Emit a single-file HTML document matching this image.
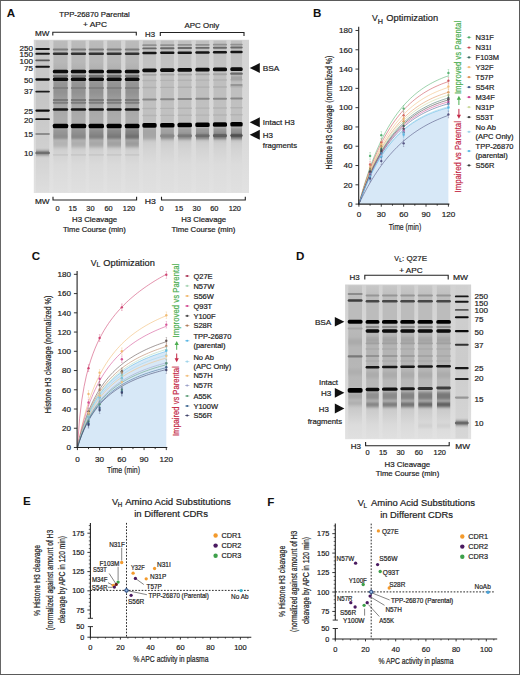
<!DOCTYPE html><html><head><meta charset="utf-8"><style>html,body{margin:0;padding:0;background:#fff;overflow:hidden}svg{display:block}text{font-family:"Liberation Sans",sans-serif}</style></head><body>
<svg width="520" height="675" viewBox="0 0 520 675">
<defs><filter id="bl" x="-20%" y="-200%" width="140%" height="500%"><feGaussianBlur stdDeviation="0.45 0.55"/></filter><filter id="bl2" x="-20%" y="-50%" width="140%" height="200%"><feGaussianBlur stdDeviation="0.6 1.2"/></filter><filter id="gblur" x="-5%" y="-5%" width="110%" height="110%"><feGaussianBlur stdDeviation="0.6 0.6"/></filter><filter id="smear" x="-10%" y="-60%" width="120%" height="220%"><feGaussianBlur stdDeviation="0.4 1.6"/></filter><filter id="bl3" x="-10%" y="-10%" width="120%" height="120%"><feGaussianBlur stdDeviation="0.5"/></filter></defs>
<rect x="0.00" y="0.00" width="520.00" height="675.00" fill="#fff"/>
<text x="6.80" y="16.80" font-size="11.6" text-anchor="start" fill="#111" font-weight="bold">A</text>
<text x="312.90" y="16.80" font-size="11.6" text-anchor="start" fill="#111" font-weight="bold">B</text>
<text x="31.70" y="260.30" font-size="11.6" text-anchor="start" fill="#111" font-weight="bold">C</text>
<text x="296.10" y="260.10" font-size="11.6" text-anchor="start" fill="#111" font-weight="bold">D</text>
<text x="22.90" y="504.90" font-size="11.6" text-anchor="start" fill="#111" font-weight="bold">E</text>
<text x="267.20" y="505.90" font-size="11.6" text-anchor="start" fill="#111" font-weight="bold">F</text>
<text x="59.20" y="16.90" font-size="7.8" text-anchor="start" fill="#222" stroke="#222" stroke-width="0.2" textLength="70.60" lengthAdjust="spacingAndGlyphs">TPP-26870 Parental</text>
<text x="83.00" y="26.90" font-size="7.8" text-anchor="start" fill="#222" stroke="#222" stroke-width="0.2" textLength="24.00" lengthAdjust="spacingAndGlyphs">+ APC</text>
<text x="184.50" y="28.00" font-size="7.8" text-anchor="start" fill="#222" stroke="#222" stroke-width="0.2" textLength="34.80" lengthAdjust="spacingAndGlyphs">APC Only</text>
<text x="35.00" y="36.30" font-size="7.4" text-anchor="start" fill="#222" stroke="#222" stroke-width="0.2" textLength="14.40" lengthAdjust="spacingAndGlyphs">MW</text>
<text x="145.00" y="37.00" font-size="7.4" text-anchor="start" fill="#222" stroke="#222" stroke-width="0.2" textLength="10.00" lengthAdjust="spacingAndGlyphs">H3</text>
<path d="M52.80,35.60 L52.80,32.30 L136.30,32.30 L136.30,35.60" fill="none" stroke="#222" stroke-width="1.1"/>
<path d="M160.30,36.00 L160.30,32.50 L244.00,32.50 L244.00,36.00" fill="none" stroke="#222" stroke-width="1.1"/>
<linearGradient id="gbg1" gradientUnits="userSpaceOnUse" x1="0" y1="39.8" x2="0" y2="193.0"><stop offset="0.000" stop-color="rgb(212,212,212)"/><stop offset="0.262" stop-color="rgb(214,214,214)"/><stop offset="0.654" stop-color="rgb(218,218,218)"/><stop offset="1.000" stop-color="rgb(226,226,226)"/></linearGradient>
<rect x="33.80" y="39.80" width="215.20" height="153.20" fill="url(#gbg1)"/>
<g filter="url(#gblur)">
<linearGradient id="lg1_0" gradientUnits="userSpaceOnUse" x1="0" y1="39.8" x2="0" y2="193.0"><stop offset="0.001" stop-color="rgb(200,200,200)"/><stop offset="0.393" stop-color="rgb(198,198,198)"/><stop offset="0.719" stop-color="rgb(208,208,208)"/><stop offset="1.000" stop-color="rgb(222,222,222)"/></linearGradient>
<rect x="35.90" y="40.60" width="13.40" height="151.60" fill="url(#lg1_0)"/>
<rect x="35.30" y="48.05" width="14.60" height="1.90" rx="0.95" fill="rgb(25,25,25)"/>
<rect x="35.30" y="52.85" width="14.60" height="1.90" rx="0.95" fill="rgb(25,25,25)"/>
<rect x="35.30" y="59.45" width="14.60" height="1.70" rx="0.85" fill="rgb(90,90,90)"/>
<rect x="35.30" y="65.75" width="14.60" height="1.90" rx="0.95" fill="rgb(20,20,20)"/>
<rect x="35.30" y="78.35" width="14.60" height="2.30" rx="1.15" fill="rgb(15,15,15)"/>
<rect x="35.30" y="90.65" width="14.60" height="1.90" rx="0.95" fill="rgb(30,30,30)"/>
<rect x="35.30" y="109.50" width="14.60" height="2.20" rx="1.10" fill="rgb(15,15,15)"/>
<rect x="35.30" y="118.30" width="14.60" height="1.80" rx="0.90" fill="rgb(25,25,25)"/>
<rect x="35.30" y="132.90" width="14.60" height="2.20" rx="1.10" fill="rgb(140,140,140)"/>
<rect x="36.00" y="150.80" width="13.20" height="4.20" fill="rgb(125,125,125)" filter="url(#smear)"/>
<rect x="35.30" y="151.70" width="14.60" height="2.40" rx="1.20" fill="rgb(110,110,110)"/>
<linearGradient id="lg1_1" gradientUnits="userSpaceOnUse" x1="0" y1="39.8" x2="0" y2="193.0"><stop offset="0.001" stop-color="rgb(188,188,188)"/><stop offset="0.067" stop-color="rgb(184,184,184)"/><stop offset="0.145" stop-color="rgb(184,184,184)"/><stop offset="0.197" stop-color="rgb(176,176,176)"/><stop offset="0.289" stop-color="rgb(148,148,148)"/><stop offset="0.341" stop-color="rgb(145,145,145)"/><stop offset="0.380" stop-color="rgb(155,155,155)"/><stop offset="0.432" stop-color="rgb(166,166,166)"/><stop offset="0.510" stop-color="rgb(172,172,172)"/><stop offset="0.550" stop-color="rgb(172,172,172)"/><stop offset="0.667" stop-color="rgb(196,196,196)"/><stop offset="0.732" stop-color="rgb(210,210,210)"/><stop offset="0.817" stop-color="rgb(218,218,218)"/><stop offset="1.000" stop-color="rgb(224,224,224)"/></linearGradient>
<rect x="53.40" y="40.60" width="14.20" height="151.60" fill="url(#lg1_1)"/>
<rect x="52.80" y="48.60" width="15.40" height="2.00" rx="1.00" fill="rgb(125,125,125)"/>
<rect x="52.80" y="52.50" width="15.40" height="2.60" rx="1.30" fill="rgb(50,50,50)"/>
<rect x="52.80" y="69.65" width="15.40" height="3.70" rx="1.60" fill="rgb(10,10,10)"/>
<rect x="52.80" y="74.90" width="15.40" height="2.20" rx="1.10" fill="rgb(115,115,115)"/>
<rect x="52.80" y="77.55" width="15.40" height="3.50" rx="1.60" fill="rgb(10,10,10)"/>
<rect x="52.80" y="86.90" width="15.40" height="2.20" rx="1.10" fill="rgb(128,128,128)"/>
<rect x="52.80" y="98.90" width="15.40" height="2.00" rx="1.00" fill="rgb(120,120,120)"/>
<rect x="52.80" y="101.80" width="15.40" height="2.00" rx="1.00" fill="rgb(125,125,125)"/>
<rect x="52.80" y="108.20" width="15.40" height="2.60" rx="1.30" fill="rgb(22,22,22)"/>
<rect x="53.50" y="128.50" width="14.00" height="11.00" fill="rgb(150,150,150)" filter="url(#smear)"/>
<rect x="53.50" y="134.75" width="14.00" height="3.50" fill="rgb(140,140,140)" filter="url(#smear)"/>
<rect x="53.50" y="140.00" width="14.00" height="7.00" fill="rgb(180,180,180)" filter="url(#smear)"/>
<rect x="52.80" y="123.70" width="15.40" height="4.60" rx="1.60" fill="rgb(6,6,6)"/>
<rect x="52.80" y="153.90" width="15.40" height="1.80" rx="0.90" fill="rgb(200,200,200)"/>
<linearGradient id="lg1_2" gradientUnits="userSpaceOnUse" x1="0" y1="39.8" x2="0" y2="193.0"><stop offset="0.001" stop-color="rgb(188,188,188)"/><stop offset="0.067" stop-color="rgb(184,184,184)"/><stop offset="0.145" stop-color="rgb(184,184,184)"/><stop offset="0.197" stop-color="rgb(176,176,176)"/><stop offset="0.289" stop-color="rgb(148,148,148)"/><stop offset="0.341" stop-color="rgb(145,145,145)"/><stop offset="0.380" stop-color="rgb(155,155,155)"/><stop offset="0.432" stop-color="rgb(166,166,166)"/><stop offset="0.510" stop-color="rgb(172,172,172)"/><stop offset="0.550" stop-color="rgb(172,172,172)"/><stop offset="0.667" stop-color="rgb(196,196,196)"/><stop offset="0.732" stop-color="rgb(210,210,210)"/><stop offset="0.817" stop-color="rgb(218,218,218)"/><stop offset="1.000" stop-color="rgb(224,224,224)"/></linearGradient>
<rect x="71.40" y="40.60" width="14.20" height="151.60" fill="url(#lg1_2)"/>
<rect x="70.80" y="48.60" width="15.40" height="2.00" rx="1.00" fill="rgb(125,125,125)"/>
<rect x="70.80" y="52.50" width="15.40" height="2.60" rx="1.30" fill="rgb(50,50,50)"/>
<rect x="70.80" y="69.65" width="15.40" height="3.70" rx="1.60" fill="rgb(10,10,10)"/>
<rect x="70.80" y="74.90" width="15.40" height="2.20" rx="1.10" fill="rgb(115,115,115)"/>
<rect x="70.80" y="77.55" width="15.40" height="3.50" rx="1.60" fill="rgb(10,10,10)"/>
<rect x="70.80" y="86.90" width="15.40" height="2.20" rx="1.10" fill="rgb(128,128,128)"/>
<rect x="70.80" y="98.90" width="15.40" height="2.00" rx="1.00" fill="rgb(120,120,120)"/>
<rect x="70.80" y="101.80" width="15.40" height="2.00" rx="1.00" fill="rgb(125,125,125)"/>
<rect x="70.80" y="108.20" width="15.40" height="2.60" rx="1.30" fill="rgb(22,22,22)"/>
<rect x="71.50" y="128.50" width="14.00" height="11.00" fill="rgb(145,145,145)" filter="url(#smear)"/>
<rect x="71.50" y="134.75" width="14.00" height="3.50" fill="rgb(132,132,132)" filter="url(#smear)"/>
<rect x="71.50" y="140.00" width="14.00" height="7.00" fill="rgb(174,174,174)" filter="url(#smear)"/>
<rect x="70.80" y="123.70" width="15.40" height="4.60" rx="1.60" fill="rgb(6,6,6)"/>
<rect x="70.80" y="153.90" width="15.40" height="1.80" rx="0.90" fill="rgb(200,200,200)"/>
<linearGradient id="lg1_3" gradientUnits="userSpaceOnUse" x1="0" y1="39.8" x2="0" y2="193.0"><stop offset="0.001" stop-color="rgb(188,188,188)"/><stop offset="0.067" stop-color="rgb(184,184,184)"/><stop offset="0.145" stop-color="rgb(184,184,184)"/><stop offset="0.197" stop-color="rgb(176,176,176)"/><stop offset="0.289" stop-color="rgb(148,148,148)"/><stop offset="0.341" stop-color="rgb(145,145,145)"/><stop offset="0.380" stop-color="rgb(155,155,155)"/><stop offset="0.432" stop-color="rgb(166,166,166)"/><stop offset="0.510" stop-color="rgb(172,172,172)"/><stop offset="0.550" stop-color="rgb(172,172,172)"/><stop offset="0.667" stop-color="rgb(196,196,196)"/><stop offset="0.732" stop-color="rgb(210,210,210)"/><stop offset="0.817" stop-color="rgb(218,218,218)"/><stop offset="1.000" stop-color="rgb(224,224,224)"/></linearGradient>
<rect x="89.20" y="40.60" width="14.20" height="151.60" fill="url(#lg1_3)"/>
<rect x="88.60" y="48.60" width="15.40" height="2.00" rx="1.00" fill="rgb(125,125,125)"/>
<rect x="88.60" y="52.50" width="15.40" height="2.60" rx="1.30" fill="rgb(50,50,50)"/>
<rect x="88.60" y="69.65" width="15.40" height="3.70" rx="1.60" fill="rgb(10,10,10)"/>
<rect x="88.60" y="74.90" width="15.40" height="2.20" rx="1.10" fill="rgb(115,115,115)"/>
<rect x="88.60" y="77.55" width="15.40" height="3.50" rx="1.60" fill="rgb(10,10,10)"/>
<rect x="88.60" y="86.90" width="15.40" height="2.20" rx="1.10" fill="rgb(128,128,128)"/>
<rect x="88.60" y="98.90" width="15.40" height="2.00" rx="1.00" fill="rgb(120,120,120)"/>
<rect x="88.60" y="101.80" width="15.40" height="2.00" rx="1.00" fill="rgb(125,125,125)"/>
<rect x="88.60" y="108.20" width="15.40" height="2.60" rx="1.30" fill="rgb(22,22,22)"/>
<rect x="89.30" y="128.50" width="14.00" height="11.00" fill="rgb(140,140,140)" filter="url(#smear)"/>
<rect x="89.30" y="134.75" width="14.00" height="3.50" fill="rgb(124,124,124)" filter="url(#smear)"/>
<rect x="89.30" y="140.00" width="14.00" height="7.00" fill="rgb(168,168,168)" filter="url(#smear)"/>
<rect x="88.60" y="123.70" width="15.40" height="4.60" rx="1.60" fill="rgb(6,6,6)"/>
<rect x="88.60" y="153.90" width="15.40" height="1.80" rx="0.90" fill="rgb(200,200,200)"/>
<linearGradient id="lg1_4" gradientUnits="userSpaceOnUse" x1="0" y1="39.8" x2="0" y2="193.0"><stop offset="0.001" stop-color="rgb(188,188,188)"/><stop offset="0.067" stop-color="rgb(184,184,184)"/><stop offset="0.145" stop-color="rgb(184,184,184)"/><stop offset="0.197" stop-color="rgb(176,176,176)"/><stop offset="0.289" stop-color="rgb(148,148,148)"/><stop offset="0.341" stop-color="rgb(145,145,145)"/><stop offset="0.380" stop-color="rgb(155,155,155)"/><stop offset="0.432" stop-color="rgb(166,166,166)"/><stop offset="0.510" stop-color="rgb(172,172,172)"/><stop offset="0.550" stop-color="rgb(172,172,172)"/><stop offset="0.667" stop-color="rgb(196,196,196)"/><stop offset="0.732" stop-color="rgb(210,210,210)"/><stop offset="0.817" stop-color="rgb(218,218,218)"/><stop offset="1.000" stop-color="rgb(224,224,224)"/></linearGradient>
<rect x="107.20" y="40.60" width="13.90" height="151.60" fill="url(#lg1_4)"/>
<rect x="106.60" y="48.60" width="15.10" height="2.00" rx="1.00" fill="rgb(125,125,125)"/>
<rect x="106.60" y="52.50" width="15.10" height="2.60" rx="1.30" fill="rgb(50,50,50)"/>
<rect x="106.60" y="69.65" width="15.10" height="3.70" rx="1.60" fill="rgb(10,10,10)"/>
<rect x="106.60" y="74.90" width="15.10" height="2.20" rx="1.10" fill="rgb(115,115,115)"/>
<rect x="106.60" y="77.55" width="15.10" height="3.50" rx="1.60" fill="rgb(10,10,10)"/>
<rect x="106.60" y="86.90" width="15.10" height="2.20" rx="1.10" fill="rgb(128,128,128)"/>
<rect x="106.60" y="98.90" width="15.10" height="2.00" rx="1.00" fill="rgb(120,120,120)"/>
<rect x="106.60" y="101.80" width="15.10" height="2.00" rx="1.00" fill="rgb(125,125,125)"/>
<rect x="106.60" y="108.20" width="15.10" height="2.60" rx="1.30" fill="rgb(22,22,22)"/>
<rect x="107.30" y="128.50" width="13.70" height="11.00" fill="rgb(135,135,135)" filter="url(#smear)"/>
<rect x="107.30" y="134.75" width="13.70" height="3.50" fill="rgb(116,116,116)" filter="url(#smear)"/>
<rect x="107.30" y="140.00" width="13.70" height="7.00" fill="rgb(162,162,162)" filter="url(#smear)"/>
<rect x="106.60" y="123.70" width="15.10" height="4.60" rx="1.60" fill="rgb(6,6,6)"/>
<rect x="106.60" y="153.90" width="15.10" height="1.80" rx="0.90" fill="rgb(200,200,200)"/>
<linearGradient id="lg1_5" gradientUnits="userSpaceOnUse" x1="0" y1="39.8" x2="0" y2="193.0"><stop offset="0.001" stop-color="rgb(188,188,188)"/><stop offset="0.067" stop-color="rgb(184,184,184)"/><stop offset="0.145" stop-color="rgb(184,184,184)"/><stop offset="0.197" stop-color="rgb(176,176,176)"/><stop offset="0.289" stop-color="rgb(148,148,148)"/><stop offset="0.341" stop-color="rgb(145,145,145)"/><stop offset="0.380" stop-color="rgb(155,155,155)"/><stop offset="0.432" stop-color="rgb(166,166,166)"/><stop offset="0.510" stop-color="rgb(172,172,172)"/><stop offset="0.550" stop-color="rgb(172,172,172)"/><stop offset="0.667" stop-color="rgb(196,196,196)"/><stop offset="0.732" stop-color="rgb(210,210,210)"/><stop offset="0.817" stop-color="rgb(218,218,218)"/><stop offset="1.000" stop-color="rgb(224,224,224)"/></linearGradient>
<rect x="125.40" y="40.60" width="13.50" height="151.60" fill="url(#lg1_5)"/>
<rect x="124.80" y="48.60" width="14.70" height="2.00" rx="1.00" fill="rgb(125,125,125)"/>
<rect x="124.80" y="52.50" width="14.70" height="2.60" rx="1.30" fill="rgb(50,50,50)"/>
<rect x="124.80" y="69.65" width="14.70" height="3.70" rx="1.60" fill="rgb(10,10,10)"/>
<rect x="124.80" y="74.90" width="14.70" height="2.20" rx="1.10" fill="rgb(115,115,115)"/>
<rect x="124.80" y="77.55" width="14.70" height="3.50" rx="1.60" fill="rgb(10,10,10)"/>
<rect x="124.80" y="86.90" width="14.70" height="2.20" rx="1.10" fill="rgb(128,128,128)"/>
<rect x="124.80" y="98.90" width="14.70" height="2.00" rx="1.00" fill="rgb(120,120,120)"/>
<rect x="124.80" y="101.80" width="14.70" height="2.00" rx="1.00" fill="rgb(125,125,125)"/>
<rect x="124.80" y="108.20" width="14.70" height="2.60" rx="1.30" fill="rgb(22,22,22)"/>
<rect x="125.50" y="128.50" width="13.30" height="11.00" fill="rgb(130,130,130)" filter="url(#smear)"/>
<rect x="125.50" y="134.75" width="13.30" height="3.50" fill="rgb(108,108,108)" filter="url(#smear)"/>
<rect x="125.50" y="140.00" width="13.30" height="7.00" fill="rgb(156,156,156)" filter="url(#smear)"/>
<rect x="124.80" y="123.70" width="14.70" height="4.60" rx="1.60" fill="rgb(6,6,6)"/>
<rect x="124.80" y="153.90" width="14.70" height="1.80" rx="0.90" fill="rgb(200,200,200)"/>
<linearGradient id="lg1_6" gradientUnits="userSpaceOnUse" x1="0" y1="39.8" x2="0" y2="193.0"><stop offset="0.001" stop-color="rgb(192,192,192)"/><stop offset="0.067" stop-color="rgb(192,192,192)"/><stop offset="0.164" stop-color="rgb(195,195,195)"/><stop offset="0.262" stop-color="rgb(191,191,191)"/><stop offset="0.360" stop-color="rgb(191,191,191)"/><stop offset="0.458" stop-color="rgb(193,193,193)"/><stop offset="0.523" stop-color="rgb(192,192,192)"/><stop offset="0.667" stop-color="rgb(205,205,205)"/><stop offset="0.719" stop-color="rgb(212,212,212)"/><stop offset="0.817" stop-color="rgb(220,220,220)"/><stop offset="1.000" stop-color="rgb(224,224,224)"/></linearGradient>
<rect x="142.90" y="40.60" width="13.20" height="151.60" fill="url(#lg1_6)"/>
<rect x="142.30" y="44.35" width="14.40" height="1.70" rx="0.85" fill="rgb(145,145,145)"/>
<rect x="142.30" y="47.45" width="14.40" height="1.90" rx="0.95" fill="rgb(105,105,105)"/>
<rect x="142.30" y="51.85" width="14.40" height="2.50" rx="1.25" fill="rgb(20,20,20)"/>
<rect x="142.30" y="68.40" width="14.40" height="3.80" rx="1.60" fill="rgb(8,8,8)"/>
<rect x="142.30" y="73.90" width="14.40" height="1.80" rx="0.90" fill="rgb(165,165,165)"/>
<rect x="142.30" y="98.40" width="14.40" height="2.00" rx="1.00" fill="rgb(135,135,135)"/>
<rect x="143.00" y="127.50" width="13.00" height="12.00" fill="rgb(165,165,165)" filter="url(#smear)"/>
<rect x="142.30" y="123.10" width="14.40" height="4.60" rx="1.60" fill="rgb(6,6,6)"/>
<rect x="142.30" y="79.80" width="14.40" height="1.40" rx="0.70" fill="rgb(178,178,178)"/>
<rect x="142.30" y="86.80" width="14.40" height="1.40" rx="0.70" fill="rgb(176,176,176)"/>
<rect x="142.30" y="107.80" width="14.40" height="1.40" rx="0.70" fill="rgb(178,178,178)"/>
<rect x="142.30" y="114.80" width="14.40" height="1.40" rx="0.70" fill="rgb(180,180,180)"/>
<linearGradient id="lg1_7" gradientUnits="userSpaceOnUse" x1="0" y1="39.8" x2="0" y2="193.0"><stop offset="0.001" stop-color="rgb(192,192,192)"/><stop offset="0.067" stop-color="rgb(192,192,192)"/><stop offset="0.164" stop-color="rgb(195,195,195)"/><stop offset="0.262" stop-color="rgb(191,191,191)"/><stop offset="0.360" stop-color="rgb(191,191,191)"/><stop offset="0.458" stop-color="rgb(193,193,193)"/><stop offset="0.523" stop-color="rgb(192,192,192)"/><stop offset="0.667" stop-color="rgb(205,205,205)"/><stop offset="0.719" stop-color="rgb(212,212,212)"/><stop offset="0.817" stop-color="rgb(220,220,220)"/><stop offset="1.000" stop-color="rgb(224,224,224)"/></linearGradient>
<rect x="160.70" y="40.60" width="13.20" height="151.60" fill="url(#lg1_7)"/>
<rect x="160.10" y="44.22" width="14.40" height="1.70" rx="0.85" fill="rgb(145,145,145)"/>
<rect x="160.10" y="47.27" width="14.40" height="1.90" rx="0.95" fill="rgb(105,105,105)"/>
<rect x="160.10" y="51.62" width="14.40" height="2.50" rx="1.25" fill="rgb(20,20,20)"/>
<rect x="160.10" y="68.17" width="14.40" height="3.80" rx="1.60" fill="rgb(8,8,8)"/>
<rect x="160.10" y="73.76" width="14.40" height="1.80" rx="0.90" fill="rgb(165,165,165)"/>
<rect x="160.10" y="98.22" width="14.40" height="2.00" rx="1.00" fill="rgb(135,135,135)"/>
<rect x="160.80" y="127.50" width="13.00" height="12.00" fill="rgb(161,161,161)" filter="url(#smear)"/>
<rect x="160.80" y="134.41" width="13.00" height="3.60" fill="rgb(138,138,138)" filter="url(#smear)"/>
<rect x="160.10" y="134.61" width="14.40" height="2.60" rx="1.30" fill="rgb(136,136,136)"/>
<rect x="160.10" y="122.88" width="14.40" height="4.60" rx="1.60" fill="rgb(6,6,6)"/>
<rect x="160.10" y="79.66" width="14.40" height="1.40" rx="0.70" fill="rgb(178,178,178)"/>
<rect x="160.10" y="86.66" width="14.40" height="1.40" rx="0.70" fill="rgb(176,176,176)"/>
<rect x="160.10" y="107.66" width="14.40" height="1.40" rx="0.70" fill="rgb(178,178,178)"/>
<rect x="160.10" y="114.66" width="14.40" height="1.40" rx="0.70" fill="rgb(180,180,180)"/>
<linearGradient id="lg1_8" gradientUnits="userSpaceOnUse" x1="0" y1="39.8" x2="0" y2="193.0"><stop offset="0.001" stop-color="rgb(192,192,192)"/><stop offset="0.067" stop-color="rgb(192,192,192)"/><stop offset="0.164" stop-color="rgb(195,195,195)"/><stop offset="0.262" stop-color="rgb(191,191,191)"/><stop offset="0.360" stop-color="rgb(191,191,191)"/><stop offset="0.458" stop-color="rgb(193,193,193)"/><stop offset="0.523" stop-color="rgb(192,192,192)"/><stop offset="0.667" stop-color="rgb(205,205,205)"/><stop offset="0.719" stop-color="rgb(212,212,212)"/><stop offset="0.817" stop-color="rgb(220,220,220)"/><stop offset="1.000" stop-color="rgb(224,224,224)"/></linearGradient>
<rect x="178.10" y="40.60" width="13.30" height="151.60" fill="url(#lg1_8)"/>
<rect x="177.50" y="44.08" width="14.50" height="1.70" rx="0.85" fill="rgb(145,145,145)"/>
<rect x="177.50" y="47.09" width="14.50" height="1.90" rx="0.95" fill="rgb(105,105,105)"/>
<rect x="177.50" y="51.40" width="14.50" height="2.50" rx="1.25" fill="rgb(20,20,20)"/>
<rect x="177.50" y="67.95" width="14.50" height="3.80" rx="1.60" fill="rgb(8,8,8)"/>
<rect x="177.50" y="73.63" width="14.50" height="1.80" rx="0.90" fill="rgb(165,165,165)"/>
<rect x="177.50" y="98.04" width="14.50" height="2.00" rx="1.00" fill="rgb(135,135,135)"/>
<rect x="178.20" y="127.50" width="13.10" height="12.00" fill="rgb(157,157,157)" filter="url(#smear)"/>
<rect x="178.20" y="134.32" width="13.10" height="3.60" fill="rgb(126,126,126)" filter="url(#smear)"/>
<rect x="177.50" y="134.52" width="14.50" height="2.60" rx="1.30" fill="rgb(122,122,122)"/>
<rect x="177.50" y="122.65" width="14.50" height="4.60" rx="1.60" fill="rgb(6,6,6)"/>
<rect x="177.50" y="79.53" width="14.50" height="1.40" rx="0.70" fill="rgb(178,178,178)"/>
<rect x="177.50" y="86.53" width="14.50" height="1.40" rx="0.70" fill="rgb(176,176,176)"/>
<rect x="177.50" y="107.53" width="14.50" height="1.40" rx="0.70" fill="rgb(178,178,178)"/>
<rect x="177.50" y="114.53" width="14.50" height="1.40" rx="0.70" fill="rgb(180,180,180)"/>
<linearGradient id="lg1_9" gradientUnits="userSpaceOnUse" x1="0" y1="39.8" x2="0" y2="193.0"><stop offset="0.001" stop-color="rgb(192,192,192)"/><stop offset="0.067" stop-color="rgb(192,192,192)"/><stop offset="0.164" stop-color="rgb(195,195,195)"/><stop offset="0.262" stop-color="rgb(191,191,191)"/><stop offset="0.360" stop-color="rgb(191,191,191)"/><stop offset="0.458" stop-color="rgb(193,193,193)"/><stop offset="0.523" stop-color="rgb(192,192,192)"/><stop offset="0.667" stop-color="rgb(205,205,205)"/><stop offset="0.719" stop-color="rgb(212,212,212)"/><stop offset="0.817" stop-color="rgb(220,220,220)"/><stop offset="1.000" stop-color="rgb(224,224,224)"/></linearGradient>
<rect x="195.90" y="40.60" width="13.20" height="151.60" fill="url(#lg1_9)"/>
<rect x="195.30" y="43.95" width="14.40" height="1.70" rx="0.85" fill="rgb(145,145,145)"/>
<rect x="195.30" y="46.91" width="14.40" height="1.90" rx="0.95" fill="rgb(105,105,105)"/>
<rect x="195.30" y="51.18" width="14.40" height="2.50" rx="1.25" fill="rgb(20,20,20)"/>
<rect x="195.30" y="67.72" width="14.40" height="3.80" rx="1.60" fill="rgb(8,8,8)"/>
<rect x="195.30" y="73.49" width="14.40" height="1.80" rx="0.90" fill="rgb(165,165,165)"/>
<rect x="195.30" y="97.86" width="14.40" height="2.00" rx="1.00" fill="rgb(135,135,135)"/>
<rect x="196.00" y="127.50" width="13.00" height="12.00" fill="rgb(153,153,153)" filter="url(#smear)"/>
<rect x="196.00" y="134.23" width="13.00" height="3.60" fill="rgb(114,114,114)" filter="url(#smear)"/>
<rect x="195.30" y="134.43" width="14.40" height="2.60" rx="1.30" fill="rgb(108,108,108)"/>
<rect x="195.30" y="122.43" width="14.40" height="4.60" rx="1.60" fill="rgb(6,6,6)"/>
<rect x="195.30" y="79.39" width="14.40" height="1.40" rx="0.70" fill="rgb(178,178,178)"/>
<rect x="195.30" y="86.39" width="14.40" height="1.40" rx="0.70" fill="rgb(176,176,176)"/>
<rect x="195.30" y="107.39" width="14.40" height="1.40" rx="0.70" fill="rgb(178,178,178)"/>
<rect x="195.30" y="114.39" width="14.40" height="1.40" rx="0.70" fill="rgb(180,180,180)"/>
<linearGradient id="lg1_10" gradientUnits="userSpaceOnUse" x1="0" y1="39.8" x2="0" y2="193.0"><stop offset="0.001" stop-color="rgb(192,192,192)"/><stop offset="0.067" stop-color="rgb(192,192,192)"/><stop offset="0.164" stop-color="rgb(195,195,195)"/><stop offset="0.262" stop-color="rgb(191,191,191)"/><stop offset="0.360" stop-color="rgb(191,191,191)"/><stop offset="0.458" stop-color="rgb(193,193,193)"/><stop offset="0.523" stop-color="rgb(192,192,192)"/><stop offset="0.667" stop-color="rgb(205,205,205)"/><stop offset="0.719" stop-color="rgb(212,212,212)"/><stop offset="0.817" stop-color="rgb(220,220,220)"/><stop offset="1.000" stop-color="rgb(224,224,224)"/></linearGradient>
<rect x="213.50" y="40.60" width="12.90" height="151.60" fill="url(#lg1_10)"/>
<rect x="212.90" y="43.81" width="14.10" height="1.70" rx="0.85" fill="rgb(145,145,145)"/>
<rect x="212.90" y="46.73" width="14.10" height="1.90" rx="0.95" fill="rgb(105,105,105)"/>
<rect x="212.90" y="50.95" width="14.10" height="2.50" rx="1.25" fill="rgb(20,20,20)"/>
<rect x="212.90" y="67.50" width="14.10" height="3.80" rx="1.60" fill="rgb(8,8,8)"/>
<rect x="212.90" y="73.36" width="14.10" height="1.80" rx="0.90" fill="rgb(165,165,165)"/>
<rect x="212.90" y="97.68" width="14.10" height="2.00" rx="1.00" fill="rgb(135,135,135)"/>
<rect x="213.60" y="127.50" width="12.70" height="12.00" fill="rgb(149,149,149)" filter="url(#smear)"/>
<rect x="213.60" y="134.14" width="12.70" height="3.60" fill="rgb(102,102,102)" filter="url(#smear)"/>
<rect x="212.90" y="134.34" width="14.10" height="2.60" rx="1.30" fill="rgb(94,94,94)"/>
<rect x="212.90" y="122.20" width="14.10" height="4.60" rx="1.60" fill="rgb(6,6,6)"/>
<rect x="212.90" y="79.26" width="14.10" height="1.40" rx="0.70" fill="rgb(178,178,178)"/>
<rect x="212.90" y="86.26" width="14.10" height="1.40" rx="0.70" fill="rgb(176,176,176)"/>
<rect x="212.90" y="107.26" width="14.10" height="1.40" rx="0.70" fill="rgb(178,178,178)"/>
<rect x="212.90" y="114.26" width="14.10" height="1.40" rx="0.70" fill="rgb(180,180,180)"/>
<linearGradient id="lg1_11" gradientUnits="userSpaceOnUse" x1="0" y1="39.8" x2="0" y2="193.0"><stop offset="0.001" stop-color="rgb(192,192,192)"/><stop offset="0.067" stop-color="rgb(192,192,192)"/><stop offset="0.164" stop-color="rgb(195,195,195)"/><stop offset="0.262" stop-color="rgb(191,191,191)"/><stop offset="0.360" stop-color="rgb(191,191,191)"/><stop offset="0.458" stop-color="rgb(193,193,193)"/><stop offset="0.523" stop-color="rgb(192,192,192)"/><stop offset="0.667" stop-color="rgb(205,205,205)"/><stop offset="0.719" stop-color="rgb(212,212,212)"/><stop offset="0.817" stop-color="rgb(220,220,220)"/><stop offset="1.000" stop-color="rgb(224,224,224)"/></linearGradient>
<rect x="230.90" y="40.60" width="11.20" height="151.60" fill="url(#lg1_11)"/>
<rect x="230.30" y="43.68" width="12.40" height="1.70" rx="0.85" fill="rgb(145,145,145)"/>
<rect x="230.30" y="46.55" width="12.40" height="1.90" rx="0.95" fill="rgb(105,105,105)"/>
<rect x="230.30" y="50.73" width="12.40" height="2.50" rx="1.25" fill="rgb(20,20,20)"/>
<rect x="230.30" y="67.27" width="12.40" height="3.80" rx="1.60" fill="rgb(8,8,8)"/>
<rect x="230.30" y="73.22" width="12.40" height="1.80" rx="0.90" fill="rgb(165,165,165)"/>
<rect x="230.30" y="97.50" width="12.40" height="2.00" rx="1.00" fill="rgb(135,135,135)"/>
<rect x="231.00" y="127.50" width="11.00" height="12.00" fill="rgb(145,145,145)" filter="url(#smear)"/>
<rect x="231.00" y="134.05" width="11.00" height="3.60" fill="rgb(90,90,90)" filter="url(#smear)"/>
<rect x="230.30" y="134.25" width="12.40" height="2.60" rx="1.30" fill="rgb(80,80,80)"/>
<rect x="230.30" y="121.98" width="12.40" height="4.60" rx="1.60" fill="rgb(6,6,6)"/>
<rect x="230.30" y="79.12" width="12.40" height="1.40" rx="0.70" fill="rgb(178,178,178)"/>
<rect x="230.30" y="86.12" width="12.40" height="1.40" rx="0.70" fill="rgb(176,176,176)"/>
<rect x="230.30" y="107.12" width="12.40" height="1.40" rx="0.70" fill="rgb(178,178,178)"/>
<rect x="230.30" y="114.12" width="12.40" height="1.40" rx="0.70" fill="rgb(180,180,180)"/>
<rect x="230.30" y="72.40" width="12.40" height="2.40" rx="1.20" fill="rgb(105,105,105)"/>
<rect x="230.30" y="83.90" width="12.40" height="2.00" rx="1.00" fill="rgb(150,150,150)"/>
<rect x="231.00" y="76.50" width="11.00" height="3.00" fill="rgb(150,150,150)" filter="url(#smear)"/>
</g>
<text x="33.00" y="51.10" font-size="8.1" text-anchor="end" fill="#222" stroke="#222" stroke-width="0.2">250</text>
<text x="33.00" y="56.90" font-size="8.1" text-anchor="end" fill="#222" stroke="#222" stroke-width="0.2">150</text>
<text x="33.00" y="63.80" font-size="8.1" text-anchor="end" fill="#222" stroke="#222" stroke-width="0.2">100</text>
<text x="33.00" y="70.90" font-size="8.1" text-anchor="end" fill="#222" stroke="#222" stroke-width="0.2">75</text>
<text x="33.00" y="82.90" font-size="8.1" text-anchor="end" fill="#222" stroke="#222" stroke-width="0.2">50</text>
<text x="33.00" y="94.20" font-size="8.1" text-anchor="end" fill="#222" stroke="#222" stroke-width="0.2">37</text>
<text x="33.00" y="113.50" font-size="8.1" text-anchor="end" fill="#222" stroke="#222" stroke-width="0.2">25</text>
<text x="33.00" y="123.10" font-size="8.1" text-anchor="end" fill="#222" stroke="#222" stroke-width="0.2">20</text>
<text x="33.00" y="136.70" font-size="8.1" text-anchor="end" fill="#222" stroke="#222" stroke-width="0.2">15</text>
<text x="33.00" y="155.90" font-size="8.1" text-anchor="end" fill="#222" stroke="#222" stroke-width="0.2">10</text>
<path d="M249.70,68.00 L259.80,63.10 L259.80,72.90 Z" fill="#111"/>
<path d="M249.70,122.30 L259.80,117.30 L259.80,127.30 Z" fill="#111"/>
<path d="M249.70,134.80 L259.80,129.80 L259.80,139.80 Z" fill="#111"/>
<text x="262.80" y="70.60" font-size="7.6" text-anchor="start" fill="#222" stroke="#222" stroke-width="0.2" textLength="16.60" lengthAdjust="spacingAndGlyphs">BSA</text>
<text x="262.80" y="124.60" font-size="7.6" text-anchor="start" fill="#222" stroke="#222" stroke-width="0.2" textLength="31.80" lengthAdjust="spacingAndGlyphs">Intact H3</text>
<text x="262.80" y="137.70" font-size="7.6" text-anchor="start" fill="#222" stroke="#222" stroke-width="0.2" textLength="10.20" lengthAdjust="spacingAndGlyphs">H3</text>
<text x="262.80" y="148.20" font-size="7.6" text-anchor="start" fill="#222" stroke="#222" stroke-width="0.2" textLength="34.30" lengthAdjust="spacingAndGlyphs">fragments</text>
<text x="35.00" y="204.20" font-size="7.4" text-anchor="start" fill="#222" stroke="#222" stroke-width="0.2" textLength="14.60" lengthAdjust="spacingAndGlyphs">MW</text>
<path d="M53.00,196.80 L53.00,200.00 L136.60,200.00 L136.60,196.80" fill="none" stroke="#222" stroke-width="1.1"/>
<text x="57.50" y="211.10" font-size="7.4" text-anchor="middle" fill="#222" stroke="#222" stroke-width="0.2">0</text>
<text x="72.70" y="211.10" font-size="7.4" text-anchor="middle" fill="#222" stroke="#222" stroke-width="0.2">15</text>
<text x="90.40" y="211.10" font-size="7.4" text-anchor="middle" fill="#222" stroke="#222" stroke-width="0.2">30</text>
<text x="108.50" y="211.10" font-size="7.4" text-anchor="middle" fill="#222" stroke="#222" stroke-width="0.2">60</text>
<text x="129.00" y="211.10" font-size="7.4" text-anchor="middle" fill="#222" stroke="#222" stroke-width="0.2">120</text>
<text x="72.00" y="222.00" font-size="7.6" text-anchor="start" fill="#222" stroke="#222" stroke-width="0.2" textLength="45.20" lengthAdjust="spacingAndGlyphs">H3 Cleavage</text>
<text x="63.00" y="232.40" font-size="7.6" text-anchor="start" fill="#222" stroke="#222" stroke-width="0.2" textLength="62.80" lengthAdjust="spacingAndGlyphs">Time Course (min)</text>
<text x="144.70" y="204.20" font-size="7.4" text-anchor="start" fill="#222" stroke="#222" stroke-width="0.2" textLength="11.10" lengthAdjust="spacingAndGlyphs">H3</text>
<path d="M161.50,196.80 L161.50,200.00 L245.30,200.00 L245.30,196.80" fill="none" stroke="#222" stroke-width="1.1"/>
<text x="161.50" y="211.10" font-size="7.4" text-anchor="middle" fill="#222" stroke="#222" stroke-width="0.2">0</text>
<text x="178.90" y="211.10" font-size="7.4" text-anchor="middle" fill="#222" stroke="#222" stroke-width="0.2">15</text>
<text x="196.70" y="211.10" font-size="7.4" text-anchor="middle" fill="#222" stroke="#222" stroke-width="0.2">30</text>
<text x="214.30" y="211.10" font-size="7.4" text-anchor="middle" fill="#222" stroke="#222" stroke-width="0.2">60</text>
<text x="234.80" y="211.10" font-size="7.4" text-anchor="middle" fill="#222" stroke="#222" stroke-width="0.2">120</text>
<text x="181.20" y="222.00" font-size="7.6" text-anchor="start" fill="#222" stroke="#222" stroke-width="0.2" textLength="45.00" lengthAdjust="spacingAndGlyphs">H3 Cleavage</text>
<text x="171.50" y="232.40" font-size="7.6" text-anchor="start" fill="#222" stroke="#222" stroke-width="0.2" textLength="63.90" lengthAdjust="spacingAndGlyphs">Time Course (min)</text>
<path d="M358.90,204.10 L361.14,197.92 L363.37,192.11 L365.61,186.63 L367.85,181.47 L370.09,176.61 L372.32,172.03 L374.56,167.72 L376.80,163.66 L379.04,159.84 L381.27,156.24 L383.51,152.85 L385.75,149.66 L387.99,146.65 L390.22,143.82 L392.46,141.15 L394.70,138.64 L396.94,136.28 L399.17,134.05 L401.41,131.95 L403.65,129.98 L405.89,128.12 L408.12,126.36 L410.36,124.71 L412.60,123.16 L414.83,121.70 L417.07,120.32 L419.31,119.02 L421.55,117.80 L423.78,116.65 L426.02,115.56 L428.26,114.54 L430.50,113.58 L432.73,112.67 L434.97,111.82 L437.21,111.02 L439.45,110.26 L441.68,109.55 L443.92,108.88 L446.16,108.25 L448.40,107.65 L448.40,204.10 L358.90,204.10 Z" fill="#d7e8f7"/>
<path d="M358.90,204.10 L361.14,195.88 L363.37,188.15 L365.61,180.86 L367.85,174.00 L370.09,167.54 L372.32,161.45 L374.56,155.72 L376.80,150.32 L379.04,145.24 L381.27,140.45 L383.51,135.94 L385.75,131.69 L387.99,127.69 L390.22,123.93 L392.46,120.38 L394.70,117.04 L396.94,113.89 L399.17,110.93 L401.41,108.14 L403.65,105.51 L405.89,103.04 L408.12,100.71 L410.36,98.52 L412.60,96.45 L414.83,94.50 L417.07,92.67 L419.31,90.94 L421.55,89.32 L423.78,87.79 L426.02,86.34 L428.26,84.99 L430.50,83.71 L432.73,82.50 L434.97,81.37 L437.21,80.30 L439.45,79.29 L441.68,78.35 L443.92,77.45 L446.16,76.61 L448.40,75.82" fill="none" stroke="#4fae6a" stroke-width="0.65" opacity="0.85"/>
<path d="M358.90,204.10 L361.14,196.25 L363.37,188.87 L365.61,181.91 L367.85,175.36 L370.09,169.19 L372.32,163.37 L374.56,157.90 L376.80,152.75 L379.04,147.89 L381.27,143.32 L383.51,139.01 L385.75,134.96 L387.99,131.14 L390.22,127.54 L392.46,124.16 L394.70,120.97 L396.94,117.96 L399.17,115.14 L401.41,112.47 L403.65,109.96 L405.89,107.60 L408.12,105.37 L410.36,103.28 L412.60,101.30 L414.83,99.45 L417.07,97.70 L419.31,96.05 L421.55,94.49 L423.78,93.03 L426.02,91.66 L428.26,90.36 L430.50,89.14 L432.73,87.99 L434.97,86.90 L437.21,85.88 L439.45,84.92 L441.68,84.02 L443.92,83.17 L446.16,82.36 L448.40,81.61" fill="none" stroke="#c8464e" stroke-width="0.65" opacity="0.85"/>
<path d="M358.90,204.10 L361.14,196.63 L363.37,189.59 L365.61,182.96 L367.85,176.71 L370.09,170.83 L372.32,165.30 L374.56,160.08 L376.80,155.17 L379.04,150.55 L381.27,146.19 L383.51,142.09 L385.75,138.23 L387.99,134.59 L390.22,131.16 L392.46,127.93 L394.70,124.90 L396.94,122.03 L399.17,119.34 L401.41,116.80 L403.65,114.41 L405.89,112.16 L408.12,110.04 L410.36,108.04 L412.60,106.16 L414.83,104.39 L417.07,102.72 L419.31,101.15 L421.55,99.67 L423.78,98.28 L426.02,96.97 L428.26,95.73 L430.50,94.57 L432.73,93.47 L434.97,92.44 L437.21,91.47 L439.45,90.55 L441.68,89.69 L443.92,88.88 L446.16,88.12 L448.40,87.40" fill="none" stroke="#f2bb78" stroke-width="0.65" opacity="0.85"/>
<path d="M358.90,204.10 L361.14,196.93 L363.37,190.19 L365.61,183.83 L367.85,177.85 L370.09,172.21 L372.32,166.90 L374.56,161.90 L376.80,157.19 L379.04,152.76 L381.27,148.58 L383.51,144.65 L385.75,140.95 L387.99,137.46 L390.22,134.18 L392.46,131.08 L394.70,128.17 L396.94,125.42 L399.17,122.84 L401.41,120.41 L403.65,118.12 L405.89,115.96 L408.12,113.93 L410.36,112.01 L412.60,110.21 L414.83,108.51 L417.07,106.91 L419.31,105.41 L421.55,103.99 L423.78,102.65 L426.02,101.39 L428.26,100.21 L430.50,99.09 L432.73,98.04 L434.97,97.05 L437.21,96.12 L439.45,95.25 L441.68,94.42 L443.92,93.64 L446.16,92.91 L448.40,92.22" fill="none" stroke="#de8f55" stroke-width="0.65" opacity="0.85"/>
<path d="M358.90,204.10 L361.14,197.12 L363.37,190.55 L365.61,184.36 L367.85,178.52 L370.09,173.03 L372.32,167.86 L374.56,162.99 L376.80,158.41 L379.04,154.09 L381.27,150.02 L383.51,146.19 L385.75,142.58 L387.99,139.18 L390.22,135.98 L392.46,132.97 L394.70,130.13 L396.94,127.46 L399.17,124.94 L401.41,122.57 L403.65,120.34 L405.89,118.24 L408.12,116.26 L410.36,114.39 L412.60,112.64 L414.83,110.98 L417.07,109.43 L419.31,107.96 L421.55,106.58 L423.78,105.28 L426.02,104.05 L428.26,102.90 L430.50,101.81 L432.73,100.79 L434.97,99.82 L437.21,98.92 L439.45,98.06 L441.68,97.26 L443.92,96.50 L446.16,95.78 L448.40,95.11" fill="none" stroke="#cbd79a" stroke-width="0.65" opacity="0.85"/>
<path d="M358.90,204.10 L361.14,197.31 L363.37,190.91 L365.61,184.88 L367.85,179.20 L370.09,173.86 L372.32,168.82 L374.56,164.08 L376.80,159.62 L379.04,155.42 L381.27,151.46 L383.51,147.73 L385.75,144.21 L387.99,140.91 L390.22,137.79 L392.46,134.86 L394.70,132.10 L396.94,129.49 L399.17,127.04 L401.41,124.74 L403.65,122.56 L405.89,120.52 L408.12,118.59 L410.36,116.77 L412.60,115.06 L414.83,113.45 L417.07,111.94 L419.31,110.51 L421.55,109.17 L423.78,107.90 L426.02,106.71 L428.26,105.58 L430.50,104.53 L432.73,103.53 L434.97,102.59 L437.21,101.71 L439.45,100.88 L441.68,100.09 L443.92,99.35 L446.16,98.66 L448.40,98.00" fill="none" stroke="#3f6f64" stroke-width="0.65" opacity="0.85"/>
<path d="M358.90,204.10 L361.14,197.43 L363.37,191.15 L365.61,185.23 L367.85,179.66 L370.09,174.41 L372.32,169.47 L374.56,164.81 L376.80,160.43 L379.04,156.30 L381.27,152.41 L383.51,148.75 L385.75,145.30 L387.99,142.06 L390.22,139.00 L392.46,136.12 L394.70,133.41 L396.94,130.85 L399.17,128.45 L401.41,126.18 L403.65,124.05 L405.89,122.04 L408.12,120.14 L410.36,118.36 L412.60,116.68 L414.83,115.10 L417.07,113.61 L419.31,112.21 L421.55,110.89 L423.78,109.65 L426.02,108.48 L428.26,107.38 L430.50,106.34 L432.73,105.36 L434.97,104.44 L437.21,103.57 L439.45,102.75 L441.68,101.98 L443.92,101.26 L446.16,100.58 L448.40,99.93" fill="none" stroke="#3d3d3d" stroke-width="0.65" opacity="0.85"/>
<path d="M358.90,204.10 L361.14,197.55 L363.37,191.39 L365.61,185.58 L367.85,180.11 L370.09,174.96 L372.32,170.11 L374.56,165.54 L376.80,161.24 L379.04,157.19 L381.27,153.37 L383.51,149.78 L385.75,146.39 L387.99,143.20 L390.22,140.20 L392.46,137.38 L394.70,134.71 L396.94,132.21 L399.17,129.85 L401.41,127.62 L403.65,125.53 L405.89,123.56 L408.12,121.70 L410.36,119.95 L412.60,118.30 L414.83,116.75 L417.07,115.29 L419.31,113.91 L421.55,112.62 L423.78,111.40 L426.02,110.25 L428.26,109.17 L430.50,108.15 L432.73,107.19 L434.97,106.28 L437.21,105.43 L439.45,104.63 L441.68,103.87 L443.92,103.16 L446.16,102.49 L448.40,101.86" fill="none" stroke="#cc3f8c" stroke-width="0.65" opacity="0.85"/>
<path d="M358.90,204.10 L361.14,197.68 L363.37,191.63 L365.61,185.93 L367.85,180.56 L370.09,175.51 L372.32,170.75 L374.56,166.27 L376.80,162.05 L379.04,158.07 L381.27,154.33 L383.51,150.80 L385.75,147.48 L387.99,144.35 L390.22,141.41 L392.46,138.64 L394.70,136.02 L396.94,133.56 L399.17,131.25 L401.41,129.07 L403.65,127.01 L405.89,125.08 L408.12,123.25 L410.36,121.54 L412.60,119.92 L414.83,118.40 L417.07,116.97 L419.31,115.62 L421.55,114.34 L423.78,113.15 L426.02,112.02 L428.26,110.96 L430.50,109.96 L432.73,109.02 L434.97,108.13 L437.21,107.29 L439.45,106.51 L441.68,105.77 L443.92,105.07 L446.16,104.41 L448.40,103.79" fill="none" stroke="#3f5b8c" stroke-width="0.65" opacity="0.85"/>
<path d="M358.90,204.10 L361.14,197.86 L363.37,191.99 L365.61,186.45 L367.85,181.24 L370.09,176.33 L372.32,171.71 L374.56,167.36 L376.80,163.26 L379.04,159.40 L381.27,155.76 L383.51,152.34 L385.75,149.11 L387.99,146.08 L390.22,143.22 L392.46,140.52 L394.70,137.99 L396.94,135.60 L399.17,133.35 L401.41,131.23 L403.65,129.23 L405.89,127.36 L408.12,125.59 L410.36,123.92 L412.60,122.35 L414.83,120.87 L417.07,119.48 L419.31,118.17 L421.55,116.93 L423.78,115.77 L426.02,114.68 L428.26,113.64 L430.50,112.67 L432.73,111.76 L434.97,110.90 L437.21,110.09 L439.45,109.32 L441.68,108.60 L443.92,107.92 L446.16,107.29 L448.40,106.69" fill="none" stroke="#9fd4ea" stroke-width="0.65" opacity="0.85"/>
<path d="M358.90,204.10 L361.14,197.92 L363.37,192.11 L365.61,186.63 L367.85,181.47 L370.09,176.61 L372.32,172.03 L374.56,167.72 L376.80,163.66 L379.04,159.84 L381.27,156.24 L383.51,152.85 L385.75,149.66 L387.99,146.65 L390.22,143.82 L392.46,141.15 L394.70,138.64 L396.94,136.28 L399.17,134.05 L401.41,131.95 L403.65,129.98 L405.89,128.12 L408.12,126.36 L410.36,124.71 L412.60,123.16 L414.83,121.70 L417.07,120.32 L419.31,119.02 L421.55,117.80 L423.78,116.65 L426.02,115.56 L428.26,114.54 L430.50,113.58 L432.73,112.67 L434.97,111.82 L437.21,111.02 L439.45,110.26 L441.68,109.55 L443.92,108.88 L446.16,108.25 L448.40,107.65" fill="none" stroke="#58b7e4" stroke-width="0.65" opacity="0.85"/>
<path d="M358.90,204.10 L361.14,199.42 L363.37,194.95 L365.61,190.68 L367.85,186.59 L370.09,182.68 L372.32,178.95 L374.56,175.37 L376.80,171.96 L379.04,168.70 L381.27,165.58 L383.51,162.59 L385.75,159.74 L387.99,157.02 L390.22,154.41 L392.46,151.92 L394.70,149.54 L396.94,147.26 L399.17,145.08 L401.41,143.00 L403.65,141.01 L405.89,139.11 L408.12,137.29 L410.36,135.56 L412.60,133.89 L414.83,132.31 L417.07,130.79 L419.31,129.34 L421.55,127.95 L423.78,126.62 L426.02,125.35 L428.26,124.14 L430.50,122.98 L432.73,121.87 L434.97,120.81 L437.21,119.80 L439.45,118.83 L441.68,117.91 L443.92,117.02 L446.16,116.17 L448.40,115.37" fill="none" stroke="#4b4a7a" stroke-width="0.65" opacity="0.85"/>
<line x1="370.09" y1="152.47" x2="370.09" y2="159.28" stroke="#4fae6a" stroke-width="0.45" opacity="0.7"/>
<line x1="369.29" y1="152.47" x2="370.89" y2="152.47" stroke="#4fae6a" stroke-width="0.4" opacity="0.7"/>
<line x1="369.29" y1="159.28" x2="370.89" y2="159.28" stroke="#4fae6a" stroke-width="0.4" opacity="0.7"/>
<circle cx="370.09" cy="155.88" r="1.2" fill="#4fae6a" opacity="0.9"/>
<line x1="381.27" y1="131.74" x2="381.27" y2="138.54" stroke="#4fae6a" stroke-width="0.45" opacity="0.7"/>
<line x1="380.47" y1="131.74" x2="382.07" y2="131.74" stroke="#4fae6a" stroke-width="0.4" opacity="0.7"/>
<line x1="380.47" y1="138.54" x2="382.07" y2="138.54" stroke="#4fae6a" stroke-width="0.4" opacity="0.7"/>
<circle cx="381.27" cy="135.14" r="1.2" fill="#4fae6a" opacity="0.9"/>
<line x1="403.65" y1="105.21" x2="403.65" y2="112.01" stroke="#4fae6a" stroke-width="0.45" opacity="0.7"/>
<line x1="402.85" y1="105.21" x2="404.45" y2="105.21" stroke="#4fae6a" stroke-width="0.4" opacity="0.7"/>
<line x1="402.85" y1="112.01" x2="404.45" y2="112.01" stroke="#4fae6a" stroke-width="0.4" opacity="0.7"/>
<circle cx="403.65" cy="108.61" r="1.2" fill="#4fae6a" opacity="0.9"/>
<line x1="448.40" y1="69.53" x2="448.40" y2="76.33" stroke="#4fae6a" stroke-width="0.45" opacity="0.7"/>
<line x1="447.60" y1="69.53" x2="449.20" y2="69.53" stroke="#4fae6a" stroke-width="0.4" opacity="0.7"/>
<line x1="447.60" y1="76.33" x2="449.20" y2="76.33" stroke="#4fae6a" stroke-width="0.4" opacity="0.7"/>
<circle cx="448.40" cy="72.93" r="1.2" fill="#4fae6a" opacity="0.9"/>
<line x1="370.09" y1="161.16" x2="370.09" y2="167.96" stroke="#c8464e" stroke-width="0.45" opacity="0.7"/>
<line x1="369.29" y1="161.16" x2="370.89" y2="161.16" stroke="#c8464e" stroke-width="0.4" opacity="0.7"/>
<line x1="369.29" y1="167.96" x2="370.89" y2="167.96" stroke="#c8464e" stroke-width="0.4" opacity="0.7"/>
<circle cx="370.09" cy="164.56" r="1.2" fill="#c8464e" opacity="0.9"/>
<line x1="381.27" y1="138.97" x2="381.27" y2="145.77" stroke="#c8464e" stroke-width="0.45" opacity="0.7"/>
<line x1="380.47" y1="138.97" x2="382.07" y2="138.97" stroke="#c8464e" stroke-width="0.4" opacity="0.7"/>
<line x1="380.47" y1="145.77" x2="382.07" y2="145.77" stroke="#c8464e" stroke-width="0.4" opacity="0.7"/>
<circle cx="381.27" cy="142.37" r="1.2" fill="#c8464e" opacity="0.9"/>
<line x1="403.65" y1="111.97" x2="403.65" y2="118.77" stroke="#c8464e" stroke-width="0.45" opacity="0.7"/>
<line x1="402.85" y1="111.97" x2="404.45" y2="111.97" stroke="#c8464e" stroke-width="0.4" opacity="0.7"/>
<line x1="402.85" y1="118.77" x2="404.45" y2="118.77" stroke="#c8464e" stroke-width="0.4" opacity="0.7"/>
<circle cx="403.65" cy="115.37" r="1.2" fill="#c8464e" opacity="0.9"/>
<line x1="448.40" y1="77.24" x2="448.40" y2="84.04" stroke="#c8464e" stroke-width="0.45" opacity="0.7"/>
<line x1="447.60" y1="77.24" x2="449.20" y2="77.24" stroke="#c8464e" stroke-width="0.4" opacity="0.7"/>
<line x1="447.60" y1="84.04" x2="449.20" y2="84.04" stroke="#c8464e" stroke-width="0.4" opacity="0.7"/>
<circle cx="448.40" cy="80.64" r="1.2" fill="#c8464e" opacity="0.9"/>
<line x1="370.09" y1="164.05" x2="370.09" y2="170.85" stroke="#f2bb78" stroke-width="0.45" opacity="0.7"/>
<line x1="369.29" y1="164.05" x2="370.89" y2="164.05" stroke="#f2bb78" stroke-width="0.4" opacity="0.7"/>
<line x1="369.29" y1="170.85" x2="370.89" y2="170.85" stroke="#f2bb78" stroke-width="0.4" opacity="0.7"/>
<circle cx="370.09" cy="167.45" r="1.2" fill="#f2bb78" opacity="0.9"/>
<line x1="381.27" y1="140.90" x2="381.27" y2="147.70" stroke="#f2bb78" stroke-width="0.45" opacity="0.7"/>
<line x1="380.47" y1="140.90" x2="382.07" y2="140.90" stroke="#f2bb78" stroke-width="0.4" opacity="0.7"/>
<line x1="380.47" y1="147.70" x2="382.07" y2="147.70" stroke="#f2bb78" stroke-width="0.4" opacity="0.7"/>
<circle cx="381.27" cy="144.30" r="1.2" fill="#f2bb78" opacity="0.9"/>
<line x1="403.65" y1="115.34" x2="403.65" y2="122.14" stroke="#f2bb78" stroke-width="0.45" opacity="0.7"/>
<line x1="402.85" y1="115.34" x2="404.45" y2="115.34" stroke="#f2bb78" stroke-width="0.4" opacity="0.7"/>
<line x1="402.85" y1="122.14" x2="404.45" y2="122.14" stroke="#f2bb78" stroke-width="0.4" opacity="0.7"/>
<circle cx="403.65" cy="118.74" r="1.2" fill="#f2bb78" opacity="0.9"/>
<line x1="448.40" y1="83.03" x2="448.40" y2="89.83" stroke="#f2bb78" stroke-width="0.45" opacity="0.7"/>
<line x1="447.60" y1="83.03" x2="449.20" y2="83.03" stroke="#f2bb78" stroke-width="0.4" opacity="0.7"/>
<line x1="447.60" y1="89.83" x2="449.20" y2="89.83" stroke="#f2bb78" stroke-width="0.4" opacity="0.7"/>
<circle cx="448.40" cy="86.43" r="1.2" fill="#f2bb78" opacity="0.9"/>
<line x1="370.09" y1="165.98" x2="370.09" y2="172.78" stroke="#de8f55" stroke-width="0.45" opacity="0.7"/>
<line x1="369.29" y1="165.98" x2="370.89" y2="165.98" stroke="#de8f55" stroke-width="0.4" opacity="0.7"/>
<line x1="369.29" y1="172.78" x2="370.89" y2="172.78" stroke="#de8f55" stroke-width="0.4" opacity="0.7"/>
<circle cx="370.09" cy="169.38" r="1.2" fill="#de8f55" opacity="0.9"/>
<line x1="381.27" y1="142.83" x2="381.27" y2="149.63" stroke="#de8f55" stroke-width="0.45" opacity="0.7"/>
<line x1="380.47" y1="142.83" x2="382.07" y2="142.83" stroke="#de8f55" stroke-width="0.4" opacity="0.7"/>
<line x1="380.47" y1="149.63" x2="382.07" y2="149.63" stroke="#de8f55" stroke-width="0.4" opacity="0.7"/>
<circle cx="381.27" cy="146.23" r="1.2" fill="#de8f55" opacity="0.9"/>
<line x1="403.65" y1="117.75" x2="403.65" y2="124.55" stroke="#de8f55" stroke-width="0.45" opacity="0.7"/>
<line x1="402.85" y1="117.75" x2="404.45" y2="117.75" stroke="#de8f55" stroke-width="0.4" opacity="0.7"/>
<line x1="402.85" y1="124.55" x2="404.45" y2="124.55" stroke="#de8f55" stroke-width="0.4" opacity="0.7"/>
<circle cx="403.65" cy="121.15" r="1.2" fill="#de8f55" opacity="0.9"/>
<line x1="448.40" y1="88.82" x2="448.40" y2="95.62" stroke="#de8f55" stroke-width="0.45" opacity="0.7"/>
<line x1="447.60" y1="88.82" x2="449.20" y2="88.82" stroke="#de8f55" stroke-width="0.4" opacity="0.7"/>
<line x1="447.60" y1="95.62" x2="449.20" y2="95.62" stroke="#de8f55" stroke-width="0.4" opacity="0.7"/>
<circle cx="448.40" cy="92.22" r="1.2" fill="#de8f55" opacity="0.9"/>
<line x1="370.09" y1="166.94" x2="370.09" y2="173.74" stroke="#cbd79a" stroke-width="0.45" opacity="0.7"/>
<line x1="369.29" y1="166.94" x2="370.89" y2="166.94" stroke="#cbd79a" stroke-width="0.4" opacity="0.7"/>
<line x1="369.29" y1="173.74" x2="370.89" y2="173.74" stroke="#cbd79a" stroke-width="0.4" opacity="0.7"/>
<circle cx="370.09" cy="170.34" r="1.2" fill="#cbd79a" opacity="0.9"/>
<line x1="381.27" y1="144.76" x2="381.27" y2="151.56" stroke="#cbd79a" stroke-width="0.45" opacity="0.7"/>
<line x1="380.47" y1="144.76" x2="382.07" y2="144.76" stroke="#cbd79a" stroke-width="0.4" opacity="0.7"/>
<line x1="380.47" y1="151.56" x2="382.07" y2="151.56" stroke="#cbd79a" stroke-width="0.4" opacity="0.7"/>
<circle cx="381.27" cy="148.16" r="1.2" fill="#cbd79a" opacity="0.9"/>
<line x1="403.65" y1="119.68" x2="403.65" y2="126.48" stroke="#cbd79a" stroke-width="0.45" opacity="0.7"/>
<line x1="402.85" y1="119.68" x2="404.45" y2="119.68" stroke="#cbd79a" stroke-width="0.4" opacity="0.7"/>
<line x1="402.85" y1="126.48" x2="404.45" y2="126.48" stroke="#cbd79a" stroke-width="0.4" opacity="0.7"/>
<circle cx="403.65" cy="123.08" r="1.2" fill="#cbd79a" opacity="0.9"/>
<line x1="448.40" y1="91.71" x2="448.40" y2="98.51" stroke="#cbd79a" stroke-width="0.45" opacity="0.7"/>
<line x1="447.60" y1="91.71" x2="449.20" y2="91.71" stroke="#cbd79a" stroke-width="0.4" opacity="0.7"/>
<line x1="447.60" y1="98.51" x2="449.20" y2="98.51" stroke="#cbd79a" stroke-width="0.4" opacity="0.7"/>
<circle cx="448.40" cy="95.11" r="1.2" fill="#cbd79a" opacity="0.9"/>
<line x1="370.09" y1="167.91" x2="370.09" y2="174.71" stroke="#3f6f64" stroke-width="0.45" opacity="0.7"/>
<line x1="369.29" y1="167.91" x2="370.89" y2="167.91" stroke="#3f6f64" stroke-width="0.4" opacity="0.7"/>
<line x1="369.29" y1="174.71" x2="370.89" y2="174.71" stroke="#3f6f64" stroke-width="0.4" opacity="0.7"/>
<circle cx="370.09" cy="171.31" r="1.2" fill="#3f6f64" opacity="0.9"/>
<line x1="381.27" y1="145.72" x2="381.27" y2="152.52" stroke="#3f6f64" stroke-width="0.45" opacity="0.7"/>
<line x1="380.47" y1="145.72" x2="382.07" y2="145.72" stroke="#3f6f64" stroke-width="0.4" opacity="0.7"/>
<line x1="380.47" y1="152.52" x2="382.07" y2="152.52" stroke="#3f6f64" stroke-width="0.4" opacity="0.7"/>
<circle cx="381.27" cy="149.12" r="1.2" fill="#3f6f64" opacity="0.9"/>
<line x1="403.65" y1="122.58" x2="403.65" y2="129.38" stroke="#3f6f64" stroke-width="0.45" opacity="0.7"/>
<line x1="402.85" y1="122.58" x2="404.45" y2="122.58" stroke="#3f6f64" stroke-width="0.4" opacity="0.7"/>
<line x1="402.85" y1="129.38" x2="404.45" y2="129.38" stroke="#3f6f64" stroke-width="0.4" opacity="0.7"/>
<circle cx="403.65" cy="125.98" r="1.2" fill="#3f6f64" opacity="0.9"/>
<line x1="448.40" y1="94.60" x2="448.40" y2="101.41" stroke="#3f6f64" stroke-width="0.45" opacity="0.7"/>
<line x1="447.60" y1="94.60" x2="449.20" y2="94.60" stroke="#3f6f64" stroke-width="0.4" opacity="0.7"/>
<line x1="447.60" y1="101.41" x2="449.20" y2="101.41" stroke="#3f6f64" stroke-width="0.4" opacity="0.7"/>
<circle cx="448.40" cy="98.00" r="1.2" fill="#3f6f64" opacity="0.9"/>
<line x1="370.09" y1="168.87" x2="370.09" y2="175.67" stroke="#3d3d3d" stroke-width="0.45" opacity="0.7"/>
<line x1="369.29" y1="168.87" x2="370.89" y2="168.87" stroke="#3d3d3d" stroke-width="0.4" opacity="0.7"/>
<line x1="369.29" y1="175.67" x2="370.89" y2="175.67" stroke="#3d3d3d" stroke-width="0.4" opacity="0.7"/>
<circle cx="370.09" cy="172.27" r="1.2" fill="#3d3d3d" opacity="0.9"/>
<line x1="381.27" y1="147.65" x2="381.27" y2="154.45" stroke="#3d3d3d" stroke-width="0.45" opacity="0.7"/>
<line x1="380.47" y1="147.65" x2="382.07" y2="147.65" stroke="#3d3d3d" stroke-width="0.4" opacity="0.7"/>
<line x1="380.47" y1="154.45" x2="382.07" y2="154.45" stroke="#3d3d3d" stroke-width="0.4" opacity="0.7"/>
<circle cx="381.27" cy="151.05" r="1.2" fill="#3d3d3d" opacity="0.9"/>
<line x1="403.65" y1="125.47" x2="403.65" y2="132.27" stroke="#3d3d3d" stroke-width="0.45" opacity="0.7"/>
<line x1="402.85" y1="125.47" x2="404.45" y2="125.47" stroke="#3d3d3d" stroke-width="0.4" opacity="0.7"/>
<line x1="402.85" y1="132.27" x2="404.45" y2="132.27" stroke="#3d3d3d" stroke-width="0.4" opacity="0.7"/>
<circle cx="403.65" cy="128.87" r="1.2" fill="#3d3d3d" opacity="0.9"/>
<line x1="448.40" y1="96.05" x2="448.40" y2="102.85" stroke="#3d3d3d" stroke-width="0.45" opacity="0.7"/>
<line x1="447.60" y1="96.05" x2="449.20" y2="96.05" stroke="#3d3d3d" stroke-width="0.4" opacity="0.7"/>
<line x1="447.60" y1="102.85" x2="449.20" y2="102.85" stroke="#3d3d3d" stroke-width="0.4" opacity="0.7"/>
<circle cx="448.40" cy="99.45" r="1.2" fill="#3d3d3d" opacity="0.9"/>
<line x1="370.09" y1="170.80" x2="370.09" y2="177.60" stroke="#cc3f8c" stroke-width="0.45" opacity="0.7"/>
<line x1="369.29" y1="170.80" x2="370.89" y2="170.80" stroke="#cc3f8c" stroke-width="0.4" opacity="0.7"/>
<line x1="369.29" y1="177.60" x2="370.89" y2="177.60" stroke="#cc3f8c" stroke-width="0.4" opacity="0.7"/>
<circle cx="370.09" cy="174.20" r="1.2" fill="#cc3f8c" opacity="0.9"/>
<line x1="381.27" y1="152.47" x2="381.27" y2="159.28" stroke="#cc3f8c" stroke-width="0.45" opacity="0.7"/>
<line x1="380.47" y1="152.47" x2="382.07" y2="152.47" stroke="#cc3f8c" stroke-width="0.4" opacity="0.7"/>
<line x1="380.47" y1="159.28" x2="382.07" y2="159.28" stroke="#cc3f8c" stroke-width="0.4" opacity="0.7"/>
<circle cx="381.27" cy="155.88" r="1.2" fill="#cc3f8c" opacity="0.9"/>
<line x1="403.65" y1="127.40" x2="403.65" y2="134.20" stroke="#cc3f8c" stroke-width="0.45" opacity="0.7"/>
<line x1="402.85" y1="127.40" x2="404.45" y2="127.40" stroke="#cc3f8c" stroke-width="0.4" opacity="0.7"/>
<line x1="402.85" y1="134.20" x2="404.45" y2="134.20" stroke="#cc3f8c" stroke-width="0.4" opacity="0.7"/>
<circle cx="403.65" cy="130.80" r="1.2" fill="#cc3f8c" opacity="0.9"/>
<line x1="448.40" y1="98.46" x2="448.40" y2="105.26" stroke="#cc3f8c" stroke-width="0.45" opacity="0.7"/>
<line x1="447.60" y1="98.46" x2="449.20" y2="98.46" stroke="#cc3f8c" stroke-width="0.4" opacity="0.7"/>
<line x1="447.60" y1="105.26" x2="449.20" y2="105.26" stroke="#cc3f8c" stroke-width="0.4" opacity="0.7"/>
<circle cx="448.40" cy="101.86" r="1.2" fill="#cc3f8c" opacity="0.9"/>
<line x1="370.09" y1="171.76" x2="370.09" y2="178.56" stroke="#3f5b8c" stroke-width="0.45" opacity="0.7"/>
<line x1="369.29" y1="171.76" x2="370.89" y2="171.76" stroke="#3f5b8c" stroke-width="0.4" opacity="0.7"/>
<line x1="369.29" y1="178.56" x2="370.89" y2="178.56" stroke="#3f5b8c" stroke-width="0.4" opacity="0.7"/>
<circle cx="370.09" cy="175.16" r="1.2" fill="#3f5b8c" opacity="0.9"/>
<line x1="381.27" y1="149.58" x2="381.27" y2="156.38" stroke="#3f5b8c" stroke-width="0.45" opacity="0.7"/>
<line x1="380.47" y1="149.58" x2="382.07" y2="149.58" stroke="#3f5b8c" stroke-width="0.4" opacity="0.7"/>
<line x1="380.47" y1="156.38" x2="382.07" y2="156.38" stroke="#3f5b8c" stroke-width="0.4" opacity="0.7"/>
<circle cx="381.27" cy="152.98" r="1.2" fill="#3f5b8c" opacity="0.9"/>
<line x1="403.65" y1="129.33" x2="403.65" y2="136.13" stroke="#3f5b8c" stroke-width="0.45" opacity="0.7"/>
<line x1="402.85" y1="129.33" x2="404.45" y2="129.33" stroke="#3f5b8c" stroke-width="0.4" opacity="0.7"/>
<line x1="402.85" y1="136.13" x2="404.45" y2="136.13" stroke="#3f5b8c" stroke-width="0.4" opacity="0.7"/>
<circle cx="403.65" cy="132.73" r="1.2" fill="#3f5b8c" opacity="0.9"/>
<line x1="448.40" y1="100.39" x2="448.40" y2="107.19" stroke="#3f5b8c" stroke-width="0.45" opacity="0.7"/>
<line x1="447.60" y1="100.39" x2="449.20" y2="100.39" stroke="#3f5b8c" stroke-width="0.4" opacity="0.7"/>
<line x1="447.60" y1="107.19" x2="449.20" y2="107.19" stroke="#3f5b8c" stroke-width="0.4" opacity="0.7"/>
<circle cx="448.40" cy="103.79" r="1.2" fill="#3f5b8c" opacity="0.9"/>
<line x1="370.09" y1="172.73" x2="370.09" y2="179.53" stroke="#9fd4ea" stroke-width="0.45" opacity="0.7"/>
<line x1="369.29" y1="172.73" x2="370.89" y2="172.73" stroke="#9fd4ea" stroke-width="0.4" opacity="0.7"/>
<line x1="369.29" y1="179.53" x2="370.89" y2="179.53" stroke="#9fd4ea" stroke-width="0.4" opacity="0.7"/>
<circle cx="370.09" cy="176.13" r="1.2" fill="#9fd4ea" opacity="0.9"/>
<line x1="381.27" y1="152.47" x2="381.27" y2="159.28" stroke="#9fd4ea" stroke-width="0.45" opacity="0.7"/>
<line x1="380.47" y1="152.47" x2="382.07" y2="152.47" stroke="#9fd4ea" stroke-width="0.4" opacity="0.7"/>
<line x1="380.47" y1="159.28" x2="382.07" y2="159.28" stroke="#9fd4ea" stroke-width="0.4" opacity="0.7"/>
<circle cx="381.27" cy="155.88" r="1.2" fill="#9fd4ea" opacity="0.9"/>
<line x1="403.65" y1="130.29" x2="403.65" y2="137.09" stroke="#9fd4ea" stroke-width="0.45" opacity="0.7"/>
<line x1="402.85" y1="130.29" x2="404.45" y2="130.29" stroke="#9fd4ea" stroke-width="0.4" opacity="0.7"/>
<line x1="402.85" y1="137.09" x2="404.45" y2="137.09" stroke="#9fd4ea" stroke-width="0.4" opacity="0.7"/>
<circle cx="403.65" cy="133.69" r="1.2" fill="#9fd4ea" opacity="0.9"/>
<line x1="448.40" y1="103.29" x2="448.40" y2="110.09" stroke="#9fd4ea" stroke-width="0.45" opacity="0.7"/>
<line x1="447.60" y1="103.29" x2="449.20" y2="103.29" stroke="#9fd4ea" stroke-width="0.4" opacity="0.7"/>
<line x1="447.60" y1="110.09" x2="449.20" y2="110.09" stroke="#9fd4ea" stroke-width="0.4" opacity="0.7"/>
<circle cx="448.40" cy="106.69" r="1.2" fill="#9fd4ea" opacity="0.9"/>
<line x1="370.09" y1="173.69" x2="370.09" y2="180.49" stroke="#58b7e4" stroke-width="0.45" opacity="0.7"/>
<line x1="369.29" y1="173.69" x2="370.89" y2="173.69" stroke="#58b7e4" stroke-width="0.4" opacity="0.7"/>
<line x1="369.29" y1="180.49" x2="370.89" y2="180.49" stroke="#58b7e4" stroke-width="0.4" opacity="0.7"/>
<circle cx="370.09" cy="177.09" r="1.2" fill="#58b7e4" opacity="0.9"/>
<line x1="381.27" y1="153.44" x2="381.27" y2="160.24" stroke="#58b7e4" stroke-width="0.45" opacity="0.7"/>
<line x1="380.47" y1="153.44" x2="382.07" y2="153.44" stroke="#58b7e4" stroke-width="0.4" opacity="0.7"/>
<line x1="380.47" y1="160.24" x2="382.07" y2="160.24" stroke="#58b7e4" stroke-width="0.4" opacity="0.7"/>
<circle cx="381.27" cy="156.84" r="1.2" fill="#58b7e4" opacity="0.9"/>
<line x1="403.65" y1="131.26" x2="403.65" y2="138.06" stroke="#58b7e4" stroke-width="0.45" opacity="0.7"/>
<line x1="402.85" y1="131.26" x2="404.45" y2="131.26" stroke="#58b7e4" stroke-width="0.4" opacity="0.7"/>
<line x1="402.85" y1="138.06" x2="404.45" y2="138.06" stroke="#58b7e4" stroke-width="0.4" opacity="0.7"/>
<circle cx="403.65" cy="134.66" r="1.2" fill="#58b7e4" opacity="0.9"/>
<line x1="448.40" y1="104.25" x2="448.40" y2="111.05" stroke="#58b7e4" stroke-width="0.45" opacity="0.7"/>
<line x1="447.60" y1="104.25" x2="449.20" y2="104.25" stroke="#58b7e4" stroke-width="0.4" opacity="0.7"/>
<line x1="447.60" y1="111.05" x2="449.20" y2="111.05" stroke="#58b7e4" stroke-width="0.4" opacity="0.7"/>
<circle cx="448.40" cy="107.65" r="1.2" fill="#58b7e4" opacity="0.9"/>
<line x1="370.09" y1="175.14" x2="370.09" y2="181.94" stroke="#4b4a7a" stroke-width="0.45" opacity="0.7"/>
<line x1="369.29" y1="175.14" x2="370.89" y2="175.14" stroke="#4b4a7a" stroke-width="0.4" opacity="0.7"/>
<line x1="369.29" y1="181.94" x2="370.89" y2="181.94" stroke="#4b4a7a" stroke-width="0.4" opacity="0.7"/>
<circle cx="370.09" cy="178.54" r="1.2" fill="#4b4a7a" opacity="0.9"/>
<line x1="381.27" y1="157.68" x2="381.27" y2="164.48" stroke="#4b4a7a" stroke-width="0.45" opacity="0.7"/>
<line x1="380.47" y1="157.68" x2="382.07" y2="157.68" stroke="#4b4a7a" stroke-width="0.4" opacity="0.7"/>
<line x1="380.47" y1="164.48" x2="382.07" y2="164.48" stroke="#4b4a7a" stroke-width="0.4" opacity="0.7"/>
<circle cx="381.27" cy="161.08" r="1.2" fill="#4b4a7a" opacity="0.9"/>
<line x1="403.65" y1="139.94" x2="403.65" y2="146.74" stroke="#4b4a7a" stroke-width="0.45" opacity="0.7"/>
<line x1="402.85" y1="139.94" x2="404.45" y2="139.94" stroke="#4b4a7a" stroke-width="0.4" opacity="0.7"/>
<line x1="402.85" y1="146.74" x2="404.45" y2="146.74" stroke="#4b4a7a" stroke-width="0.4" opacity="0.7"/>
<circle cx="403.65" cy="143.34" r="1.2" fill="#4b4a7a" opacity="0.9"/>
<line x1="448.40" y1="111.00" x2="448.40" y2="117.80" stroke="#4b4a7a" stroke-width="0.45" opacity="0.7"/>
<line x1="447.60" y1="111.00" x2="449.20" y2="111.00" stroke="#4b4a7a" stroke-width="0.4" opacity="0.7"/>
<line x1="447.60" y1="117.80" x2="449.20" y2="117.80" stroke="#4b4a7a" stroke-width="0.4" opacity="0.7"/>
<circle cx="448.40" cy="114.40" r="1.2" fill="#4b4a7a" opacity="0.9"/>
<line x1="358.70" y1="26.70" x2="358.70" y2="204.60" stroke="#222" stroke-width="1.1"/>
<line x1="358.20" y1="204.10" x2="449.40" y2="204.10" stroke="#222" stroke-width="1.1"/>
<line x1="355.50" y1="204.10" x2="358.70" y2="204.10" stroke="#222" stroke-width="0.9"/>
<text x="352.60" y="206.90" font-size="8.1" text-anchor="end" fill="#222" stroke="#222" stroke-width="0.2">0</text>
<line x1="355.50" y1="184.81" x2="358.70" y2="184.81" stroke="#222" stroke-width="0.9"/>
<text x="352.60" y="187.61" font-size="8.1" text-anchor="end" fill="#222" stroke="#222" stroke-width="0.2">20</text>
<line x1="355.50" y1="165.52" x2="358.70" y2="165.52" stroke="#222" stroke-width="0.9"/>
<text x="352.60" y="168.32" font-size="8.1" text-anchor="end" fill="#222" stroke="#222" stroke-width="0.2">40</text>
<line x1="355.50" y1="146.23" x2="358.70" y2="146.23" stroke="#222" stroke-width="0.9"/>
<text x="352.60" y="149.03" font-size="8.1" text-anchor="end" fill="#222" stroke="#222" stroke-width="0.2">60</text>
<line x1="355.50" y1="126.94" x2="358.70" y2="126.94" stroke="#222" stroke-width="0.9"/>
<text x="352.60" y="129.74" font-size="8.1" text-anchor="end" fill="#222" stroke="#222" stroke-width="0.2">80</text>
<line x1="355.50" y1="107.65" x2="358.70" y2="107.65" stroke="#222" stroke-width="0.9"/>
<text x="352.60" y="110.45" font-size="8.1" text-anchor="end" fill="#222" stroke="#222" stroke-width="0.2">100</text>
<line x1="355.50" y1="88.36" x2="358.70" y2="88.36" stroke="#222" stroke-width="0.9"/>
<text x="352.60" y="91.16" font-size="8.1" text-anchor="end" fill="#222" stroke="#222" stroke-width="0.2">120</text>
<line x1="355.50" y1="69.07" x2="358.70" y2="69.07" stroke="#222" stroke-width="0.9"/>
<text x="352.60" y="71.87" font-size="8.1" text-anchor="end" fill="#222" stroke="#222" stroke-width="0.2">140</text>
<line x1="355.50" y1="49.78" x2="358.70" y2="49.78" stroke="#222" stroke-width="0.9"/>
<text x="352.60" y="52.58" font-size="8.1" text-anchor="end" fill="#222" stroke="#222" stroke-width="0.2">160</text>
<line x1="355.50" y1="30.49" x2="358.70" y2="30.49" stroke="#222" stroke-width="0.9"/>
<text x="352.60" y="33.29" font-size="8.1" text-anchor="end" fill="#222" stroke="#222" stroke-width="0.2">180</text>
<line x1="358.90" y1="204.10" x2="358.90" y2="206.70" stroke="#222" stroke-width="0.9"/>
<line x1="370.09" y1="204.10" x2="370.09" y2="205.70" stroke="#222" stroke-width="0.9"/>
<line x1="381.27" y1="204.10" x2="381.27" y2="206.70" stroke="#222" stroke-width="0.9"/>
<line x1="392.46" y1="204.10" x2="392.46" y2="205.70" stroke="#222" stroke-width="0.9"/>
<line x1="403.65" y1="204.10" x2="403.65" y2="206.70" stroke="#222" stroke-width="0.9"/>
<line x1="414.83" y1="204.10" x2="414.83" y2="205.70" stroke="#222" stroke-width="0.9"/>
<line x1="426.02" y1="204.10" x2="426.02" y2="206.70" stroke="#222" stroke-width="0.9"/>
<line x1="437.21" y1="204.10" x2="437.21" y2="205.70" stroke="#222" stroke-width="0.9"/>
<line x1="448.40" y1="204.10" x2="448.40" y2="206.70" stroke="#222" stroke-width="0.9"/>
<text x="358.90" y="217.40" font-size="8.1" text-anchor="middle" fill="#222" stroke="#222" stroke-width="0.2">0</text>
<text x="381.27" y="217.40" font-size="8.1" text-anchor="middle" fill="#222" stroke="#222" stroke-width="0.2">30</text>
<text x="403.65" y="217.40" font-size="8.1" text-anchor="middle" fill="#222" stroke="#222" stroke-width="0.2">60</text>
<text x="426.02" y="217.40" font-size="8.1" text-anchor="middle" fill="#222" stroke="#222" stroke-width="0.2">90</text>
<text x="448.40" y="217.40" font-size="8.1" text-anchor="middle" fill="#222" stroke="#222" stroke-width="0.2">120</text>
<text x="475.60" y="40.00" font-size="7.5" text-anchor="start" fill="#222" stroke="#222" stroke-width="0.2">N31F</text>
<line x1="466.80" y1="37.40" x2="471.20" y2="37.40" stroke="#4fae6a" stroke-width="0.6"/>
<circle cx="469.00" cy="37.40" r="1.1" fill="#4fae6a"/>
<text x="475.60" y="50.20" font-size="7.5" text-anchor="start" fill="#222" stroke="#222" stroke-width="0.2">N31I</text>
<line x1="466.80" y1="47.60" x2="471.20" y2="47.60" stroke="#c8464e" stroke-width="0.6"/>
<circle cx="469.00" cy="47.60" r="1.1" fill="#c8464e"/>
<text x="475.60" y="60.00" font-size="7.5" text-anchor="start" fill="#222" stroke="#222" stroke-width="0.2">F103M</text>
<line x1="466.80" y1="57.40" x2="471.20" y2="57.40" stroke="#3f6f64" stroke-width="0.6"/>
<circle cx="469.00" cy="57.40" r="1.1" fill="#3f6f64"/>
<text x="475.60" y="69.80" font-size="7.5" text-anchor="start" fill="#222" stroke="#222" stroke-width="0.2">Y32F</text>
<line x1="466.80" y1="67.20" x2="471.20" y2="67.20" stroke="#f2bb78" stroke-width="0.6"/>
<circle cx="469.00" cy="67.20" r="1.1" fill="#f2bb78"/>
<text x="475.60" y="79.80" font-size="7.5" text-anchor="start" fill="#222" stroke="#222" stroke-width="0.2">T57P</text>
<line x1="466.80" y1="77.20" x2="471.20" y2="77.20" stroke="#de8f55" stroke-width="0.6"/>
<circle cx="469.00" cy="77.20" r="1.1" fill="#de8f55"/>
<text x="475.60" y="89.80" font-size="7.5" text-anchor="start" fill="#222" stroke="#222" stroke-width="0.2">S54R</text>
<line x1="466.80" y1="87.20" x2="471.20" y2="87.20" stroke="#3f5b8c" stroke-width="0.6"/>
<circle cx="469.00" cy="87.20" r="1.1" fill="#3f5b8c"/>
<text x="475.60" y="99.80" font-size="7.5" text-anchor="start" fill="#222" stroke="#222" stroke-width="0.2">M34F</text>
<line x1="466.80" y1="97.20" x2="471.20" y2="97.20" stroke="#cc3f8c" stroke-width="0.6"/>
<circle cx="469.00" cy="97.20" r="1.1" fill="#cc3f8c"/>
<text x="475.60" y="109.80" font-size="7.5" text-anchor="start" fill="#222" stroke="#222" stroke-width="0.2">N31P</text>
<line x1="466.80" y1="107.20" x2="471.20" y2="107.20" stroke="#cbd79a" stroke-width="0.6"/>
<circle cx="469.00" cy="107.20" r="1.1" fill="#cbd79a"/>
<text x="475.60" y="119.80" font-size="7.5" text-anchor="start" fill="#222" stroke="#222" stroke-width="0.2">S53T</text>
<line x1="466.80" y1="117.20" x2="471.20" y2="117.20" stroke="#3d3d3d" stroke-width="0.6"/>
<circle cx="469.00" cy="117.20" r="1.1" fill="#3d3d3d"/>
<text x="475.60" y="129.80" font-size="7.5" text-anchor="start" fill="#222" stroke="#222" stroke-width="0.2">No Ab</text>
<text x="475.60" y="139.00" font-size="7.5" text-anchor="start" fill="#222" stroke="#222" stroke-width="0.2">(APC Only)</text>
<line x1="466.80" y1="131.80" x2="471.20" y2="131.80" stroke="#9fd4ea" stroke-width="0.6"/>
<circle cx="469.00" cy="131.80" r="1.1" fill="#9fd4ea"/>
<text x="475.60" y="148.90" font-size="7.5" text-anchor="start" fill="#222" stroke="#222" stroke-width="0.2">TPP-26870</text>
<text x="475.60" y="158.40" font-size="7.5" text-anchor="start" fill="#222" stroke="#222" stroke-width="0.2">(parental)</text>
<line x1="466.80" y1="151.05" x2="471.20" y2="151.05" stroke="#58b7e4" stroke-width="0.6"/>
<circle cx="469.00" cy="151.05" r="1.1" fill="#58b7e4"/>
<text x="475.60" y="168.00" font-size="7.5" text-anchor="start" fill="#222" stroke="#222" stroke-width="0.2">S56R</text>
<line x1="466.80" y1="165.40" x2="471.20" y2="165.40" stroke="#3d3d3d" stroke-width="0.6"/>
<circle cx="469.00" cy="165.40" r="1.1" fill="#3d3d3d"/>
<text x="371.90" y="21.30" font-size="9.8" text-anchor="start" fill="#222" stroke="#222" stroke-width="0.2" textLength="5.80" lengthAdjust="spacingAndGlyphs">V</text>
<text x="377.80" y="23.50" font-size="7.4" text-anchor="start" fill="#222" stroke="#222" stroke-width="0.2" textLength="5.20" lengthAdjust="spacingAndGlyphs">H</text>
<text x="386.30" y="21.30" font-size="9.8" text-anchor="start" fill="#222" stroke="#222" stroke-width="0.2" textLength="51.80" lengthAdjust="spacingAndGlyphs">Optimization</text>
<text transform="translate(332.34,112.60) rotate(-90)" x="0" y="0" font-size="8.6" text-anchor="middle" fill="#222" textLength="114.00" lengthAdjust="spacingAndGlyphs" stroke="#222" stroke-width="0.2">Histone H3 cleavage (normalized %)</text>
<text x="388.70" y="229.60" font-size="9.6" text-anchor="start" fill="#222" stroke="#222" stroke-width="0.2" textLength="32.50" lengthAdjust="spacingAndGlyphs">Time (min)</text>
<line x1="458.90" y1="105.00" x2="458.90" y2="98.80" stroke="#4cae50" stroke-width="1.0"/>
<path d="M458.90,95.80 L456.80,99.80 L461.00,99.80 Z" fill="#4cae50"/>
<line x1="458.90" y1="108.90" x2="458.90" y2="115.80" stroke="#c42a48" stroke-width="1.0"/>
<path d="M458.90,118.80 L456.80,114.80 L461.00,114.80 Z" fill="#c42a48"/>
<text transform="translate(461.08,57.50) rotate(-90)" x="0" y="0" font-size="8.4" text-anchor="middle" fill="#4cae50" textLength="73.20" lengthAdjust="spacingAndGlyphs" stroke="#4cae50" stroke-width="0.2">Improved vs Parental</text>
<text transform="translate(461.08,156.80) rotate(-90)" x="0" y="0" font-size="8.4" text-anchor="middle" fill="#c42a48" textLength="71.30" lengthAdjust="spacingAndGlyphs" stroke="#c42a48" stroke-width="0.2">Impaired vs Parental</text>
<path d="M77.40,447.50 L79.62,439.23 L81.84,431.94 L84.07,425.45 L86.29,419.65 L88.51,414.43 L90.73,409.71 L92.96,405.41 L95.18,401.49 L97.40,397.90 L99.62,394.59 L101.85,391.54 L104.07,388.71 L106.29,386.09 L108.51,383.64 L110.74,381.36 L112.96,379.23 L115.18,377.23 L117.40,375.35 L119.63,373.58 L121.85,371.91 L124.07,370.34 L126.29,368.85 L128.52,367.44 L130.74,366.10 L132.96,364.83 L135.18,363.62 L137.40,362.47 L139.63,361.37 L141.85,360.32 L144.07,359.32 L146.29,358.36 L148.52,357.44 L150.74,356.56 L152.96,355.72 L155.18,354.91 L157.41,354.13 L159.63,353.38 L161.85,352.66 L164.07,351.97 L166.30,351.30 L166.30,447.50 L77.40,447.50 Z" fill="#d7e8f7"/>
<path d="M77.40,447.50 L79.62,418.20 L81.84,399.94 L84.07,386.64 L86.29,376.17 L88.51,367.54 L90.73,360.20 L92.96,353.81 L95.18,348.15 L97.40,343.08 L99.62,338.48 L101.85,334.27 L104.07,330.39 L106.29,326.80 L108.51,323.44 L110.74,320.31 L112.96,317.36 L115.18,314.57 L117.40,311.94 L119.63,309.44 L121.85,307.06 L124.07,304.78 L126.29,302.61 L128.52,300.53 L130.74,298.54 L132.96,296.62 L135.18,294.77 L137.40,292.99 L139.63,291.28 L141.85,289.62 L144.07,288.01 L146.29,286.46 L148.52,284.95 L150.74,283.48 L152.96,282.06 L155.18,280.68 L157.41,279.34 L159.63,278.03 L161.85,276.76 L164.07,275.51 L166.30,274.30" fill="none" stroke="#cc3a6a" stroke-width="0.65" opacity="0.85"/>
<path d="M77.40,447.50 L79.62,436.17 L81.84,426.18 L84.07,417.30 L86.29,409.35 L88.51,402.20 L90.73,395.72 L92.96,389.84 L95.18,384.47 L97.40,379.54 L99.62,375.01 L101.85,370.83 L104.07,366.96 L106.29,363.36 L108.51,360.02 L110.74,356.89 L112.96,353.97 L115.18,351.23 L117.40,348.65 L119.63,346.23 L121.85,343.95 L124.07,341.79 L126.29,339.75 L128.52,337.82 L130.74,335.98 L132.96,334.24 L135.18,332.58 L137.40,331.00 L139.63,329.50 L141.85,328.06 L144.07,326.69 L146.29,325.38 L148.52,324.12 L150.74,322.91 L152.96,321.76 L155.18,320.65 L157.41,319.58 L159.63,318.56 L161.85,317.57 L164.07,316.62 L166.30,315.71" fill="none" stroke="#f0b76a" stroke-width="0.65" opacity="0.85"/>
<path d="M77.40,447.50 L79.62,437.08 L81.84,427.89 L84.07,419.72 L86.29,412.41 L88.51,405.83 L90.73,399.88 L92.96,394.47 L95.18,389.53 L97.40,385.00 L99.62,380.83 L101.85,376.99 L104.07,373.43 L106.29,370.12 L108.51,367.04 L110.74,364.17 L112.96,361.48 L115.18,358.96 L117.40,356.59 L119.63,354.36 L121.85,352.26 L124.07,350.28 L126.29,348.40 L128.52,346.62 L130.74,344.94 L132.96,343.33 L135.18,341.81 L137.40,340.36 L139.63,338.97 L141.85,337.65 L144.07,336.39 L146.29,335.18 L148.52,334.02 L150.74,332.92 L152.96,331.85 L155.18,330.83 L157.41,329.85 L159.63,328.91 L161.85,328.00 L164.07,327.13 L166.30,326.29" fill="none" stroke="#d2478f" stroke-width="0.65" opacity="0.85"/>
<path d="M77.40,447.50 L79.62,438.41 L81.84,430.38 L84.07,423.25 L86.29,416.87 L88.51,411.12 L90.73,405.93 L92.96,401.20 L95.18,396.89 L97.40,392.94 L99.62,389.30 L101.85,385.94 L104.07,382.83 L106.29,379.95 L108.51,377.26 L110.74,374.75 L112.96,372.40 L115.18,370.20 L117.40,368.13 L119.63,366.19 L121.85,364.36 L124.07,362.62 L126.29,360.99 L128.52,359.43 L130.74,357.96 L132.96,356.56 L135.18,355.23 L137.40,353.96 L139.63,352.75 L141.85,351.60 L144.07,350.50 L146.29,349.44 L148.52,348.43 L150.74,347.47 L152.96,346.54 L155.18,345.65 L157.41,344.79 L159.63,343.97 L161.85,343.18 L164.07,342.41 L166.30,341.68" fill="none" stroke="#5a4a48" stroke-width="0.65" opacity="0.85"/>
<path d="M77.40,447.50 L79.62,438.82 L81.84,431.16 L84.07,424.35 L86.29,418.26 L88.51,412.78 L90.73,407.82 L92.96,403.31 L95.18,399.19 L97.40,395.42 L99.62,391.94 L101.85,388.74 L104.07,385.77 L106.29,383.02 L108.51,380.45 L110.74,378.06 L112.96,375.82 L115.18,373.72 L117.40,371.74 L119.63,369.89 L121.85,368.13 L124.07,366.48 L126.29,364.92 L128.52,363.44 L130.74,362.03 L132.96,360.69 L135.18,359.42 L137.40,358.21 L139.63,357.06 L141.85,355.96 L144.07,354.91 L146.29,353.90 L148.52,352.94 L150.74,352.01 L152.96,351.13 L155.18,350.28 L157.41,349.46 L159.63,348.68 L161.85,347.92 L164.07,347.19 L166.30,346.49" fill="none" stroke="#b07a58" stroke-width="0.65" opacity="0.85"/>
<path d="M77.40,447.50 L79.62,439.07 L81.84,431.63 L84.07,425.01 L86.29,419.10 L88.51,413.77 L90.73,408.95 L92.96,404.57 L95.18,400.57 L97.40,396.90 L99.62,393.53 L101.85,390.42 L104.07,387.54 L106.29,384.86 L108.51,382.37 L110.74,380.04 L112.96,377.86 L115.18,375.82 L117.40,373.91 L119.63,372.10 L121.85,370.40 L124.07,368.80 L126.29,367.28 L128.52,365.84 L130.74,364.47 L132.96,363.17 L135.18,361.94 L137.40,360.77 L139.63,359.64 L141.85,358.58 L144.07,357.55 L146.29,356.58 L148.52,355.64 L150.74,354.74 L152.96,353.88 L155.18,353.06 L157.41,352.26 L159.63,351.50 L161.85,350.76 L164.07,350.06 L166.30,349.38" fill="none" stroke="#a9d5b6" stroke-width="0.65" opacity="0.85"/>
<path d="M77.40,447.50 L79.62,439.23 L81.84,431.94 L84.07,425.45 L86.29,419.65 L88.51,414.43 L90.73,409.71 L92.96,405.41 L95.18,401.49 L97.40,397.90 L99.62,394.59 L101.85,391.54 L104.07,388.71 L106.29,386.09 L108.51,383.64 L110.74,381.36 L112.96,379.23 L115.18,377.23 L117.40,375.35 L119.63,373.58 L121.85,371.91 L124.07,370.34 L126.29,368.85 L128.52,367.44 L130.74,366.10 L132.96,364.83 L135.18,363.62 L137.40,362.47 L139.63,361.37 L141.85,360.32 L144.07,359.32 L146.29,358.36 L148.52,357.44 L150.74,356.56 L152.96,355.72 L155.18,354.91 L157.41,354.13 L159.63,353.38 L161.85,352.66 L164.07,351.97 L166.30,351.30" fill="none" stroke="#58b7e4" stroke-width="0.65" opacity="0.85"/>
<path d="M77.40,447.50 L79.62,439.56 L81.84,432.56 L84.07,426.34 L86.29,420.77 L88.51,415.75 L90.73,411.22 L92.96,407.10 L95.18,403.33 L97.40,399.88 L99.62,396.71 L101.85,393.78 L104.07,391.06 L106.29,388.54 L108.51,386.20 L110.74,384.01 L112.96,381.96 L115.18,380.04 L117.40,378.24 L119.63,376.54 L121.85,374.94 L124.07,373.43 L126.29,372.00 L128.52,370.64 L130.74,369.36 L132.96,368.13 L135.18,366.97 L137.40,365.87 L139.63,364.81 L141.85,363.81 L144.07,362.84 L146.29,361.92 L148.52,361.04 L150.74,360.20 L152.96,359.39 L155.18,358.61 L157.41,357.86 L159.63,357.15 L161.85,356.45 L164.07,355.79 L166.30,355.15" fill="none" stroke="#9fd4ea" stroke-width="0.65" opacity="0.85"/>
<path d="M77.40,447.50 L79.62,439.81 L81.84,433.03 L84.07,427.00 L86.29,421.60 L88.51,416.75 L90.73,412.35 L92.96,408.36 L95.18,404.71 L97.40,401.37 L99.62,398.29 L101.85,395.45 L104.07,392.83 L106.29,390.39 L108.51,388.11 L110.74,385.99 L112.96,384.01 L115.18,382.15 L117.40,380.40 L119.63,378.76 L121.85,377.21 L124.07,375.74 L126.29,374.36 L128.52,373.04 L130.74,371.80 L132.96,370.62 L135.18,369.49 L137.40,368.42 L139.63,367.40 L141.85,366.42 L144.07,365.49 L146.29,364.60 L148.52,363.74 L150.74,362.93 L152.96,362.14 L155.18,361.39 L157.41,360.67 L159.63,359.97 L161.85,359.30 L164.07,358.66 L166.30,358.03" fill="none" stroke="#f2c080" stroke-width="0.65" opacity="0.85"/>
<path d="M77.40,447.50 L79.62,440.22 L81.84,433.81 L84.07,428.10 L86.29,422.99 L88.51,418.40 L90.73,414.24 L92.96,410.46 L95.18,407.01 L97.40,403.85 L99.62,400.94 L101.85,398.25 L104.07,395.77 L106.29,393.46 L108.51,391.31 L110.74,389.30 L112.96,387.42 L115.18,385.66 L117.40,384.01 L119.63,382.45 L121.85,380.98 L124.07,379.60 L126.29,378.29 L128.52,377.05 L130.74,375.87 L132.96,374.75 L135.18,373.68 L137.40,372.67 L139.63,371.70 L141.85,370.78 L144.07,369.90 L146.29,369.06 L148.52,368.25 L150.74,367.47 L152.96,366.73 L155.18,366.02 L157.41,365.33 L159.63,364.68 L161.85,364.04 L164.07,363.43 L166.30,362.84" fill="none" stroke="#9aa0c8" stroke-width="0.65" opacity="0.85"/>
<path d="M77.40,447.50 L79.62,440.39 L81.84,434.12 L84.07,428.54 L86.29,423.55 L88.51,419.06 L90.73,415.00 L92.96,411.30 L95.18,407.93 L97.40,404.84 L99.62,402.00 L101.85,399.37 L104.07,396.94 L106.29,394.68 L108.51,392.58 L110.74,390.62 L112.96,388.79 L115.18,387.07 L117.40,385.45 L119.63,383.93 L121.85,382.50 L124.07,381.14 L126.29,379.86 L128.52,378.65 L130.74,377.50 L132.96,376.40 L135.18,375.36 L137.40,374.37 L139.63,373.43 L141.85,372.52 L144.07,371.66 L146.29,370.84 L148.52,370.05 L150.74,369.29 L152.96,368.57 L155.18,367.87 L157.41,367.20 L159.63,366.56 L161.85,365.94 L164.07,365.34 L166.30,364.77" fill="none" stroke="#5e9e78" stroke-width="0.65" opacity="0.85"/>
<path d="M77.40,447.50 L79.62,440.64 L81.84,434.58 L84.07,429.20 L86.29,424.39 L88.51,420.05 L90.73,416.13 L92.96,412.57 L95.18,409.31 L97.40,406.33 L99.62,403.58 L101.85,401.05 L104.07,398.71 L106.29,396.53 L108.51,394.50 L110.74,392.61 L112.96,390.84 L115.18,389.17 L117.40,387.62 L119.63,386.15 L121.85,384.76 L124.07,383.46 L126.29,382.22 L128.52,381.05 L130.74,379.94 L132.96,378.88 L135.18,377.88 L137.40,376.92 L139.63,376.01 L141.85,375.14 L144.07,374.31 L146.29,373.51 L148.52,372.75 L150.74,372.02 L152.96,371.32 L155.18,370.65 L157.41,370.00 L159.63,369.38 L161.85,368.78 L164.07,368.21 L166.30,367.65" fill="none" stroke="#3c6690" stroke-width="0.65" opacity="0.85"/>
<path d="M77.40,447.50 L79.62,440.80 L81.84,434.89 L84.07,429.64 L86.29,424.94 L88.51,420.71 L90.73,416.89 L92.96,413.41 L95.18,410.23 L97.40,407.32 L99.62,404.64 L101.85,402.17 L104.07,399.88 L106.29,397.76 L108.51,395.78 L110.74,393.93 L112.96,392.20 L115.18,390.58 L117.40,389.06 L119.63,387.63 L121.85,386.28 L124.07,385.00 L126.29,383.79 L128.52,382.65 L130.74,381.57 L132.96,380.54 L135.18,379.56 L137.40,378.62 L139.63,377.73 L141.85,376.88 L144.07,376.07 L146.29,375.30 L148.52,374.55 L150.74,373.84 L152.96,373.16 L155.18,372.50 L157.41,371.87 L159.63,371.26 L161.85,370.68 L164.07,370.12 L166.30,369.58" fill="none" stroke="#3d4068" stroke-width="0.65" opacity="0.85"/>
<line x1="88.51" y1="364.74" x2="88.51" y2="371.53" stroke="#cc3a6a" stroke-width="0.45" opacity="0.7"/>
<line x1="87.71" y1="364.74" x2="89.31" y2="364.74" stroke="#cc3a6a" stroke-width="0.4" opacity="0.7"/>
<line x1="87.71" y1="371.53" x2="89.31" y2="371.53" stroke="#cc3a6a" stroke-width="0.4" opacity="0.7"/>
<circle cx="88.51" cy="368.13" r="1.2" fill="#cc3a6a" opacity="0.9"/>
<line x1="99.62" y1="334.62" x2="99.62" y2="341.42" stroke="#cc3a6a" stroke-width="0.45" opacity="0.7"/>
<line x1="98.82" y1="334.62" x2="100.42" y2="334.62" stroke="#cc3a6a" stroke-width="0.4" opacity="0.7"/>
<line x1="98.82" y1="341.42" x2="100.42" y2="341.42" stroke="#cc3a6a" stroke-width="0.4" opacity="0.7"/>
<circle cx="99.62" cy="338.02" r="1.2" fill="#cc3a6a" opacity="0.9"/>
<line x1="121.85" y1="303.94" x2="121.85" y2="310.74" stroke="#cc3a6a" stroke-width="0.45" opacity="0.7"/>
<line x1="121.05" y1="303.94" x2="122.65" y2="303.94" stroke="#cc3a6a" stroke-width="0.4" opacity="0.7"/>
<line x1="121.05" y1="310.74" x2="122.65" y2="310.74" stroke="#cc3a6a" stroke-width="0.4" opacity="0.7"/>
<circle cx="121.85" cy="307.34" r="1.2" fill="#cc3a6a" opacity="0.9"/>
<line x1="166.30" y1="271.42" x2="166.30" y2="278.22" stroke="#cc3a6a" stroke-width="0.45" opacity="0.7"/>
<line x1="165.50" y1="271.42" x2="167.10" y2="271.42" stroke="#cc3a6a" stroke-width="0.4" opacity="0.7"/>
<line x1="165.50" y1="278.22" x2="167.10" y2="278.22" stroke="#cc3a6a" stroke-width="0.4" opacity="0.7"/>
<circle cx="166.30" cy="274.82" r="1.2" fill="#cc3a6a" opacity="0.9"/>
<line x1="88.51" y1="390.61" x2="88.51" y2="397.41" stroke="#f0b76a" stroke-width="0.45" opacity="0.7"/>
<line x1="87.71" y1="390.61" x2="89.31" y2="390.61" stroke="#f0b76a" stroke-width="0.4" opacity="0.7"/>
<line x1="87.71" y1="397.41" x2="89.31" y2="397.41" stroke="#f0b76a" stroke-width="0.4" opacity="0.7"/>
<circle cx="88.51" cy="394.01" r="1.2" fill="#f0b76a" opacity="0.9"/>
<line x1="99.62" y1="369.26" x2="99.62" y2="376.06" stroke="#f0b76a" stroke-width="0.45" opacity="0.7"/>
<line x1="98.82" y1="369.26" x2="100.42" y2="369.26" stroke="#f0b76a" stroke-width="0.4" opacity="0.7"/>
<line x1="98.82" y1="376.06" x2="100.42" y2="376.06" stroke="#f0b76a" stroke-width="0.4" opacity="0.7"/>
<circle cx="99.62" cy="372.66" r="1.2" fill="#f0b76a" opacity="0.9"/>
<line x1="121.85" y1="347.90" x2="121.85" y2="354.70" stroke="#f0b76a" stroke-width="0.45" opacity="0.7"/>
<line x1="121.05" y1="347.90" x2="122.65" y2="347.90" stroke="#f0b76a" stroke-width="0.4" opacity="0.7"/>
<line x1="121.05" y1="354.70" x2="122.65" y2="354.70" stroke="#f0b76a" stroke-width="0.4" opacity="0.7"/>
<circle cx="121.85" cy="351.30" r="1.2" fill="#f0b76a" opacity="0.9"/>
<line x1="166.30" y1="311.92" x2="166.30" y2="318.72" stroke="#f0b76a" stroke-width="0.45" opacity="0.7"/>
<line x1="165.50" y1="311.92" x2="167.10" y2="311.92" stroke="#f0b76a" stroke-width="0.4" opacity="0.7"/>
<line x1="165.50" y1="318.72" x2="167.10" y2="318.72" stroke="#f0b76a" stroke-width="0.4" opacity="0.7"/>
<circle cx="166.30" cy="315.32" r="1.2" fill="#f0b76a" opacity="0.9"/>
<line x1="88.51" y1="399.08" x2="88.51" y2="405.88" stroke="#d2478f" stroke-width="0.45" opacity="0.7"/>
<line x1="87.71" y1="399.08" x2="89.31" y2="399.08" stroke="#d2478f" stroke-width="0.4" opacity="0.7"/>
<line x1="87.71" y1="405.88" x2="89.31" y2="405.88" stroke="#d2478f" stroke-width="0.4" opacity="0.7"/>
<circle cx="88.51" cy="402.48" r="1.2" fill="#d2478f" opacity="0.9"/>
<line x1="99.62" y1="375.41" x2="99.62" y2="382.21" stroke="#d2478f" stroke-width="0.45" opacity="0.7"/>
<line x1="98.82" y1="375.41" x2="100.42" y2="375.41" stroke="#d2478f" stroke-width="0.4" opacity="0.7"/>
<line x1="98.82" y1="382.21" x2="100.42" y2="382.21" stroke="#d2478f" stroke-width="0.4" opacity="0.7"/>
<circle cx="99.62" cy="378.81" r="1.2" fill="#d2478f" opacity="0.9"/>
<line x1="121.85" y1="355.88" x2="121.85" y2="362.68" stroke="#d2478f" stroke-width="0.45" opacity="0.7"/>
<line x1="121.05" y1="355.88" x2="122.65" y2="355.88" stroke="#d2478f" stroke-width="0.4" opacity="0.7"/>
<line x1="121.05" y1="362.68" x2="122.65" y2="362.68" stroke="#d2478f" stroke-width="0.4" opacity="0.7"/>
<circle cx="121.85" cy="359.28" r="1.2" fill="#d2478f" opacity="0.9"/>
<line x1="166.30" y1="321.25" x2="166.30" y2="328.05" stroke="#d2478f" stroke-width="0.45" opacity="0.7"/>
<line x1="165.50" y1="321.25" x2="167.10" y2="321.25" stroke="#d2478f" stroke-width="0.4" opacity="0.7"/>
<line x1="165.50" y1="328.05" x2="167.10" y2="328.05" stroke="#d2478f" stroke-width="0.4" opacity="0.7"/>
<circle cx="166.30" cy="324.65" r="1.2" fill="#d2478f" opacity="0.9"/>
<line x1="88.51" y1="407.93" x2="88.51" y2="414.73" stroke="#5a4a48" stroke-width="0.45" opacity="0.7"/>
<line x1="87.71" y1="407.93" x2="89.31" y2="407.93" stroke="#5a4a48" stroke-width="0.4" opacity="0.7"/>
<line x1="87.71" y1="414.73" x2="89.31" y2="414.73" stroke="#5a4a48" stroke-width="0.4" opacity="0.7"/>
<circle cx="88.51" cy="411.33" r="1.2" fill="#5a4a48" opacity="0.9"/>
<line x1="99.62" y1="381.57" x2="99.62" y2="388.37" stroke="#5a4a48" stroke-width="0.45" opacity="0.7"/>
<line x1="98.82" y1="381.57" x2="100.42" y2="381.57" stroke="#5a4a48" stroke-width="0.4" opacity="0.7"/>
<line x1="98.82" y1="388.37" x2="100.42" y2="388.37" stroke="#5a4a48" stroke-width="0.4" opacity="0.7"/>
<circle cx="99.62" cy="384.97" r="1.2" fill="#5a4a48" opacity="0.9"/>
<line x1="121.85" y1="367.91" x2="121.85" y2="374.71" stroke="#5a4a48" stroke-width="0.45" opacity="0.7"/>
<line x1="121.05" y1="367.91" x2="122.65" y2="367.91" stroke="#5a4a48" stroke-width="0.4" opacity="0.7"/>
<line x1="121.05" y1="374.71" x2="122.65" y2="374.71" stroke="#5a4a48" stroke-width="0.4" opacity="0.7"/>
<circle cx="121.85" cy="371.31" r="1.2" fill="#5a4a48" opacity="0.9"/>
<line x1="166.30" y1="337.32" x2="166.30" y2="344.12" stroke="#5a4a48" stroke-width="0.45" opacity="0.7"/>
<line x1="165.50" y1="337.32" x2="167.10" y2="337.32" stroke="#5a4a48" stroke-width="0.4" opacity="0.7"/>
<line x1="165.50" y1="344.12" x2="167.10" y2="344.12" stroke="#5a4a48" stroke-width="0.4" opacity="0.7"/>
<circle cx="166.30" cy="340.72" r="1.2" fill="#5a4a48" opacity="0.9"/>
<line x1="88.51" y1="410.43" x2="88.51" y2="417.23" stroke="#b07a58" stroke-width="0.45" opacity="0.7"/>
<line x1="87.71" y1="410.43" x2="89.31" y2="410.43" stroke="#b07a58" stroke-width="0.4" opacity="0.7"/>
<line x1="87.71" y1="417.23" x2="89.31" y2="417.23" stroke="#b07a58" stroke-width="0.4" opacity="0.7"/>
<circle cx="88.51" cy="413.83" r="1.2" fill="#b07a58" opacity="0.9"/>
<line x1="99.62" y1="386.38" x2="99.62" y2="393.18" stroke="#b07a58" stroke-width="0.45" opacity="0.7"/>
<line x1="98.82" y1="386.38" x2="100.42" y2="386.38" stroke="#b07a58" stroke-width="0.4" opacity="0.7"/>
<line x1="98.82" y1="393.18" x2="100.42" y2="393.18" stroke="#b07a58" stroke-width="0.4" opacity="0.7"/>
<circle cx="99.62" cy="389.78" r="1.2" fill="#b07a58" opacity="0.9"/>
<line x1="121.85" y1="369.06" x2="121.85" y2="375.86" stroke="#b07a58" stroke-width="0.45" opacity="0.7"/>
<line x1="121.05" y1="369.06" x2="122.65" y2="369.06" stroke="#b07a58" stroke-width="0.4" opacity="0.7"/>
<line x1="121.05" y1="375.86" x2="122.65" y2="375.86" stroke="#b07a58" stroke-width="0.4" opacity="0.7"/>
<circle cx="121.85" cy="372.46" r="1.2" fill="#b07a58" opacity="0.9"/>
<line x1="166.30" y1="342.61" x2="166.30" y2="349.41" stroke="#b07a58" stroke-width="0.45" opacity="0.7"/>
<line x1="165.50" y1="342.61" x2="167.10" y2="342.61" stroke="#b07a58" stroke-width="0.4" opacity="0.7"/>
<line x1="165.50" y1="349.41" x2="167.10" y2="349.41" stroke="#b07a58" stroke-width="0.4" opacity="0.7"/>
<circle cx="166.30" cy="346.01" r="1.2" fill="#b07a58" opacity="0.9"/>
<line x1="88.51" y1="412.35" x2="88.51" y2="419.15" stroke="#a9d5b6" stroke-width="0.45" opacity="0.7"/>
<line x1="87.71" y1="412.35" x2="89.31" y2="412.35" stroke="#a9d5b6" stroke-width="0.4" opacity="0.7"/>
<line x1="87.71" y1="419.15" x2="89.31" y2="419.15" stroke="#a9d5b6" stroke-width="0.4" opacity="0.7"/>
<circle cx="88.51" cy="415.75" r="1.2" fill="#a9d5b6" opacity="0.9"/>
<line x1="99.62" y1="392.15" x2="99.62" y2="398.95" stroke="#a9d5b6" stroke-width="0.45" opacity="0.7"/>
<line x1="98.82" y1="392.15" x2="100.42" y2="392.15" stroke="#a9d5b6" stroke-width="0.4" opacity="0.7"/>
<line x1="98.82" y1="398.95" x2="100.42" y2="398.95" stroke="#a9d5b6" stroke-width="0.4" opacity="0.7"/>
<circle cx="99.62" cy="395.55" r="1.2" fill="#a9d5b6" opacity="0.9"/>
<line x1="121.85" y1="371.95" x2="121.85" y2="378.75" stroke="#a9d5b6" stroke-width="0.45" opacity="0.7"/>
<line x1="121.05" y1="371.95" x2="122.65" y2="371.95" stroke="#a9d5b6" stroke-width="0.4" opacity="0.7"/>
<line x1="121.05" y1="378.75" x2="122.65" y2="378.75" stroke="#a9d5b6" stroke-width="0.4" opacity="0.7"/>
<circle cx="121.85" cy="375.35" r="1.2" fill="#a9d5b6" opacity="0.9"/>
<line x1="166.30" y1="346.46" x2="166.30" y2="353.26" stroke="#a9d5b6" stroke-width="0.45" opacity="0.7"/>
<line x1="165.50" y1="346.46" x2="167.10" y2="346.46" stroke="#a9d5b6" stroke-width="0.4" opacity="0.7"/>
<line x1="165.50" y1="353.26" x2="167.10" y2="353.26" stroke="#a9d5b6" stroke-width="0.4" opacity="0.7"/>
<circle cx="166.30" cy="349.86" r="1.2" fill="#a9d5b6" opacity="0.9"/>
<line x1="88.51" y1="413.32" x2="88.51" y2="420.12" stroke="#58b7e4" stroke-width="0.45" opacity="0.7"/>
<line x1="87.71" y1="413.32" x2="89.31" y2="413.32" stroke="#58b7e4" stroke-width="0.4" opacity="0.7"/>
<line x1="87.71" y1="420.12" x2="89.31" y2="420.12" stroke="#58b7e4" stroke-width="0.4" opacity="0.7"/>
<circle cx="88.51" cy="416.72" r="1.2" fill="#58b7e4" opacity="0.9"/>
<line x1="99.62" y1="394.08" x2="99.62" y2="400.88" stroke="#58b7e4" stroke-width="0.45" opacity="0.7"/>
<line x1="98.82" y1="394.08" x2="100.42" y2="394.08" stroke="#58b7e4" stroke-width="0.4" opacity="0.7"/>
<line x1="98.82" y1="400.88" x2="100.42" y2="400.88" stroke="#58b7e4" stroke-width="0.4" opacity="0.7"/>
<circle cx="99.62" cy="397.48" r="1.2" fill="#58b7e4" opacity="0.9"/>
<line x1="121.85" y1="374.84" x2="121.85" y2="381.64" stroke="#58b7e4" stroke-width="0.45" opacity="0.7"/>
<line x1="121.05" y1="374.84" x2="122.65" y2="374.84" stroke="#58b7e4" stroke-width="0.4" opacity="0.7"/>
<line x1="121.05" y1="381.64" x2="122.65" y2="381.64" stroke="#58b7e4" stroke-width="0.4" opacity="0.7"/>
<circle cx="121.85" cy="378.24" r="1.2" fill="#58b7e4" opacity="0.9"/>
<line x1="166.30" y1="347.42" x2="166.30" y2="354.22" stroke="#58b7e4" stroke-width="0.45" opacity="0.7"/>
<line x1="165.50" y1="347.42" x2="167.10" y2="347.42" stroke="#58b7e4" stroke-width="0.4" opacity="0.7"/>
<line x1="165.50" y1="354.22" x2="167.10" y2="354.22" stroke="#58b7e4" stroke-width="0.4" opacity="0.7"/>
<circle cx="166.30" cy="350.82" r="1.2" fill="#58b7e4" opacity="0.9"/>
<line x1="88.51" y1="415.24" x2="88.51" y2="422.04" stroke="#9fd4ea" stroke-width="0.45" opacity="0.7"/>
<line x1="87.71" y1="415.24" x2="89.31" y2="415.24" stroke="#9fd4ea" stroke-width="0.4" opacity="0.7"/>
<line x1="87.71" y1="422.04" x2="89.31" y2="422.04" stroke="#9fd4ea" stroke-width="0.4" opacity="0.7"/>
<circle cx="88.51" cy="418.64" r="1.2" fill="#9fd4ea" opacity="0.9"/>
<line x1="99.62" y1="396.00" x2="99.62" y2="402.80" stroke="#9fd4ea" stroke-width="0.45" opacity="0.7"/>
<line x1="98.82" y1="396.00" x2="100.42" y2="396.00" stroke="#9fd4ea" stroke-width="0.4" opacity="0.7"/>
<line x1="98.82" y1="402.80" x2="100.42" y2="402.80" stroke="#9fd4ea" stroke-width="0.4" opacity="0.7"/>
<circle cx="99.62" cy="399.40" r="1.2" fill="#9fd4ea" opacity="0.9"/>
<line x1="121.85" y1="376.76" x2="121.85" y2="383.56" stroke="#9fd4ea" stroke-width="0.45" opacity="0.7"/>
<line x1="121.05" y1="376.76" x2="122.65" y2="376.76" stroke="#9fd4ea" stroke-width="0.4" opacity="0.7"/>
<line x1="121.05" y1="383.56" x2="122.65" y2="383.56" stroke="#9fd4ea" stroke-width="0.4" opacity="0.7"/>
<circle cx="121.85" cy="380.16" r="1.2" fill="#9fd4ea" opacity="0.9"/>
<line x1="166.30" y1="351.75" x2="166.30" y2="358.55" stroke="#9fd4ea" stroke-width="0.45" opacity="0.7"/>
<line x1="165.50" y1="351.75" x2="167.10" y2="351.75" stroke="#9fd4ea" stroke-width="0.4" opacity="0.7"/>
<line x1="165.50" y1="358.55" x2="167.10" y2="358.55" stroke="#9fd4ea" stroke-width="0.4" opacity="0.7"/>
<circle cx="166.30" cy="355.15" r="1.2" fill="#9fd4ea" opacity="0.9"/>
<line x1="88.51" y1="409.47" x2="88.51" y2="416.27" stroke="#f2c080" stroke-width="0.45" opacity="0.7"/>
<line x1="87.71" y1="409.47" x2="89.31" y2="409.47" stroke="#f2c080" stroke-width="0.4" opacity="0.7"/>
<line x1="87.71" y1="416.27" x2="89.31" y2="416.27" stroke="#f2c080" stroke-width="0.4" opacity="0.7"/>
<circle cx="88.51" cy="412.87" r="1.2" fill="#f2c080" opacity="0.9"/>
<line x1="99.62" y1="392.15" x2="99.62" y2="398.95" stroke="#f2c080" stroke-width="0.45" opacity="0.7"/>
<line x1="98.82" y1="392.15" x2="100.42" y2="392.15" stroke="#f2c080" stroke-width="0.4" opacity="0.7"/>
<line x1="98.82" y1="398.95" x2="100.42" y2="398.95" stroke="#f2c080" stroke-width="0.4" opacity="0.7"/>
<circle cx="99.62" cy="395.55" r="1.2" fill="#f2c080" opacity="0.9"/>
<line x1="121.85" y1="378.68" x2="121.85" y2="385.48" stroke="#f2c080" stroke-width="0.45" opacity="0.7"/>
<line x1="121.05" y1="378.68" x2="122.65" y2="378.68" stroke="#f2c080" stroke-width="0.4" opacity="0.7"/>
<line x1="121.05" y1="385.48" x2="122.65" y2="385.48" stroke="#f2c080" stroke-width="0.4" opacity="0.7"/>
<circle cx="121.85" cy="382.08" r="1.2" fill="#f2c080" opacity="0.9"/>
<line x1="166.30" y1="352.71" x2="166.30" y2="359.51" stroke="#f2c080" stroke-width="0.45" opacity="0.7"/>
<line x1="165.50" y1="352.71" x2="167.10" y2="352.71" stroke="#f2c080" stroke-width="0.4" opacity="0.7"/>
<line x1="165.50" y1="359.51" x2="167.10" y2="359.51" stroke="#f2c080" stroke-width="0.4" opacity="0.7"/>
<circle cx="166.30" cy="356.11" r="1.2" fill="#f2c080" opacity="0.9"/>
<line x1="88.51" y1="417.16" x2="88.51" y2="423.96" stroke="#9aa0c8" stroke-width="0.45" opacity="0.7"/>
<line x1="87.71" y1="417.16" x2="89.31" y2="417.16" stroke="#9aa0c8" stroke-width="0.4" opacity="0.7"/>
<line x1="87.71" y1="423.96" x2="89.31" y2="423.96" stroke="#9aa0c8" stroke-width="0.4" opacity="0.7"/>
<circle cx="88.51" cy="420.56" r="1.2" fill="#9aa0c8" opacity="0.9"/>
<line x1="99.62" y1="398.60" x2="99.62" y2="405.40" stroke="#9aa0c8" stroke-width="0.45" opacity="0.7"/>
<line x1="98.82" y1="398.60" x2="100.42" y2="398.60" stroke="#9aa0c8" stroke-width="0.4" opacity="0.7"/>
<line x1="98.82" y1="405.40" x2="100.42" y2="405.40" stroke="#9aa0c8" stroke-width="0.4" opacity="0.7"/>
<circle cx="99.62" cy="402.00" r="1.2" fill="#9aa0c8" opacity="0.9"/>
<line x1="121.85" y1="384.46" x2="121.85" y2="391.26" stroke="#9aa0c8" stroke-width="0.45" opacity="0.7"/>
<line x1="121.05" y1="384.46" x2="122.65" y2="384.46" stroke="#9aa0c8" stroke-width="0.4" opacity="0.7"/>
<line x1="121.05" y1="391.26" x2="122.65" y2="391.26" stroke="#9aa0c8" stroke-width="0.4" opacity="0.7"/>
<circle cx="121.85" cy="387.86" r="1.2" fill="#9aa0c8" opacity="0.9"/>
<line x1="166.30" y1="359.44" x2="166.30" y2="366.24" stroke="#9aa0c8" stroke-width="0.45" opacity="0.7"/>
<line x1="165.50" y1="359.44" x2="167.10" y2="359.44" stroke="#9aa0c8" stroke-width="0.4" opacity="0.7"/>
<line x1="165.50" y1="366.24" x2="167.10" y2="366.24" stroke="#9aa0c8" stroke-width="0.4" opacity="0.7"/>
<circle cx="166.30" cy="362.84" r="1.2" fill="#9aa0c8" opacity="0.9"/>
<line x1="88.51" y1="418.13" x2="88.51" y2="424.93" stroke="#5e9e78" stroke-width="0.45" opacity="0.7"/>
<line x1="87.71" y1="418.13" x2="89.31" y2="418.13" stroke="#5e9e78" stroke-width="0.4" opacity="0.7"/>
<line x1="87.71" y1="424.93" x2="89.31" y2="424.93" stroke="#5e9e78" stroke-width="0.4" opacity="0.7"/>
<circle cx="88.51" cy="421.53" r="1.2" fill="#5e9e78" opacity="0.9"/>
<line x1="99.62" y1="400.81" x2="99.62" y2="407.61" stroke="#5e9e78" stroke-width="0.45" opacity="0.7"/>
<line x1="98.82" y1="400.81" x2="100.42" y2="400.81" stroke="#5e9e78" stroke-width="0.4" opacity="0.7"/>
<line x1="98.82" y1="407.61" x2="100.42" y2="407.61" stroke="#5e9e78" stroke-width="0.4" opacity="0.7"/>
<circle cx="99.62" cy="404.21" r="1.2" fill="#5e9e78" opacity="0.9"/>
<line x1="121.85" y1="386.38" x2="121.85" y2="393.18" stroke="#5e9e78" stroke-width="0.45" opacity="0.7"/>
<line x1="121.05" y1="386.38" x2="122.65" y2="386.38" stroke="#5e9e78" stroke-width="0.4" opacity="0.7"/>
<line x1="121.05" y1="393.18" x2="122.65" y2="393.18" stroke="#5e9e78" stroke-width="0.4" opacity="0.7"/>
<circle cx="121.85" cy="389.78" r="1.2" fill="#5e9e78" opacity="0.9"/>
<line x1="166.30" y1="359.93" x2="166.30" y2="366.72" stroke="#5e9e78" stroke-width="0.45" opacity="0.7"/>
<line x1="165.50" y1="359.93" x2="167.10" y2="359.93" stroke="#5e9e78" stroke-width="0.4" opacity="0.7"/>
<line x1="165.50" y1="366.72" x2="167.10" y2="366.72" stroke="#5e9e78" stroke-width="0.4" opacity="0.7"/>
<circle cx="166.30" cy="363.32" r="1.2" fill="#5e9e78" opacity="0.9"/>
<line x1="88.51" y1="420.05" x2="88.51" y2="426.85" stroke="#3c6690" stroke-width="0.45" opacity="0.7"/>
<line x1="87.71" y1="420.05" x2="89.31" y2="420.05" stroke="#3c6690" stroke-width="0.4" opacity="0.7"/>
<line x1="87.71" y1="426.85" x2="89.31" y2="426.85" stroke="#3c6690" stroke-width="0.4" opacity="0.7"/>
<circle cx="88.51" cy="423.45" r="1.2" fill="#3c6690" opacity="0.9"/>
<line x1="99.62" y1="404.66" x2="99.62" y2="411.46" stroke="#3c6690" stroke-width="0.45" opacity="0.7"/>
<line x1="98.82" y1="404.66" x2="100.42" y2="404.66" stroke="#3c6690" stroke-width="0.4" opacity="0.7"/>
<line x1="98.82" y1="411.46" x2="100.42" y2="411.46" stroke="#3c6690" stroke-width="0.4" opacity="0.7"/>
<circle cx="99.62" cy="408.06" r="1.2" fill="#3c6690" opacity="0.9"/>
<line x1="121.85" y1="388.30" x2="121.85" y2="395.10" stroke="#3c6690" stroke-width="0.45" opacity="0.7"/>
<line x1="121.05" y1="388.30" x2="122.65" y2="388.30" stroke="#3c6690" stroke-width="0.4" opacity="0.7"/>
<line x1="121.05" y1="395.10" x2="122.65" y2="395.10" stroke="#3c6690" stroke-width="0.4" opacity="0.7"/>
<circle cx="121.85" cy="391.70" r="1.2" fill="#3c6690" opacity="0.9"/>
<line x1="166.30" y1="363.87" x2="166.30" y2="370.67" stroke="#3c6690" stroke-width="0.45" opacity="0.7"/>
<line x1="165.50" y1="363.87" x2="167.10" y2="363.87" stroke="#3c6690" stroke-width="0.4" opacity="0.7"/>
<line x1="165.50" y1="370.67" x2="167.10" y2="370.67" stroke="#3c6690" stroke-width="0.4" opacity="0.7"/>
<circle cx="166.30" cy="367.27" r="1.2" fill="#3c6690" opacity="0.9"/>
<line x1="88.51" y1="421.30" x2="88.51" y2="428.10" stroke="#3d4068" stroke-width="0.45" opacity="0.7"/>
<line x1="87.71" y1="421.30" x2="89.31" y2="421.30" stroke="#3d4068" stroke-width="0.4" opacity="0.7"/>
<line x1="87.71" y1="428.10" x2="89.31" y2="428.10" stroke="#3d4068" stroke-width="0.4" opacity="0.7"/>
<circle cx="88.51" cy="424.70" r="1.2" fill="#3d4068" opacity="0.9"/>
<line x1="99.62" y1="406.58" x2="99.62" y2="413.38" stroke="#3d4068" stroke-width="0.45" opacity="0.7"/>
<line x1="98.82" y1="406.58" x2="100.42" y2="406.58" stroke="#3d4068" stroke-width="0.4" opacity="0.7"/>
<line x1="98.82" y1="413.38" x2="100.42" y2="413.38" stroke="#3d4068" stroke-width="0.4" opacity="0.7"/>
<circle cx="99.62" cy="409.98" r="1.2" fill="#3d4068" opacity="0.9"/>
<line x1="121.85" y1="389.27" x2="121.85" y2="396.07" stroke="#3d4068" stroke-width="0.45" opacity="0.7"/>
<line x1="121.05" y1="389.27" x2="122.65" y2="389.27" stroke="#3d4068" stroke-width="0.4" opacity="0.7"/>
<line x1="121.05" y1="396.07" x2="122.65" y2="396.07" stroke="#3d4068" stroke-width="0.4" opacity="0.7"/>
<circle cx="121.85" cy="392.67" r="1.2" fill="#3d4068" opacity="0.9"/>
<line x1="166.30" y1="366.56" x2="166.30" y2="373.36" stroke="#3d4068" stroke-width="0.45" opacity="0.7"/>
<line x1="165.50" y1="366.56" x2="167.10" y2="366.56" stroke="#3d4068" stroke-width="0.4" opacity="0.7"/>
<line x1="165.50" y1="373.36" x2="167.10" y2="373.36" stroke="#3d4068" stroke-width="0.4" opacity="0.7"/>
<circle cx="166.30" cy="369.96" r="1.2" fill="#3d4068" opacity="0.9"/>
<line x1="77.10" y1="271.00" x2="77.10" y2="448.00" stroke="#222" stroke-width="1.1"/>
<line x1="76.60" y1="447.50" x2="167.30" y2="447.50" stroke="#222" stroke-width="1.1"/>
<line x1="73.90" y1="447.50" x2="77.10" y2="447.50" stroke="#222" stroke-width="0.9"/>
<text x="70.90" y="450.30" font-size="8.1" text-anchor="end" fill="#222" stroke="#222" stroke-width="0.2">0</text>
<line x1="73.90" y1="428.26" x2="77.10" y2="428.26" stroke="#222" stroke-width="0.9"/>
<text x="70.90" y="431.06" font-size="8.1" text-anchor="end" fill="#222" stroke="#222" stroke-width="0.2">20</text>
<line x1="73.90" y1="409.02" x2="77.10" y2="409.02" stroke="#222" stroke-width="0.9"/>
<text x="70.90" y="411.82" font-size="8.1" text-anchor="end" fill="#222" stroke="#222" stroke-width="0.2">40</text>
<line x1="73.90" y1="389.78" x2="77.10" y2="389.78" stroke="#222" stroke-width="0.9"/>
<text x="70.90" y="392.58" font-size="8.1" text-anchor="end" fill="#222" stroke="#222" stroke-width="0.2">60</text>
<line x1="73.90" y1="370.54" x2="77.10" y2="370.54" stroke="#222" stroke-width="0.9"/>
<text x="70.90" y="373.34" font-size="8.1" text-anchor="end" fill="#222" stroke="#222" stroke-width="0.2">80</text>
<line x1="73.90" y1="351.30" x2="77.10" y2="351.30" stroke="#222" stroke-width="0.9"/>
<text x="70.90" y="354.10" font-size="8.1" text-anchor="end" fill="#222" stroke="#222" stroke-width="0.2">100</text>
<line x1="73.90" y1="332.06" x2="77.10" y2="332.06" stroke="#222" stroke-width="0.9"/>
<text x="70.90" y="334.86" font-size="8.1" text-anchor="end" fill="#222" stroke="#222" stroke-width="0.2">120</text>
<line x1="73.90" y1="312.82" x2="77.10" y2="312.82" stroke="#222" stroke-width="0.9"/>
<text x="70.90" y="315.62" font-size="8.1" text-anchor="end" fill="#222" stroke="#222" stroke-width="0.2">140</text>
<line x1="73.90" y1="293.58" x2="77.10" y2="293.58" stroke="#222" stroke-width="0.9"/>
<text x="70.90" y="296.38" font-size="8.1" text-anchor="end" fill="#222" stroke="#222" stroke-width="0.2">160</text>
<line x1="73.90" y1="274.34" x2="77.10" y2="274.34" stroke="#222" stroke-width="0.9"/>
<text x="70.90" y="277.14" font-size="8.1" text-anchor="end" fill="#222" stroke="#222" stroke-width="0.2">180</text>
<line x1="77.40" y1="447.50" x2="77.40" y2="450.10" stroke="#222" stroke-width="0.9"/>
<line x1="88.51" y1="447.50" x2="88.51" y2="449.10" stroke="#222" stroke-width="0.9"/>
<line x1="99.62" y1="447.50" x2="99.62" y2="450.10" stroke="#222" stroke-width="0.9"/>
<line x1="110.74" y1="447.50" x2="110.74" y2="449.10" stroke="#222" stroke-width="0.9"/>
<line x1="121.85" y1="447.50" x2="121.85" y2="450.10" stroke="#222" stroke-width="0.9"/>
<line x1="132.96" y1="447.50" x2="132.96" y2="449.10" stroke="#222" stroke-width="0.9"/>
<line x1="144.07" y1="447.50" x2="144.07" y2="450.10" stroke="#222" stroke-width="0.9"/>
<line x1="155.18" y1="447.50" x2="155.18" y2="449.10" stroke="#222" stroke-width="0.9"/>
<line x1="166.30" y1="447.50" x2="166.30" y2="450.10" stroke="#222" stroke-width="0.9"/>
<text x="77.40" y="461.60" font-size="8.1" text-anchor="middle" fill="#222" stroke="#222" stroke-width="0.2">0</text>
<text x="99.62" y="461.60" font-size="8.1" text-anchor="middle" fill="#222" stroke="#222" stroke-width="0.2">30</text>
<text x="121.85" y="461.60" font-size="8.1" text-anchor="middle" fill="#222" stroke="#222" stroke-width="0.2">60</text>
<text x="144.07" y="461.60" font-size="8.1" text-anchor="middle" fill="#222" stroke="#222" stroke-width="0.2">90</text>
<text x="166.30" y="461.60" font-size="8.1" text-anchor="middle" fill="#222" stroke="#222" stroke-width="0.2">120</text>
<text x="193.40" y="278.60" font-size="7.5" text-anchor="start" fill="#222" stroke="#222" stroke-width="0.2">Q27E</text>
<line x1="185.00" y1="276.00" x2="189.40" y2="276.00" stroke="#a83050" stroke-width="0.6"/>
<circle cx="187.20" cy="276.00" r="1.1" fill="#a83050"/>
<text x="193.40" y="288.50" font-size="7.5" text-anchor="start" fill="#222" stroke="#222" stroke-width="0.2">N57W</text>
<line x1="185.00" y1="285.90" x2="189.40" y2="285.90" stroke="#a9d5b6" stroke-width="0.6"/>
<circle cx="187.20" cy="285.90" r="1.1" fill="#a9d5b6"/>
<text x="193.40" y="298.60" font-size="7.5" text-anchor="start" fill="#222" stroke="#222" stroke-width="0.2">S56W</text>
<line x1="185.00" y1="296.00" x2="189.40" y2="296.00" stroke="#f0b76a" stroke-width="0.6"/>
<circle cx="187.20" cy="296.00" r="1.1" fill="#f0b76a"/>
<text x="193.40" y="308.60" font-size="7.5" text-anchor="start" fill="#222" stroke="#222" stroke-width="0.2">Q93T</text>
<line x1="185.00" y1="306.00" x2="189.40" y2="306.00" stroke="#d2478f" stroke-width="0.6"/>
<circle cx="187.20" cy="306.00" r="1.1" fill="#d2478f"/>
<text x="193.40" y="318.50" font-size="7.5" text-anchor="start" fill="#222" stroke="#222" stroke-width="0.2">Y100F</text>
<line x1="185.00" y1="315.90" x2="189.40" y2="315.90" stroke="#4a4a4a" stroke-width="0.6"/>
<circle cx="187.20" cy="315.90" r="1.1" fill="#4a4a4a"/>
<text x="193.40" y="328.20" font-size="7.5" text-anchor="start" fill="#222" stroke="#222" stroke-width="0.2">S28R</text>
<line x1="185.00" y1="325.60" x2="189.40" y2="325.60" stroke="#b07a58" stroke-width="0.6"/>
<circle cx="187.20" cy="325.60" r="1.1" fill="#b07a58"/>
<text x="193.40" y="338.60" font-size="7.5" text-anchor="start" fill="#222" stroke="#222" stroke-width="0.2">TPP-26870</text>
<text x="193.40" y="348.10" font-size="7.5" text-anchor="start" fill="#222" stroke="#222" stroke-width="0.2">(parental)</text>
<line x1="185.00" y1="340.75" x2="189.40" y2="340.75" stroke="#58b7e4" stroke-width="0.6"/>
<circle cx="187.20" cy="340.75" r="1.1" fill="#58b7e4"/>
<text x="193.40" y="359.60" font-size="7.5" text-anchor="start" fill="#222" stroke="#222" stroke-width="0.2">No Ab</text>
<text x="193.40" y="368.80" font-size="7.5" text-anchor="start" fill="#222" stroke="#222" stroke-width="0.2">(APC Only)</text>
<line x1="185.00" y1="361.60" x2="189.40" y2="361.60" stroke="#9fd4ea" stroke-width="0.6"/>
<circle cx="187.20" cy="361.60" r="1.1" fill="#9fd4ea"/>
<text x="193.40" y="378.40" font-size="7.5" text-anchor="start" fill="#222" stroke="#222" stroke-width="0.2">N57H</text>
<line x1="185.00" y1="375.80" x2="189.40" y2="375.80" stroke="#f2c080" stroke-width="0.6"/>
<circle cx="187.20" cy="375.80" r="1.1" fill="#f2c080"/>
<text x="193.40" y="388.10" font-size="7.5" text-anchor="start" fill="#222" stroke="#222" stroke-width="0.2">N57R</text>
<line x1="185.00" y1="385.50" x2="189.40" y2="385.50" stroke="#9aa0c8" stroke-width="0.6"/>
<circle cx="187.20" cy="385.50" r="1.1" fill="#9aa0c8"/>
<text x="193.40" y="398.60" font-size="7.5" text-anchor="start" fill="#222" stroke="#222" stroke-width="0.2">A55K</text>
<line x1="185.00" y1="396.00" x2="189.40" y2="396.00" stroke="#5e9e78" stroke-width="0.6"/>
<circle cx="187.20" cy="396.00" r="1.1" fill="#5e9e78"/>
<text x="193.40" y="408.60" font-size="7.5" text-anchor="start" fill="#222" stroke="#222" stroke-width="0.2">Y100W</text>
<line x1="185.00" y1="406.00" x2="189.40" y2="406.00" stroke="#3c6690" stroke-width="0.6"/>
<circle cx="187.20" cy="406.00" r="1.1" fill="#3c6690"/>
<text x="193.40" y="418.10" font-size="7.5" text-anchor="start" fill="#222" stroke="#222" stroke-width="0.2">S56R</text>
<line x1="185.00" y1="415.50" x2="189.40" y2="415.50" stroke="#3d4068" stroke-width="0.6"/>
<circle cx="187.20" cy="415.50" r="1.1" fill="#3d4068"/>
<text x="90.70" y="265.50" font-size="9.8" text-anchor="start" fill="#222" stroke="#222" stroke-width="0.2" textLength="5.80" lengthAdjust="spacingAndGlyphs">V</text>
<text x="96.60" y="267.40" font-size="7.4" text-anchor="start" fill="#222" stroke="#222" stroke-width="0.2" textLength="3.80" lengthAdjust="spacingAndGlyphs">L</text>
<text x="103.30" y="265.50" font-size="9.8" text-anchor="start" fill="#222" stroke="#222" stroke-width="0.2" textLength="51.50" lengthAdjust="spacingAndGlyphs">Optimization</text>
<text transform="translate(50.54,354.40) rotate(-90)" x="0" y="0" font-size="8.6" text-anchor="middle" fill="#222" textLength="117.70" lengthAdjust="spacingAndGlyphs" stroke="#222" stroke-width="0.2">Histone H3 cleavage (normalized %)</text>
<text x="107.00" y="472.70" font-size="9.6" text-anchor="start" fill="#222" stroke="#222" stroke-width="0.2" textLength="33.00" lengthAdjust="spacingAndGlyphs">Time (min)</text>
<line x1="176.70" y1="349.80" x2="176.70" y2="344.00" stroke="#4cae50" stroke-width="1.0"/>
<path d="M176.70,341.00 L174.60,345.00 L178.80,345.00 Z" fill="#4cae50"/>
<line x1="176.70" y1="353.50" x2="176.70" y2="359.30" stroke="#c42a48" stroke-width="1.0"/>
<path d="M176.70,362.30 L174.60,358.30 L178.80,358.30 Z" fill="#c42a48"/>
<text transform="translate(178.88,300.60) rotate(-90)" x="0" y="0" font-size="8.4" text-anchor="middle" fill="#4cae50" textLength="73.70" lengthAdjust="spacingAndGlyphs" stroke="#4cae50" stroke-width="0.2">Improved vs Parental</text>
<text transform="translate(178.88,401.20) rotate(-90)" x="0" y="0" font-size="8.4" text-anchor="middle" fill="#c42a48" textLength="69.70" lengthAdjust="spacingAndGlyphs" stroke="#c42a48" stroke-width="0.2">Impaired vs Parental</text>
<text x="394.20" y="260.60" font-size="7.2" text-anchor="start" fill="#222" stroke="#222" stroke-width="0.2" textLength="4.70" lengthAdjust="spacingAndGlyphs">V</text>
<text x="399.20" y="262.20" font-size="5.0" text-anchor="start" fill="#222" stroke="#222" stroke-width="0.2">L</text>
<text x="402.00" y="260.60" font-size="7.2" text-anchor="start" fill="#222" stroke="#222" stroke-width="0.2" textLength="25.00" lengthAdjust="spacingAndGlyphs">: Q27E</text>
<text x="399.20" y="272.70" font-size="7.6" text-anchor="start" fill="#222" stroke="#222" stroke-width="0.2" textLength="23.50" lengthAdjust="spacingAndGlyphs">+ APC</text>
<text x="349.60" y="279.80" font-size="7.4" text-anchor="start" fill="#222" stroke="#222" stroke-width="0.2" textLength="10.20" lengthAdjust="spacingAndGlyphs">H3</text>
<text x="453.00" y="280.00" font-size="7.4" text-anchor="start" fill="#222" stroke="#222" stroke-width="0.2" textLength="15.00" lengthAdjust="spacingAndGlyphs">MW</text>
<path d="M364.80,279.50 L364.80,275.30 L448.20,275.30 L448.20,279.50" fill="none" stroke="#222" stroke-width="1.1"/>
<linearGradient id="gbg2" gradientUnits="userSpaceOnUse" x1="0" y1="284.5" x2="0" y2="439.2"><stop offset="0.000" stop-color="rgb(210,210,210)"/><stop offset="0.359" stop-color="rgb(214,214,214)"/><stop offset="0.747" stop-color="rgb(218,218,218)"/><stop offset="0.999" stop-color="rgb(226,226,226)"/></linearGradient>
<rect x="345.10" y="284.50" width="126.00" height="154.70" fill="url(#gbg2)"/>
<g filter="url(#gblur)">
<linearGradient id="lg2_0" gradientUnits="userSpaceOnUse" x1="0" y1="284.5" x2="0" y2="439.2"><stop offset="0.000" stop-color="rgb(200,200,200)"/><stop offset="0.100" stop-color="rgb(188,188,188)"/><stop offset="0.229" stop-color="rgb(188,188,188)"/><stop offset="0.359" stop-color="rgb(182,182,182)"/><stop offset="0.488" stop-color="rgb(182,182,182)"/><stop offset="0.650" stop-color="rgb(184,184,184)"/><stop offset="0.824" stop-color="rgb(205,205,205)"/><stop offset="0.908" stop-color="rgb(220,220,220)"/><stop offset="0.999" stop-color="rgb(224,224,224)"/></linearGradient>
<rect x="348.30" y="285.30" width="13.70" height="153.10" fill="url(#lg2_0)"/>
<rect x="347.70" y="293.10" width="14.90" height="2.00" rx="1.00" fill="rgb(140,140,140)"/>
<rect x="347.70" y="299.15" width="14.90" height="2.70" rx="1.35" fill="rgb(60,60,60)"/>
<rect x="347.70" y="319.70" width="14.90" height="4.00" rx="1.60" fill="rgb(6,6,6)"/>
<rect x="347.70" y="327.60" width="14.90" height="1.80" rx="0.90" fill="rgb(165,165,165)"/>
<rect x="348.40" y="339.00" width="13.50" height="6.00" fill="rgb(170,170,170)" filter="url(#smear)"/>
<rect x="347.70" y="355.35" width="14.90" height="2.10" rx="1.05" fill="rgb(120,120,120)"/>
<rect x="348.40" y="369.00" width="13.50" height="6.00" fill="rgb(175,175,175)" filter="url(#smear)"/>
<rect x="348.40" y="392.50" width="13.50" height="7.00" fill="rgb(165,165,165)" filter="url(#smear)"/>
<rect x="348.40" y="400.50" width="13.50" height="5.00" fill="rgb(175,175,175)" filter="url(#smear)"/>
<rect x="347.70" y="388.10" width="14.90" height="4.60" rx="1.60" fill="rgb(5,5,5)"/>
<linearGradient id="lg2_1" gradientUnits="userSpaceOnUse" x1="0" y1="284.5" x2="0" y2="439.2"><stop offset="0.000" stop-color="rgb(200,200,200)"/><stop offset="0.100" stop-color="rgb(188,188,188)"/><stop offset="0.229" stop-color="rgb(188,188,188)"/><stop offset="0.359" stop-color="rgb(180,180,180)"/><stop offset="0.488" stop-color="rgb(180,180,180)"/><stop offset="0.650" stop-color="rgb(184,184,184)"/><stop offset="0.824" stop-color="rgb(205,205,205)"/><stop offset="0.908" stop-color="rgb(218,218,218)"/><stop offset="0.999" stop-color="rgb(224,224,224)"/></linearGradient>
<rect x="366.20" y="285.30" width="12.60" height="153.10" fill="url(#lg2_1)"/>
<rect x="365.60" y="294.50" width="13.80" height="2.00" rx="1.00" fill="rgb(150,150,150)"/>
<rect x="365.60" y="299.90" width="13.80" height="2.60" rx="1.30" fill="rgb(70,70,70)"/>
<rect x="365.60" y="325.90" width="13.80" height="2.00" rx="1.00" fill="rgb(140,140,140)"/>
<rect x="366.30" y="337.00" width="12.40" height="6.00" fill="rgb(165,165,165)" filter="url(#smear)"/>
<rect x="365.60" y="342.60" width="13.80" height="1.60" rx="0.80" fill="rgb(160,160,160)"/>
<rect x="365.60" y="348.30" width="13.80" height="1.40" rx="0.70" fill="rgb(170,170,170)"/>
<rect x="365.60" y="360.30" width="13.80" height="1.40" rx="0.70" fill="rgb(172,172,172)"/>
<rect x="365.60" y="355.00" width="13.80" height="2.00" rx="1.00" fill="rgb(146,146,146)"/>
<rect x="366.30" y="372.00" width="12.40" height="6.00" fill="rgb(172,172,172)" filter="url(#smear)"/>
<rect x="366.30" y="392.00" width="12.40" height="8.00" fill="rgb(144,144,144)" filter="url(#smear)"/>
<rect x="366.30" y="402.00" width="12.40" height="5.00" fill="rgb(130,130,130)" filter="url(#smear)"/>
<rect x="365.60" y="319.95" width="13.80" height="3.90" rx="1.60" fill="rgb(6,6,6)"/>
<rect x="365.60" y="329.15" width="13.80" height="3.50" rx="1.60" fill="rgb(8,8,8)"/>
<rect x="365.60" y="366.05" width="13.80" height="2.40" rx="1.20" fill="rgb(20,20,20)"/>
<rect x="365.60" y="387.72" width="13.80" height="3.45" rx="1.60" fill="rgb(8,8,8)"/>
<linearGradient id="lg2_2" gradientUnits="userSpaceOnUse" x1="0" y1="284.5" x2="0" y2="439.2"><stop offset="0.000" stop-color="rgb(200,200,200)"/><stop offset="0.100" stop-color="rgb(188,188,188)"/><stop offset="0.229" stop-color="rgb(188,188,188)"/><stop offset="0.359" stop-color="rgb(180,180,180)"/><stop offset="0.488" stop-color="rgb(180,180,180)"/><stop offset="0.650" stop-color="rgb(184,184,184)"/><stop offset="0.824" stop-color="rgb(205,205,205)"/><stop offset="0.908" stop-color="rgb(218,218,218)"/><stop offset="0.999" stop-color="rgb(224,224,224)"/></linearGradient>
<rect x="382.60" y="285.30" width="14.40" height="153.10" fill="url(#lg2_2)"/>
<rect x="382.00" y="294.50" width="15.60" height="2.00" rx="1.00" fill="rgb(150,150,150)"/>
<rect x="382.00" y="299.90" width="15.60" height="2.60" rx="1.30" fill="rgb(70,70,70)"/>
<rect x="382.00" y="325.90" width="15.60" height="2.00" rx="1.00" fill="rgb(140,140,140)"/>
<rect x="382.70" y="337.00" width="14.20" height="6.00" fill="rgb(165,165,165)" filter="url(#smear)"/>
<rect x="382.00" y="342.60" width="15.60" height="1.60" rx="0.80" fill="rgb(160,160,160)"/>
<rect x="382.00" y="348.30" width="15.60" height="1.40" rx="0.70" fill="rgb(170,170,170)"/>
<rect x="382.00" y="360.30" width="15.60" height="1.40" rx="0.70" fill="rgb(172,172,172)"/>
<rect x="382.00" y="355.00" width="15.60" height="2.00" rx="1.00" fill="rgb(152,152,152)"/>
<rect x="382.70" y="372.00" width="14.20" height="6.00" fill="rgb(172,172,172)" filter="url(#smear)"/>
<rect x="382.70" y="392.00" width="14.20" height="8.00" fill="rgb(138,138,138)" filter="url(#smear)"/>
<rect x="382.70" y="402.00" width="14.20" height="5.00" fill="rgb(120,120,120)" filter="url(#smear)"/>
<rect x="382.00" y="319.95" width="15.60" height="3.90" rx="1.60" fill="rgb(6,6,6)"/>
<rect x="382.00" y="329.15" width="15.60" height="3.50" rx="1.60" fill="rgb(8,8,8)"/>
<rect x="382.00" y="365.80" width="15.60" height="2.40" rx="1.20" fill="rgb(20,20,20)"/>
<rect x="382.00" y="387.45" width="15.60" height="3.30" rx="1.60" fill="rgb(12,12,12)"/>
<linearGradient id="lg2_3" gradientUnits="userSpaceOnUse" x1="0" y1="284.5" x2="0" y2="439.2"><stop offset="0.000" stop-color="rgb(200,200,200)"/><stop offset="0.100" stop-color="rgb(188,188,188)"/><stop offset="0.229" stop-color="rgb(188,188,188)"/><stop offset="0.359" stop-color="rgb(180,180,180)"/><stop offset="0.488" stop-color="rgb(180,180,180)"/><stop offset="0.650" stop-color="rgb(184,184,184)"/><stop offset="0.824" stop-color="rgb(205,205,205)"/><stop offset="0.908" stop-color="rgb(218,218,218)"/><stop offset="0.999" stop-color="rgb(224,224,224)"/></linearGradient>
<rect x="400.90" y="285.30" width="13.40" height="153.10" fill="url(#lg2_3)"/>
<rect x="400.30" y="294.50" width="14.60" height="2.00" rx="1.00" fill="rgb(150,150,150)"/>
<rect x="400.30" y="299.90" width="14.60" height="2.60" rx="1.30" fill="rgb(70,70,70)"/>
<rect x="400.30" y="325.90" width="14.60" height="2.00" rx="1.00" fill="rgb(140,140,140)"/>
<rect x="401.00" y="337.00" width="13.20" height="6.00" fill="rgb(165,165,165)" filter="url(#smear)"/>
<rect x="400.30" y="342.60" width="14.60" height="1.60" rx="0.80" fill="rgb(160,160,160)"/>
<rect x="400.30" y="348.30" width="14.60" height="1.40" rx="0.70" fill="rgb(170,170,170)"/>
<rect x="400.30" y="360.30" width="14.60" height="1.40" rx="0.70" fill="rgb(172,172,172)"/>
<rect x="400.30" y="355.00" width="14.60" height="2.00" rx="1.00" fill="rgb(158,158,158)"/>
<rect x="401.00" y="372.00" width="13.20" height="6.00" fill="rgb(172,172,172)" filter="url(#smear)"/>
<rect x="401.00" y="392.00" width="13.20" height="8.00" fill="rgb(132,132,132)" filter="url(#smear)"/>
<rect x="401.00" y="402.00" width="13.20" height="5.00" fill="rgb(110,110,110)" filter="url(#smear)"/>
<rect x="400.30" y="319.95" width="14.60" height="3.90" rx="1.60" fill="rgb(6,6,6)"/>
<rect x="400.30" y="329.15" width="14.60" height="3.50" rx="1.60" fill="rgb(8,8,8)"/>
<rect x="400.30" y="365.55" width="14.60" height="2.40" rx="1.20" fill="rgb(20,20,20)"/>
<rect x="400.30" y="387.18" width="14.60" height="3.15" rx="1.58" fill="rgb(25,25,25)"/>
<linearGradient id="lg2_4" gradientUnits="userSpaceOnUse" x1="0" y1="284.5" x2="0" y2="439.2"><stop offset="0.000" stop-color="rgb(200,200,200)"/><stop offset="0.100" stop-color="rgb(188,188,188)"/><stop offset="0.229" stop-color="rgb(188,188,188)"/><stop offset="0.359" stop-color="rgb(180,180,180)"/><stop offset="0.488" stop-color="rgb(180,180,180)"/><stop offset="0.650" stop-color="rgb(184,184,184)"/><stop offset="0.824" stop-color="rgb(205,205,205)"/><stop offset="0.908" stop-color="rgb(218,218,218)"/><stop offset="0.999" stop-color="rgb(224,224,224)"/></linearGradient>
<rect x="418.20" y="285.30" width="14.10" height="153.10" fill="url(#lg2_4)"/>
<rect x="417.60" y="294.50" width="15.30" height="2.00" rx="1.00" fill="rgb(150,150,150)"/>
<rect x="417.60" y="299.90" width="15.30" height="2.60" rx="1.30" fill="rgb(70,70,70)"/>
<rect x="417.60" y="325.90" width="15.30" height="2.00" rx="1.00" fill="rgb(140,140,140)"/>
<rect x="418.30" y="337.00" width="13.90" height="6.00" fill="rgb(165,165,165)" filter="url(#smear)"/>
<rect x="417.60" y="342.60" width="15.30" height="1.60" rx="0.80" fill="rgb(160,160,160)"/>
<rect x="417.60" y="348.30" width="15.30" height="1.40" rx="0.70" fill="rgb(170,170,170)"/>
<rect x="417.60" y="360.30" width="15.30" height="1.40" rx="0.70" fill="rgb(172,172,172)"/>
<rect x="417.60" y="355.00" width="15.30" height="2.00" rx="1.00" fill="rgb(164,164,164)"/>
<rect x="418.30" y="372.00" width="13.90" height="6.00" fill="rgb(172,172,172)" filter="url(#smear)"/>
<rect x="418.30" y="392.00" width="13.90" height="8.00" fill="rgb(126,126,126)" filter="url(#smear)"/>
<rect x="418.30" y="402.00" width="13.90" height="5.00" fill="rgb(100,100,100)" filter="url(#smear)"/>
<rect x="417.60" y="319.95" width="15.30" height="3.90" rx="1.60" fill="rgb(6,6,6)"/>
<rect x="417.60" y="329.15" width="15.30" height="3.50" rx="1.60" fill="rgb(8,8,8)"/>
<rect x="417.60" y="365.30" width="15.30" height="2.40" rx="1.20" fill="rgb(20,20,20)"/>
<rect x="417.60" y="386.90" width="15.30" height="3.00" rx="1.50" fill="rgb(45,45,45)"/>
<rect x="418.30" y="424.20" width="13.90" height="3.00" fill="rgb(205,205,205)" filter="url(#smear)"/>
<linearGradient id="lg2_5" gradientUnits="userSpaceOnUse" x1="0" y1="284.5" x2="0" y2="439.2"><stop offset="0.000" stop-color="rgb(200,200,200)"/><stop offset="0.100" stop-color="rgb(188,188,188)"/><stop offset="0.229" stop-color="rgb(188,188,188)"/><stop offset="0.359" stop-color="rgb(180,180,180)"/><stop offset="0.488" stop-color="rgb(180,180,180)"/><stop offset="0.650" stop-color="rgb(184,184,184)"/><stop offset="0.824" stop-color="rgb(205,205,205)"/><stop offset="0.908" stop-color="rgb(218,218,218)"/><stop offset="0.999" stop-color="rgb(224,224,224)"/></linearGradient>
<rect x="436.90" y="285.30" width="13.40" height="153.10" fill="url(#lg2_5)"/>
<rect x="436.30" y="294.50" width="14.60" height="2.00" rx="1.00" fill="rgb(150,150,150)"/>
<rect x="436.30" y="299.90" width="14.60" height="2.60" rx="1.30" fill="rgb(70,70,70)"/>
<rect x="436.30" y="325.90" width="14.60" height="2.00" rx="1.00" fill="rgb(140,140,140)"/>
<rect x="437.00" y="337.00" width="13.20" height="6.00" fill="rgb(165,165,165)" filter="url(#smear)"/>
<rect x="436.30" y="342.60" width="14.60" height="1.60" rx="0.80" fill="rgb(160,160,160)"/>
<rect x="436.30" y="348.30" width="14.60" height="1.40" rx="0.70" fill="rgb(170,170,170)"/>
<rect x="436.30" y="360.30" width="14.60" height="1.40" rx="0.70" fill="rgb(172,172,172)"/>
<rect x="436.30" y="355.00" width="14.60" height="2.00" rx="1.00" fill="rgb(170,170,170)"/>
<rect x="437.00" y="372.00" width="13.20" height="6.00" fill="rgb(172,172,172)" filter="url(#smear)"/>
<rect x="437.00" y="392.00" width="13.20" height="8.00" fill="rgb(120,120,120)" filter="url(#smear)"/>
<rect x="437.00" y="402.00" width="13.20" height="5.00" fill="rgb(90,90,90)" filter="url(#smear)"/>
<rect x="436.30" y="319.95" width="14.60" height="3.90" rx="1.60" fill="rgb(6,6,6)"/>
<rect x="436.30" y="329.15" width="14.60" height="3.50" rx="1.60" fill="rgb(8,8,8)"/>
<rect x="436.30" y="365.05" width="14.60" height="2.40" rx="1.20" fill="rgb(20,20,20)"/>
<rect x="436.30" y="386.62" width="14.60" height="2.85" rx="1.43" fill="rgb(60,60,60)"/>
<rect x="437.00" y="424.20" width="13.20" height="3.00" fill="rgb(205,205,205)" filter="url(#smear)"/>
<linearGradient id="lg2_6" gradientUnits="userSpaceOnUse" x1="0" y1="284.5" x2="0" y2="439.2"><stop offset="0.000" stop-color="rgb(208,208,208)"/><stop offset="0.488" stop-color="rgb(204,204,204)"/><stop offset="0.999" stop-color="rgb(215,215,215)"/></linearGradient>
<rect x="455.50" y="285.30" width="12.60" height="153.10" fill="url(#lg2_6)"/>
<rect x="454.90" y="295.45" width="13.80" height="1.90" rx="0.95" fill="rgb(20,20,20)"/>
<rect x="454.90" y="300.85" width="13.80" height="1.90" rx="0.95" fill="rgb(25,25,25)"/>
<rect x="454.90" y="308.95" width="13.80" height="1.90" rx="0.95" fill="rgb(90,90,90)"/>
<rect x="454.90" y="316.15" width="13.80" height="2.10" rx="1.05" fill="rgb(15,15,15)"/>
<rect x="454.90" y="330.05" width="13.80" height="2.30" rx="1.15" fill="rgb(12,12,12)"/>
<rect x="454.90" y="343.75" width="13.80" height="2.10" rx="1.05" fill="rgb(50,50,50)"/>
<rect x="454.90" y="367.05" width="13.80" height="2.30" rx="1.15" fill="rgb(25,25,25)"/>
<rect x="454.90" y="377.95" width="13.80" height="2.10" rx="1.05" fill="rgb(35,35,35)"/>
<rect x="454.90" y="396.45" width="13.80" height="2.30" rx="1.15" fill="rgb(150,150,150)"/>
<rect x="455.60" y="420.75" width="12.40" height="4.50" fill="rgb(120,120,120)" filter="url(#smear)"/>
<rect x="454.90" y="421.70" width="13.80" height="2.60" rx="1.30" fill="rgb(105,105,105)"/>
</g>
<text x="474.60" y="299.10" font-size="8.1" text-anchor="start" fill="#222" stroke="#222" stroke-width="0.2">250</text>
<text x="474.60" y="305.80" font-size="8.1" text-anchor="start" fill="#222" stroke="#222" stroke-width="0.2">150</text>
<text x="474.60" y="313.30" font-size="8.1" text-anchor="start" fill="#222" stroke="#222" stroke-width="0.2">100</text>
<text x="474.60" y="321.50" font-size="8.1" text-anchor="start" fill="#222" stroke="#222" stroke-width="0.2">75</text>
<text x="474.60" y="335.00" font-size="8.1" text-anchor="start" fill="#222" stroke="#222" stroke-width="0.2">50</text>
<text x="474.60" y="348.30" font-size="8.1" text-anchor="start" fill="#222" stroke="#222" stroke-width="0.2">37</text>
<text x="474.60" y="371.00" font-size="8.1" text-anchor="start" fill="#222" stroke="#222" stroke-width="0.2">25</text>
<text x="474.60" y="380.80" font-size="8.1" text-anchor="start" fill="#222" stroke="#222" stroke-width="0.2">20</text>
<text x="474.60" y="401.50" font-size="8.1" text-anchor="start" fill="#222" stroke="#222" stroke-width="0.2">15</text>
<text x="474.60" y="426.00" font-size="8.1" text-anchor="start" fill="#222" stroke="#222" stroke-width="0.2">10</text>
<path d="M344.40,321.70 L334.80,317.00 L334.80,326.40 Z" fill="#111"/>
<path d="M344.40,392.80 L334.80,387.90 L334.80,397.70 Z" fill="#111"/>
<path d="M344.40,408.50 L334.80,403.60 L334.80,413.40 Z" fill="#111"/>
<text x="314.90" y="324.60" font-size="7.6" text-anchor="start" fill="#222" stroke="#222" stroke-width="0.2" textLength="16.40" lengthAdjust="spacingAndGlyphs">BSA</text>
<text x="319.00" y="384.60" font-size="7.6" text-anchor="start" fill="#222" stroke="#222" stroke-width="0.2" textLength="19.00" lengthAdjust="spacingAndGlyphs">Intact</text>
<text x="321.00" y="395.50" font-size="7.6" text-anchor="start" fill="#222" stroke="#222" stroke-width="0.2" textLength="10.30" lengthAdjust="spacingAndGlyphs">H3</text>
<text x="318.80" y="412.30" font-size="7.6" text-anchor="start" fill="#222" stroke="#222" stroke-width="0.2" textLength="10.00" lengthAdjust="spacingAndGlyphs">H3</text>
<text x="307.70" y="423.60" font-size="7.6" text-anchor="start" fill="#222" stroke="#222" stroke-width="0.2" textLength="34.40" lengthAdjust="spacingAndGlyphs">fragments</text>
<text x="350.80" y="449.00" font-size="7.4" text-anchor="start" fill="#222" stroke="#222" stroke-width="0.2" textLength="10.20" lengthAdjust="spacingAndGlyphs">H3</text>
<text x="455.30" y="449.00" font-size="7.4" text-anchor="start" fill="#222" stroke="#222" stroke-width="0.2" textLength="14.70" lengthAdjust="spacingAndGlyphs">MW</text>
<path d="M365.60,442.00 L365.60,445.80 L449.20,445.80 L449.20,442.00" fill="none" stroke="#222" stroke-width="1.1"/>
<text x="367.60" y="455.30" font-size="7.4" text-anchor="middle" fill="#222" stroke="#222" stroke-width="0.2">0</text>
<text x="383.00" y="455.30" font-size="7.4" text-anchor="middle" fill="#222" stroke="#222" stroke-width="0.2">15</text>
<text x="400.60" y="455.30" font-size="7.4" text-anchor="middle" fill="#222" stroke="#222" stroke-width="0.2">30</text>
<text x="418.80" y="455.30" font-size="7.4" text-anchor="middle" fill="#222" stroke="#222" stroke-width="0.2">60</text>
<text x="439.70" y="455.30" font-size="7.4" text-anchor="middle" fill="#222" stroke="#222" stroke-width="0.2">120</text>
<text x="384.60" y="467.20" font-size="7.6" text-anchor="start" fill="#222" stroke="#222" stroke-width="0.2" textLength="45.60" lengthAdjust="spacingAndGlyphs">H3 Cleavage</text>
<text x="375.80" y="475.60" font-size="7.6" text-anchor="start" fill="#222" stroke="#222" stroke-width="0.2" textLength="63.40" lengthAdjust="spacingAndGlyphs">Time Course (min)</text>
<line x1="90.40" y1="522.90" x2="90.40" y2="618.30" stroke="#222" stroke-width="1.1"/>
<line x1="87.80" y1="618.30" x2="93.00" y2="618.30" stroke="#222" stroke-width="0.9"/>
<line x1="90.40" y1="626.60" x2="90.40" y2="637.70" stroke="#222" stroke-width="1.1"/>
<line x1="87.80" y1="626.60" x2="93.00" y2="626.60" stroke="#222" stroke-width="0.9"/>
<line x1="89.90" y1="637.20" x2="251.30" y2="637.20" stroke="#222" stroke-width="1.1"/>
<line x1="88.80" y1="525.52" x2="90.40" y2="525.52" stroke="#222" stroke-width="0.7"/>
<line x1="88.80" y1="529.36" x2="90.40" y2="529.36" stroke="#222" stroke-width="0.7"/>
<line x1="87.40" y1="533.20" x2="90.40" y2="533.20" stroke="#222" stroke-width="0.9"/>
<text x="84.40" y="535.70" font-size="7.3" text-anchor="end" fill="#222" stroke="#222" stroke-width="0.2">175</text>
<line x1="88.80" y1="537.04" x2="90.40" y2="537.04" stroke="#222" stroke-width="0.7"/>
<line x1="88.80" y1="540.88" x2="90.40" y2="540.88" stroke="#222" stroke-width="0.7"/>
<line x1="88.80" y1="544.72" x2="90.40" y2="544.72" stroke="#222" stroke-width="0.7"/>
<line x1="88.80" y1="548.56" x2="90.40" y2="548.56" stroke="#222" stroke-width="0.7"/>
<line x1="87.40" y1="552.40" x2="90.40" y2="552.40" stroke="#222" stroke-width="0.9"/>
<text x="84.40" y="554.90" font-size="7.3" text-anchor="end" fill="#222" stroke="#222" stroke-width="0.2">150</text>
<line x1="88.80" y1="556.24" x2="90.40" y2="556.24" stroke="#222" stroke-width="0.7"/>
<line x1="88.80" y1="560.08" x2="90.40" y2="560.08" stroke="#222" stroke-width="0.7"/>
<line x1="88.80" y1="563.92" x2="90.40" y2="563.92" stroke="#222" stroke-width="0.7"/>
<line x1="88.80" y1="567.76" x2="90.40" y2="567.76" stroke="#222" stroke-width="0.7"/>
<line x1="87.40" y1="571.60" x2="90.40" y2="571.60" stroke="#222" stroke-width="0.9"/>
<text x="84.40" y="574.10" font-size="7.3" text-anchor="end" fill="#222" stroke="#222" stroke-width="0.2">125</text>
<line x1="88.80" y1="575.44" x2="90.40" y2="575.44" stroke="#222" stroke-width="0.7"/>
<line x1="88.80" y1="579.28" x2="90.40" y2="579.28" stroke="#222" stroke-width="0.7"/>
<line x1="88.80" y1="583.12" x2="90.40" y2="583.12" stroke="#222" stroke-width="0.7"/>
<line x1="88.80" y1="586.96" x2="90.40" y2="586.96" stroke="#222" stroke-width="0.7"/>
<line x1="87.40" y1="590.80" x2="90.40" y2="590.80" stroke="#222" stroke-width="0.9"/>
<text x="84.40" y="593.30" font-size="7.3" text-anchor="end" fill="#222" stroke="#222" stroke-width="0.2">100</text>
<line x1="88.80" y1="594.64" x2="90.40" y2="594.64" stroke="#222" stroke-width="0.7"/>
<line x1="88.80" y1="598.48" x2="90.40" y2="598.48" stroke="#222" stroke-width="0.7"/>
<line x1="88.80" y1="602.32" x2="90.40" y2="602.32" stroke="#222" stroke-width="0.7"/>
<line x1="88.80" y1="606.16" x2="90.40" y2="606.16" stroke="#222" stroke-width="0.7"/>
<line x1="87.40" y1="610.00" x2="90.40" y2="610.00" stroke="#222" stroke-width="0.9"/>
<text x="84.40" y="612.50" font-size="7.3" text-anchor="end" fill="#222" stroke="#222" stroke-width="0.2">75</text>
<line x1="88.80" y1="613.84" x2="90.40" y2="613.84" stroke="#222" stroke-width="0.7"/>
<text x="84.40" y="628.80" font-size="7.3" text-anchor="end" fill="#222" stroke="#222" stroke-width="0.2">50</text>
<text x="84.40" y="639.70" font-size="7.3" text-anchor="end" fill="#222" stroke="#222" stroke-width="0.2">0</text>
<line x1="87.40" y1="637.20" x2="90.40" y2="637.20" stroke="#222" stroke-width="0.9"/>
<line x1="90.40" y1="637.20" x2="90.40" y2="639.60" stroke="#222" stroke-width="0.9"/>
<line x1="97.90" y1="637.20" x2="97.90" y2="638.60" stroke="#222" stroke-width="0.8"/>
<line x1="105.40" y1="637.20" x2="105.40" y2="638.60" stroke="#222" stroke-width="0.8"/>
<line x1="112.90" y1="637.20" x2="112.90" y2="638.60" stroke="#222" stroke-width="0.8"/>
<line x1="120.40" y1="637.20" x2="120.40" y2="639.60" stroke="#222" stroke-width="0.9"/>
<line x1="127.90" y1="637.20" x2="127.90" y2="638.60" stroke="#222" stroke-width="0.8"/>
<line x1="135.40" y1="637.20" x2="135.40" y2="638.60" stroke="#222" stroke-width="0.8"/>
<line x1="142.90" y1="637.20" x2="142.90" y2="638.60" stroke="#222" stroke-width="0.8"/>
<line x1="150.40" y1="637.20" x2="150.40" y2="639.60" stroke="#222" stroke-width="0.9"/>
<line x1="157.90" y1="637.20" x2="157.90" y2="638.60" stroke="#222" stroke-width="0.8"/>
<line x1="165.40" y1="637.20" x2="165.40" y2="638.60" stroke="#222" stroke-width="0.8"/>
<line x1="172.90" y1="637.20" x2="172.90" y2="638.60" stroke="#222" stroke-width="0.8"/>
<line x1="180.40" y1="637.20" x2="180.40" y2="639.60" stroke="#222" stroke-width="0.9"/>
<line x1="187.90" y1="637.20" x2="187.90" y2="638.60" stroke="#222" stroke-width="0.8"/>
<line x1="195.40" y1="637.20" x2="195.40" y2="638.60" stroke="#222" stroke-width="0.8"/>
<line x1="202.90" y1="637.20" x2="202.90" y2="638.60" stroke="#222" stroke-width="0.8"/>
<line x1="210.40" y1="637.20" x2="210.40" y2="639.60" stroke="#222" stroke-width="0.9"/>
<line x1="217.90" y1="637.20" x2="217.90" y2="638.60" stroke="#222" stroke-width="0.8"/>
<line x1="225.40" y1="637.20" x2="225.40" y2="638.60" stroke="#222" stroke-width="0.8"/>
<line x1="232.90" y1="637.20" x2="232.90" y2="638.60" stroke="#222" stroke-width="0.8"/>
<line x1="240.40" y1="637.20" x2="240.40" y2="639.60" stroke="#222" stroke-width="0.9"/>
<line x1="247.90" y1="637.20" x2="247.90" y2="638.60" stroke="#222" stroke-width="0.8"/>
<text x="90.40" y="650.30" font-size="7.5" text-anchor="middle" fill="#222" stroke="#222" stroke-width="0.2">0</text>
<text x="120.40" y="650.30" font-size="7.5" text-anchor="middle" fill="#222" stroke="#222" stroke-width="0.2">20</text>
<text x="150.40" y="650.30" font-size="7.5" text-anchor="middle" fill="#222" stroke="#222" stroke-width="0.2">40</text>
<text x="180.40" y="650.30" font-size="7.5" text-anchor="middle" fill="#222" stroke="#222" stroke-width="0.2">60</text>
<text x="210.40" y="650.30" font-size="7.5" text-anchor="middle" fill="#222" stroke="#222" stroke-width="0.2">80</text>
<text x="240.40" y="650.30" font-size="7.5" text-anchor="middle" fill="#222" stroke="#222" stroke-width="0.2">100</text>
<line x1="126.50" y1="522.90" x2="126.50" y2="637.20" stroke="#222" stroke-width="0.95" stroke-dasharray="1.7,1.5"/>
<line x1="90.40" y1="590.40" x2="248.80" y2="590.40" stroke="#222" stroke-width="0.95" stroke-dasharray="1.7,1.5"/>
<text x="112.00" y="504.50" font-size="9.2" text-anchor="start" fill="#222" stroke="#222" stroke-width="0.2">V</text>
<text x="117.80" y="506.50" font-size="6.3" text-anchor="start" fill="#222" stroke="#222" stroke-width="0.2">H</text>
<text x="125.20" y="504.50" font-size="9.2" text-anchor="start" fill="#222" stroke="#222" stroke-width="0.2" textLength="105.60" lengthAdjust="spacingAndGlyphs">Amino Acid Substitutions</text>
<text x="134.20" y="516.50" font-size="9.2" text-anchor="start" fill="#222" stroke="#222" stroke-width="0.2" textLength="73.80" lengthAdjust="spacingAndGlyphs">in Different CDRs</text>
<text transform="translate(40.48,580.50) rotate(-90)" x="0" y="0" font-size="8.4" text-anchor="middle" fill="#222" textLength="71.20" lengthAdjust="spacingAndGlyphs" stroke="#222" stroke-width="0.2">% Histone H3 cleavage</text>
<text transform="translate(53.38,580.00) rotate(-90)" x="0" y="0" font-size="8.4" text-anchor="middle" fill="#222" textLength="100.50" lengthAdjust="spacingAndGlyphs" stroke="#222" stroke-width="0.2">(normalized against amount of H3</text>
<text transform="translate(64.98,579.60) rotate(-90)" x="0" y="0" font-size="8.4" text-anchor="middle" fill="#222" textLength="87.20" lengthAdjust="spacingAndGlyphs" stroke="#222" stroke-width="0.2">cleavage by APC in 120 min)</text>
<text x="133.20" y="662.00" font-size="8.4" text-anchor="start" fill="#222" stroke="#222" stroke-width="0.2" textLength="75.30" lengthAdjust="spacingAndGlyphs">% APC activity in plasma</text>
<circle cx="215.60" cy="535.50" r="2.2" fill="#f39a2c"/>
<text x="221.60" y="538.20" font-size="7.8" text-anchor="start" fill="#222" stroke="#222" stroke-width="0.2" textLength="19.80" lengthAdjust="spacingAndGlyphs">CDR1</text>
<circle cx="215.60" cy="545.60" r="2.2" fill="#4a1a60"/>
<text x="221.60" y="548.30" font-size="7.8" text-anchor="start" fill="#222" stroke="#222" stroke-width="0.2" textLength="19.80" lengthAdjust="spacingAndGlyphs">CDR2</text>
<circle cx="215.60" cy="555.70" r="2.2" fill="#3da04a"/>
<text x="221.60" y="558.40" font-size="7.8" text-anchor="start" fill="#222" stroke="#222" stroke-width="0.2" textLength="19.80" lengthAdjust="spacingAndGlyphs">CDR3</text>
<line x1="121.70" y1="547.80" x2="121.70" y2="560.60" stroke="#333" stroke-width="0.6"/>
<line x1="118.10" y1="566.80" x2="118.10" y2="580.20" stroke="#333" stroke-width="0.6"/>
<line x1="109.20" y1="573.50" x2="115.40" y2="583.00" stroke="#333" stroke-width="0.6"/>
<line x1="108.00" y1="582.70" x2="112.60" y2="585.00" stroke="#333" stroke-width="0.6"/>
<line x1="108.00" y1="587.30" x2="112.60" y2="587.30" stroke="#333" stroke-width="0.6"/>
<line x1="135.40" y1="578.40" x2="143.80" y2="584.50" stroke="#333" stroke-width="0.6"/>
<line x1="126.30" y1="590.40" x2="146.90" y2="594.70" stroke="#333" stroke-width="0.6"/>
<circle cx="121.70" cy="562.50" r="1.65" fill="#f39a2c"/>
<circle cx="118.10" cy="582.10" r="1.65" fill="#3da04a"/>
<circle cx="116.20" cy="584.40" r="1.65" fill="#6a1a1a"/>
<circle cx="113.30" cy="585.30" r="1.65" fill="#f39a2c"/>
<circle cx="114.40" cy="587.10" r="1.65" fill="#4a1a60"/>
<circle cx="133.10" cy="573.20" r="1.65" fill="#f39a2c"/>
<circle cx="154.60" cy="568.50" r="1.65" fill="#f39a2c"/>
<circle cx="146.20" cy="578.80" r="1.65" fill="#f39a2c"/>
<circle cx="135.40" cy="578.40" r="1.65" fill="#4a1a60"/>
<circle cx="131.10" cy="595.30" r="1.65" fill="#4a1a60"/>
<path d="M126.50,587.80 L129.10,590.40 L126.50,593.00 L123.90,590.40 Z" fill="#2d4f86" stroke="#1e3a6a" stroke-width="0.4"/>
<circle cx="126.50" cy="590.40" r="1.1" fill="#9cc0e8"/>
<circle cx="241.10" cy="590.60" r="1.7" fill="#3bb3cf"/>
<text x="109.20" y="546.90" font-size="7.0" text-anchor="start" fill="#222" stroke="#222" stroke-width="0.2" textLength="15.60" lengthAdjust="spacingAndGlyphs">N31F</text>
<text x="99.40" y="566.00" font-size="7.0" text-anchor="start" fill="#222" stroke="#222" stroke-width="0.2" textLength="20.00" lengthAdjust="spacingAndGlyphs">F103M</text>
<text x="93.00" y="572.30" font-size="7.0" text-anchor="start" fill="#222" stroke="#222" stroke-width="0.2" textLength="13.90" lengthAdjust="spacingAndGlyphs">S53T</text>
<text x="91.90" y="582.10" font-size="7.0" text-anchor="start" fill="#222" stroke="#222" stroke-width="0.2" textLength="15.60" lengthAdjust="spacingAndGlyphs">M34F</text>
<text x="91.70" y="589.60" font-size="7.0" text-anchor="start" fill="#222" stroke="#222" stroke-width="0.2" textLength="15.80" lengthAdjust="spacingAndGlyphs">S54R</text>
<text x="131.10" y="570.40" font-size="7.0" text-anchor="start" fill="#222" stroke="#222" stroke-width="0.2" textLength="13.50" lengthAdjust="spacingAndGlyphs">Y32F</text>
<text x="156.90" y="567.00" font-size="7.0" text-anchor="start" fill="#222" stroke="#222" stroke-width="0.2" textLength="13.90" lengthAdjust="spacingAndGlyphs">N31I</text>
<text x="150.00" y="579.30" font-size="7.0" text-anchor="start" fill="#222" stroke="#222" stroke-width="0.2" textLength="16.20" lengthAdjust="spacingAndGlyphs">N31P</text>
<text x="146.50" y="588.50" font-size="7.0" text-anchor="start" fill="#222" stroke="#222" stroke-width="0.2" textLength="15.30" lengthAdjust="spacingAndGlyphs">T57P</text>
<text x="148.50" y="598.10" font-size="7.0" text-anchor="start" fill="#222" stroke="#222" stroke-width="0.2" textLength="60.30" lengthAdjust="spacingAndGlyphs">TPP-26870 (Parental)</text>
<text x="128.00" y="603.90" font-size="7.0" text-anchor="start" fill="#222" stroke="#222" stroke-width="0.2" textLength="16.30" lengthAdjust="spacingAndGlyphs">S56R</text>
<text x="231.00" y="598.70" font-size="7.0" text-anchor="start" fill="#222" stroke="#222" stroke-width="0.2" textLength="17.50" lengthAdjust="spacingAndGlyphs">No Ab</text>
<line x1="335.30" y1="523.60" x2="335.30" y2="620.10" stroke="#222" stroke-width="1.1"/>
<line x1="332.70" y1="620.10" x2="337.90" y2="620.10" stroke="#222" stroke-width="0.9"/>
<line x1="335.30" y1="628.50" x2="335.30" y2="639.50" stroke="#222" stroke-width="1.1"/>
<line x1="332.70" y1="628.50" x2="337.90" y2="628.50" stroke="#222" stroke-width="0.9"/>
<line x1="334.80" y1="639.00" x2="497.20" y2="639.00" stroke="#222" stroke-width="1.1"/>
<line x1="333.70" y1="525.87" x2="335.30" y2="525.87" stroke="#222" stroke-width="0.7"/>
<line x1="333.70" y1="529.76" x2="335.30" y2="529.76" stroke="#222" stroke-width="0.7"/>
<line x1="332.30" y1="533.65" x2="335.30" y2="533.65" stroke="#222" stroke-width="0.9"/>
<text x="329.30" y="536.15" font-size="7.3" text-anchor="end" fill="#222" stroke="#222" stroke-width="0.2">175</text>
<line x1="333.70" y1="537.54" x2="335.30" y2="537.54" stroke="#222" stroke-width="0.7"/>
<line x1="333.70" y1="541.43" x2="335.30" y2="541.43" stroke="#222" stroke-width="0.7"/>
<line x1="333.70" y1="545.32" x2="335.30" y2="545.32" stroke="#222" stroke-width="0.7"/>
<line x1="333.70" y1="549.21" x2="335.30" y2="549.21" stroke="#222" stroke-width="0.7"/>
<line x1="332.30" y1="553.10" x2="335.30" y2="553.10" stroke="#222" stroke-width="0.9"/>
<text x="329.30" y="555.60" font-size="7.3" text-anchor="end" fill="#222" stroke="#222" stroke-width="0.2">150</text>
<line x1="333.70" y1="556.99" x2="335.30" y2="556.99" stroke="#222" stroke-width="0.7"/>
<line x1="333.70" y1="560.88" x2="335.30" y2="560.88" stroke="#222" stroke-width="0.7"/>
<line x1="333.70" y1="564.77" x2="335.30" y2="564.77" stroke="#222" stroke-width="0.7"/>
<line x1="333.70" y1="568.66" x2="335.30" y2="568.66" stroke="#222" stroke-width="0.7"/>
<line x1="332.30" y1="572.55" x2="335.30" y2="572.55" stroke="#222" stroke-width="0.9"/>
<text x="329.30" y="575.05" font-size="7.3" text-anchor="end" fill="#222" stroke="#222" stroke-width="0.2">125</text>
<line x1="333.70" y1="576.44" x2="335.30" y2="576.44" stroke="#222" stroke-width="0.7"/>
<line x1="333.70" y1="580.33" x2="335.30" y2="580.33" stroke="#222" stroke-width="0.7"/>
<line x1="333.70" y1="584.22" x2="335.30" y2="584.22" stroke="#222" stroke-width="0.7"/>
<line x1="333.70" y1="588.11" x2="335.30" y2="588.11" stroke="#222" stroke-width="0.7"/>
<line x1="332.30" y1="592.00" x2="335.30" y2="592.00" stroke="#222" stroke-width="0.9"/>
<text x="329.30" y="594.50" font-size="7.3" text-anchor="end" fill="#222" stroke="#222" stroke-width="0.2">100</text>
<line x1="333.70" y1="595.89" x2="335.30" y2="595.89" stroke="#222" stroke-width="0.7"/>
<line x1="333.70" y1="599.78" x2="335.30" y2="599.78" stroke="#222" stroke-width="0.7"/>
<line x1="333.70" y1="603.67" x2="335.30" y2="603.67" stroke="#222" stroke-width="0.7"/>
<line x1="333.70" y1="607.56" x2="335.30" y2="607.56" stroke="#222" stroke-width="0.7"/>
<line x1="332.30" y1="611.45" x2="335.30" y2="611.45" stroke="#222" stroke-width="0.9"/>
<text x="329.30" y="613.95" font-size="7.3" text-anchor="end" fill="#222" stroke="#222" stroke-width="0.2">75</text>
<line x1="333.70" y1="615.34" x2="335.30" y2="615.34" stroke="#222" stroke-width="0.7"/>
<text x="329.30" y="630.80" font-size="7.3" text-anchor="end" fill="#222" stroke="#222" stroke-width="0.2">50</text>
<text x="329.30" y="641.50" font-size="7.3" text-anchor="end" fill="#222" stroke="#222" stroke-width="0.2">0</text>
<line x1="332.30" y1="639.00" x2="335.30" y2="639.00" stroke="#222" stroke-width="0.9"/>
<line x1="335.30" y1="639.00" x2="335.30" y2="641.40" stroke="#222" stroke-width="0.9"/>
<line x1="342.85" y1="639.00" x2="342.85" y2="640.40" stroke="#222" stroke-width="0.8"/>
<line x1="350.40" y1="639.00" x2="350.40" y2="640.40" stroke="#222" stroke-width="0.8"/>
<line x1="357.95" y1="639.00" x2="357.95" y2="640.40" stroke="#222" stroke-width="0.8"/>
<line x1="365.50" y1="639.00" x2="365.50" y2="641.40" stroke="#222" stroke-width="0.9"/>
<line x1="373.05" y1="639.00" x2="373.05" y2="640.40" stroke="#222" stroke-width="0.8"/>
<line x1="380.60" y1="639.00" x2="380.60" y2="640.40" stroke="#222" stroke-width="0.8"/>
<line x1="388.15" y1="639.00" x2="388.15" y2="640.40" stroke="#222" stroke-width="0.8"/>
<line x1="395.70" y1="639.00" x2="395.70" y2="641.40" stroke="#222" stroke-width="0.9"/>
<line x1="403.25" y1="639.00" x2="403.25" y2="640.40" stroke="#222" stroke-width="0.8"/>
<line x1="410.80" y1="639.00" x2="410.80" y2="640.40" stroke="#222" stroke-width="0.8"/>
<line x1="418.35" y1="639.00" x2="418.35" y2="640.40" stroke="#222" stroke-width="0.8"/>
<line x1="425.90" y1="639.00" x2="425.90" y2="641.40" stroke="#222" stroke-width="0.9"/>
<line x1="433.45" y1="639.00" x2="433.45" y2="640.40" stroke="#222" stroke-width="0.8"/>
<line x1="441.00" y1="639.00" x2="441.00" y2="640.40" stroke="#222" stroke-width="0.8"/>
<line x1="448.55" y1="639.00" x2="448.55" y2="640.40" stroke="#222" stroke-width="0.8"/>
<line x1="456.10" y1="639.00" x2="456.10" y2="641.40" stroke="#222" stroke-width="0.9"/>
<line x1="463.65" y1="639.00" x2="463.65" y2="640.40" stroke="#222" stroke-width="0.8"/>
<line x1="471.20" y1="639.00" x2="471.20" y2="640.40" stroke="#222" stroke-width="0.8"/>
<line x1="478.75" y1="639.00" x2="478.75" y2="640.40" stroke="#222" stroke-width="0.8"/>
<line x1="486.30" y1="639.00" x2="486.30" y2="641.40" stroke="#222" stroke-width="0.9"/>
<line x1="493.85" y1="639.00" x2="493.85" y2="640.40" stroke="#222" stroke-width="0.8"/>
<text x="335.30" y="652.20" font-size="7.5" text-anchor="middle" fill="#222" stroke="#222" stroke-width="0.2">0</text>
<text x="365.50" y="652.20" font-size="7.5" text-anchor="middle" fill="#222" stroke="#222" stroke-width="0.2">20</text>
<text x="395.70" y="652.20" font-size="7.5" text-anchor="middle" fill="#222" stroke="#222" stroke-width="0.2">40</text>
<text x="425.90" y="652.20" font-size="7.5" text-anchor="middle" fill="#222" stroke="#222" stroke-width="0.2">60</text>
<text x="456.10" y="652.20" font-size="7.5" text-anchor="middle" fill="#222" stroke="#222" stroke-width="0.2">80</text>
<text x="486.30" y="652.20" font-size="7.5" text-anchor="middle" fill="#222" stroke="#222" stroke-width="0.2">100</text>
<line x1="371.20" y1="523.60" x2="371.20" y2="639.00" stroke="#222" stroke-width="0.95" stroke-dasharray="1.7,1.5"/>
<line x1="335.30" y1="591.90" x2="494.70" y2="591.90" stroke="#222" stroke-width="0.95" stroke-dasharray="1.7,1.5"/>
<text x="357.80" y="506.10" font-size="9.2" text-anchor="start" fill="#222" stroke="#222" stroke-width="0.2">V</text>
<text x="363.60" y="508.10" font-size="6.3" text-anchor="start" fill="#222" stroke="#222" stroke-width="0.2">L</text>
<text x="371.00" y="506.10" font-size="9.2" text-anchor="start" fill="#222" stroke="#222" stroke-width="0.2" textLength="104.00" lengthAdjust="spacingAndGlyphs">Amino Acid Substitutions</text>
<text x="380.20" y="517.70" font-size="9.2" text-anchor="start" fill="#222" stroke="#222" stroke-width="0.2" textLength="72.80" lengthAdjust="spacingAndGlyphs">in Different CDRs</text>
<text transform="translate(285.48,581.40) rotate(-90)" x="0" y="0" font-size="8.4" text-anchor="middle" fill="#222" textLength="71.20" lengthAdjust="spacingAndGlyphs" stroke="#222" stroke-width="0.2">% Histone H3 cleavage</text>
<text transform="translate(297.18,581.40) rotate(-90)" x="0" y="0" font-size="8.4" text-anchor="middle" fill="#222" textLength="101.40" lengthAdjust="spacingAndGlyphs" stroke="#222" stroke-width="0.2">(normalized against amount of H3</text>
<text transform="translate(308.68,580.50) rotate(-90)" x="0" y="0" font-size="8.4" text-anchor="middle" fill="#222" textLength="87.20" lengthAdjust="spacingAndGlyphs" stroke="#222" stroke-width="0.2">cleavage by APC in 120 min)</text>
<text x="378.50" y="663.50" font-size="8.4" text-anchor="start" fill="#222" stroke="#222" stroke-width="0.2" textLength="74.90" lengthAdjust="spacingAndGlyphs">% APC activity in plasma</text>
<circle cx="462.30" cy="536.50" r="2.2" fill="#f39a2c"/>
<text x="468.30" y="539.20" font-size="7.8" text-anchor="start" fill="#222" stroke="#222" stroke-width="0.2" textLength="19.80" lengthAdjust="spacingAndGlyphs">CDR1</text>
<circle cx="462.30" cy="546.60" r="2.2" fill="#4a1a60"/>
<text x="468.30" y="549.30" font-size="7.8" text-anchor="start" fill="#222" stroke="#222" stroke-width="0.2" textLength="19.80" lengthAdjust="spacingAndGlyphs">CDR2</text>
<circle cx="462.30" cy="556.70" r="2.2" fill="#3da04a"/>
<text x="468.30" y="559.40" font-size="7.8" text-anchor="start" fill="#222" stroke="#222" stroke-width="0.2" textLength="19.80" lengthAdjust="spacingAndGlyphs">CDR3</text>
<line x1="372.40" y1="593.10" x2="389.70" y2="600.00" stroke="#333" stroke-width="0.6"/>
<line x1="371.50" y1="597.50" x2="384.50" y2="605.30" stroke="#333" stroke-width="0.6"/>
<line x1="368.30" y1="604.50" x2="379.30" y2="616.50" stroke="#333" stroke-width="0.6"/>
<line x1="364.60" y1="608.70" x2="364.60" y2="615.60" stroke="#333" stroke-width="0.6"/>
<circle cx="378.40" cy="530.90" r="1.65" fill="#f39a2c"/>
<circle cx="355.60" cy="563.20" r="1.65" fill="#4a1a60"/>
<circle cx="377.60" cy="564.60" r="1.65" fill="#4a1a60"/>
<circle cx="380.20" cy="571.50" r="1.65" fill="#3da04a"/>
<circle cx="363.20" cy="584.50" r="1.65" fill="#3da04a"/>
<circle cx="389.20" cy="588.00" r="1.65" fill="#f39a2c"/>
<circle cx="370.10" cy="596.10" r="1.65" fill="#4a1a60"/>
<circle cx="367.20" cy="602.70" r="1.65" fill="#4a1a60"/>
<circle cx="364.10" cy="605.30" r="1.65" fill="#3da04a"/>
<circle cx="350.80" cy="602.70" r="1.65" fill="#4a1a60"/>
<circle cx="355.10" cy="607.00" r="1.65" fill="#4a1a60"/>
<path d="M371.20,589.30 L373.80,591.90 L371.20,594.50 L368.60,591.90 Z" fill="#2d4f86" stroke="#1e3a6a" stroke-width="0.4"/>
<circle cx="371.20" cy="591.90" r="1.1" fill="#9cc0e8"/>
<circle cx="488.00" cy="592.30" r="1.7" fill="#4ba3d8"/>
<text x="381.90" y="533.90" font-size="7.0" text-anchor="start" fill="#222" stroke="#222" stroke-width="0.2" textLength="16.60" lengthAdjust="spacingAndGlyphs">Q27E</text>
<text x="336.60" y="561.10" font-size="7.0" text-anchor="start" fill="#222" stroke="#222" stroke-width="0.2" textLength="17.60" lengthAdjust="spacingAndGlyphs">N57W</text>
<text x="379.30" y="561.10" font-size="7.0" text-anchor="start" fill="#222" stroke="#222" stroke-width="0.2" textLength="18.20" lengthAdjust="spacingAndGlyphs">S56W</text>
<text x="382.80" y="574.60" font-size="7.0" text-anchor="start" fill="#222" stroke="#222" stroke-width="0.2" textLength="16.40" lengthAdjust="spacingAndGlyphs">Q93T</text>
<text x="348.70" y="582.80" font-size="7.0" text-anchor="start" fill="#222" stroke="#222" stroke-width="0.2" textLength="18.20" lengthAdjust="spacingAndGlyphs">Y100F</text>
<text x="389.20" y="587.10" font-size="7.0" text-anchor="start" fill="#222" stroke="#222" stroke-width="0.2" textLength="16.10" lengthAdjust="spacingAndGlyphs">S28R</text>
<text x="336.90" y="600.90" font-size="7.0" text-anchor="start" fill="#222" stroke="#222" stroke-width="0.2" textLength="15.60" lengthAdjust="spacingAndGlyphs">N57R</text>
<text x="340.00" y="614.80" font-size="7.0" text-anchor="start" fill="#222" stroke="#222" stroke-width="0.2" textLength="16.00" lengthAdjust="spacingAndGlyphs">S56R</text>
<text x="343.00" y="623.40" font-size="7.0" text-anchor="start" fill="#222" stroke="#222" stroke-width="0.2" textLength="21.60" lengthAdjust="spacingAndGlyphs">Y100W</text>
<text x="390.90" y="603.30" font-size="7.0" text-anchor="start" fill="#222" stroke="#222" stroke-width="0.2" textLength="62.30" lengthAdjust="spacingAndGlyphs">TPP-26870 (Parental)</text>
<text x="385.40" y="612.20" font-size="7.0" text-anchor="start" fill="#222" stroke="#222" stroke-width="0.2" textLength="16.40" lengthAdjust="spacingAndGlyphs">N57H</text>
<text x="379.30" y="622.60" font-size="7.0" text-anchor="start" fill="#222" stroke="#222" stroke-width="0.2" textLength="14.70" lengthAdjust="spacingAndGlyphs">A55K</text>
<text x="474.60" y="589.20" font-size="7.0" text-anchor="start" fill="#222" stroke="#222" stroke-width="0.2" textLength="16.20" lengthAdjust="spacingAndGlyphs">NoAb</text>
<rect x="0.5" y="0.5" width="519" height="674" fill="none" stroke="#5a5a5a" stroke-width="1"/>
<line x1="0.5" y1="1" x2="0.5" y2="674" stroke="#666" stroke-width="1"/>
</svg></body></html>
